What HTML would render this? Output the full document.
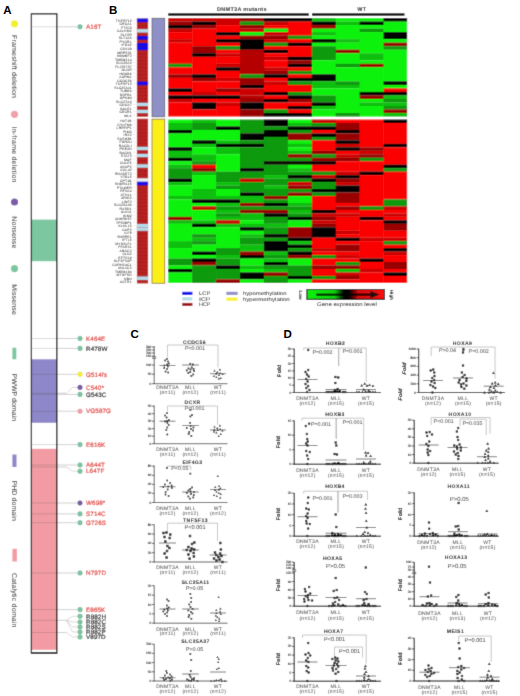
<!DOCTYPE html>
<html lang="en">
<head>
<meta charset="utf-8">
<title>DNMT3A mutations figure</title>
<style>
html,body{margin:0;padding:0;background:#fff;}
body{width:520px;height:696px;overflow:hidden;font-family:"Liberation Sans",sans-serif;}
svg{display:block;}
</style>
</head>
<body>
<svg width="520" height="696" viewBox="0 0 520 696" text-rendering="geometricPrecision">
<defs><filter id="soft" x="0" y="0" width="520" height="696" filterUnits="userSpaceOnUse"><feConvolveMatrix order="3" kernelMatrix="1 6 1 6 36 6 1 6 1" divisor="64" edgeMode="duplicate" preserveAlpha="true"/></filter></defs>
<rect x="0" y="0" width="520" height="696" fill="#ffffff"/>
<g filter="url(#soft)">
<rect x="0" y="0" width="520" height="696" fill="#ffffff"/>
<rect x="31.4" y="219.6" width="25.4" height="41.6" fill="#7cc6a0"/>
<rect x="31.4" y="359.3" width="25.4" height="63.5" fill="#8e87c9"/>
<rect x="31.4" y="448.8" width="25.4" height="201" fill="#f29ba3"/>
<circle cx="14.5" cy="23.8" r="3.6" fill="#f5ee2e"/>
<text transform="translate(11.9,35) rotate(90)" font-family="'Liberation Sans', sans-serif" font-size="7" fill="#222" textLength="63" lengthAdjust="spacing">Frameshift deletion</text>
<circle cx="14.5" cy="114.3" r="3.6" fill="#f0a0a8"/>
<text transform="translate(11.9,126.5) rotate(90)" font-family="'Liberation Sans', sans-serif" font-size="7" fill="#222" textLength="56" lengthAdjust="spacing">In-frame deletion</text>
<circle cx="14.5" cy="202" r="3.6" fill="#7b5aa6"/>
<text transform="translate(11.9,216.3) rotate(90)" font-family="'Liberation Sans', sans-serif" font-size="7" fill="#222" textLength="32" lengthAdjust="spacing">Nonsense</text>
<circle cx="14.5" cy="268.6" r="3.6" fill="#7cc6a0"/>
<text transform="translate(11.9,284.3) rotate(90)" font-family="'Liberation Sans', sans-serif" font-size="7" fill="#222" textLength="30.5" lengthAdjust="spacing">Missense</text>
<rect x="12.4" y="347.7" width="3.9" height="11.6" fill="#7cc6a0"/>
<text transform="translate(11.9,373.6) rotate(90)" font-family="'Liberation Sans', sans-serif" font-size="7" fill="#222" textLength="47.5" lengthAdjust="spacing">PWWP domain</text>
<rect x="12.4" y="454.5" width="4.1" height="12.5" fill="#8e87c9"/>
<text transform="translate(11.9,480.4) rotate(90)" font-family="'Liberation Sans', sans-serif" font-size="7" fill="#222" textLength="40.5" lengthAdjust="spacing">PHD domain</text>
<rect x="12.4" y="548.8" width="4.5" height="12.7" fill="#f29ba3"/>
<text transform="translate(11.9,573) rotate(90)" font-family="'Liberation Sans', sans-serif" font-size="7" fill="#222" textLength="54.5" lengthAdjust="spacing">Catalytic domain</text>
<line x1="31.4" y1="26.8" x2="56.8" y2="26.8" stroke="#444" stroke-opacity="0.32" stroke-width="0.6"/>
<line x1="56.8" y1="26.8" x2="77" y2="26.8" stroke="#aaa" stroke-width="0.55"/>
<circle cx="80" cy="26.8" r="2.3" fill="#7cc6a0" stroke="#58a884" stroke-width="0.5"/>
<text x="86" y="29.0" font-family="'Liberation Sans', sans-serif" font-size="6.3" fill="#e03a34" stroke="#e03a34" stroke-width="0.18" letter-spacing="0.1">A16T</text>
<line x1="31.4" y1="338.5" x2="56.8" y2="338.5" stroke="#444" stroke-opacity="0.32" stroke-width="0.6"/>
<line x1="56.8" y1="338.5" x2="77" y2="338.5" stroke="#aaa" stroke-width="0.55"/>
<circle cx="80" cy="338.5" r="2.3" fill="#7cc6a0" stroke="#58a884" stroke-width="0.5"/>
<text x="86" y="340.7" font-family="'Liberation Sans', sans-serif" font-size="6.3" fill="#e03a34" stroke="#e03a34" stroke-width="0.18" letter-spacing="0.1">K464E</text>
<line x1="31.4" y1="348.4" x2="56.8" y2="348.4" stroke="#444" stroke-opacity="0.32" stroke-width="0.6"/>
<line x1="56.8" y1="348.4" x2="77" y2="348.4" stroke="#aaa" stroke-width="0.55"/>
<circle cx="80" cy="348.4" r="2.3" fill="#7cc6a0" stroke="#58a884" stroke-width="0.5"/>
<text x="86" y="350.59999999999997" font-family="'Liberation Sans', sans-serif" font-size="6.3" fill="#1a1a1a" stroke="#1a1a1a" stroke-width="0.18" letter-spacing="0.1">R478W</text>
<line x1="31.4" y1="374.3" x2="56.8" y2="374.3" stroke="#444" stroke-opacity="0.32" stroke-width="0.6"/>
<line x1="56.8" y1="374.3" x2="77" y2="374.3" stroke="#aaa" stroke-width="0.55"/>
<circle cx="80" cy="374.3" r="2.3" fill="#f5ee2e" stroke="#d8d020" stroke-width="0.5"/>
<text x="86" y="376.5" font-family="'Liberation Sans', sans-serif" font-size="6.3" fill="#e03a34" stroke="#e03a34" stroke-width="0.18" letter-spacing="0.1">G514fs</text>
<line x1="31.4" y1="393.2" x2="56.8" y2="393.2" stroke="#444" stroke-opacity="0.32" stroke-width="0.6"/>
<line x1="56.8" y1="393.2" x2="66.5" y2="393.2" stroke="#aaa" stroke-width="0.55"/>
<polyline points="66.5,393.2 72.5,387.4 77,387.4" fill="none" stroke="#b4b4b4" stroke-width="0.5"/>
<circle cx="80" cy="387.4" r="2.3" fill="#7b5aa6" stroke="#5a3f85" stroke-width="0.5"/>
<text x="86" y="389.59999999999997" font-family="'Liberation Sans', sans-serif" font-size="6.3" fill="#e03a34" stroke="#e03a34" stroke-width="0.18" letter-spacing="0.1">C540*</text>
<line x1="31.4" y1="394.4" x2="56.8" y2="394.4" stroke="#444" stroke-opacity="0.32" stroke-width="0.6"/>
<line x1="56.8" y1="394.4" x2="77" y2="394.4" stroke="#aaa" stroke-width="0.55"/>
<circle cx="80" cy="394.4" r="2.3" fill="#7cc6a0" stroke="#58a884" stroke-width="0.5"/>
<text x="86" y="396.59999999999997" font-family="'Liberation Sans', sans-serif" font-size="6.3" fill="#1a1a1a" stroke="#1a1a1a" stroke-width="0.18" letter-spacing="0.1">G543C</text>
<line x1="31.4" y1="411.2" x2="56.8" y2="411.2" stroke="#444" stroke-opacity="0.32" stroke-width="0.6"/>
<line x1="56.8" y1="411.2" x2="77" y2="411.2" stroke="#aaa" stroke-width="0.55"/>
<circle cx="80" cy="411.2" r="2.3" fill="#f0a0a8" stroke="#d88890" stroke-width="0.5"/>
<text x="86" y="413.4" font-family="'Liberation Sans', sans-serif" font-size="6.3" fill="#e03a34" stroke="#e03a34" stroke-width="0.18" letter-spacing="0.1">VG587G</text>
<line x1="31.4" y1="444.6" x2="56.8" y2="444.6" stroke="#444" stroke-opacity="0.32" stroke-width="0.6"/>
<line x1="56.8" y1="444.6" x2="77" y2="444.6" stroke="#aaa" stroke-width="0.55"/>
<circle cx="80" cy="444.6" r="2.3" fill="#7cc6a0" stroke="#58a884" stroke-width="0.5"/>
<text x="86" y="446.8" font-family="'Liberation Sans', sans-serif" font-size="6.3" fill="#e03a34" stroke="#e03a34" stroke-width="0.18" letter-spacing="0.1">E616K</text>
<line x1="31.4" y1="465.0" x2="56.8" y2="465.0" stroke="#444" stroke-opacity="0.32" stroke-width="0.6"/>
<line x1="56.8" y1="465.0" x2="77" y2="465.0" stroke="#aaa" stroke-width="0.55"/>
<circle cx="80" cy="465.0" r="2.3" fill="#7cc6a0" stroke="#58a884" stroke-width="0.5"/>
<text x="86" y="467.2" font-family="'Liberation Sans', sans-serif" font-size="6.3" fill="#e03a34" stroke="#e03a34" stroke-width="0.18" letter-spacing="0.1">A644T</text>
<line x1="31.4" y1="467.0" x2="56.8" y2="467.0" stroke="#444" stroke-opacity="0.32" stroke-width="0.6"/>
<line x1="56.8" y1="467.0" x2="66.5" y2="467.0" stroke="#aaa" stroke-width="0.55"/>
<polyline points="66.5,467.0 72.5,471.2 77,471.2" fill="none" stroke="#b4b4b4" stroke-width="0.5"/>
<circle cx="80" cy="471.2" r="2.3" fill="#7cc6a0" stroke="#58a884" stroke-width="0.5"/>
<text x="86" y="473.4" font-family="'Liberation Sans', sans-serif" font-size="6.3" fill="#e03a34" stroke="#e03a34" stroke-width="0.18" letter-spacing="0.1">L647F</text>
<line x1="31.4" y1="503.0" x2="56.8" y2="503.0" stroke="#444" stroke-opacity="0.32" stroke-width="0.6"/>
<line x1="56.8" y1="503.0" x2="77" y2="503.0" stroke="#aaa" stroke-width="0.55"/>
<circle cx="80" cy="503.0" r="2.3" fill="#7b5aa6" stroke="#5a3f85" stroke-width="0.5"/>
<text x="86" y="505.2" font-family="'Liberation Sans', sans-serif" font-size="6.3" fill="#e03a34" stroke="#e03a34" stroke-width="0.18" letter-spacing="0.1">W698*</text>
<line x1="31.4" y1="513.9" x2="56.8" y2="513.9" stroke="#444" stroke-opacity="0.32" stroke-width="0.6"/>
<line x1="56.8" y1="513.9" x2="77" y2="513.9" stroke="#aaa" stroke-width="0.55"/>
<circle cx="80" cy="513.9" r="2.3" fill="#7cc6a0" stroke="#58a884" stroke-width="0.5"/>
<text x="86" y="516.1" font-family="'Liberation Sans', sans-serif" font-size="6.3" fill="#e03a34" stroke="#e03a34" stroke-width="0.18" letter-spacing="0.1">S714C</text>
<line x1="31.4" y1="522.7" x2="56.8" y2="522.7" stroke="#444" stroke-opacity="0.32" stroke-width="0.6"/>
<line x1="56.8" y1="522.7" x2="77" y2="522.7" stroke="#aaa" stroke-width="0.55"/>
<circle cx="80" cy="522.7" r="2.3" fill="#7cc6a0" stroke="#58a884" stroke-width="0.5"/>
<text x="86" y="524.9000000000001" font-family="'Liberation Sans', sans-serif" font-size="6.3" fill="#e03a34" stroke="#e03a34" stroke-width="0.18" letter-spacing="0.1">G726S</text>
<line x1="31.4" y1="573.0" x2="56.8" y2="573.0" stroke="#444" stroke-opacity="0.32" stroke-width="0.6"/>
<line x1="56.8" y1="573.0" x2="77" y2="573.0" stroke="#aaa" stroke-width="0.55"/>
<circle cx="80" cy="573.0" r="2.3" fill="#7cc6a0" stroke="#58a884" stroke-width="0.5"/>
<text x="86" y="575.2" font-family="'Liberation Sans', sans-serif" font-size="6.3" fill="#e03a34" stroke="#e03a34" stroke-width="0.18" letter-spacing="0.1">N797D</text>
<line x1="31.4" y1="609.6" x2="56.8" y2="609.6" stroke="#444" stroke-opacity="0.32" stroke-width="0.6"/>
<line x1="56.8" y1="609.6" x2="77" y2="609.6" stroke="#aaa" stroke-width="0.55"/>
<circle cx="80" cy="609.6" r="2.3" fill="#7cc6a0" stroke="#58a884" stroke-width="0.5"/>
<text x="86" y="611.8000000000001" font-family="'Liberation Sans', sans-serif" font-size="6.3" fill="#e03a34" stroke="#e03a34" stroke-width="0.18" letter-spacing="0.1">E865K</text>
<line x1="31.4" y1="620.3" x2="56.8" y2="620.3" stroke="#444" stroke-opacity="0.32" stroke-width="0.6"/>
<line x1="56.8" y1="620.3" x2="66.5" y2="620.3" stroke="#aaa" stroke-width="0.55"/>
<polyline points="66.5,620.3 72.5,616.3 77,616.3" fill="none" stroke="#b4b4b4" stroke-width="0.5"/>
<circle cx="80" cy="616.3" r="2.3" fill="#7cc6a0" stroke="#58a884" stroke-width="0.5"/>
<text x="86" y="618.5" font-family="'Liberation Sans', sans-serif" font-size="6.3" fill="#1a1a1a" stroke="#1a1a1a" stroke-width="0.18" letter-spacing="0.1">R882H</text>
<polyline points="66.5,620.3 72.5,622.0 77,622.0" fill="none" stroke="#b4b4b4" stroke-width="0.5"/>
<circle cx="80" cy="622.0" r="2.3" fill="#7cc6a0" stroke="#58a884" stroke-width="0.5"/>
<text x="86" y="624.2" font-family="'Liberation Sans', sans-serif" font-size="6.3" fill="#1a1a1a" stroke="#1a1a1a" stroke-width="0.18" letter-spacing="0.1">R882C</text>
<polyline points="66.5,620.3 72.5,627.0 77,627.0" fill="none" stroke="#b4b4b4" stroke-width="0.5"/>
<circle cx="80" cy="627.0" r="2.3" fill="#7cc6a0" stroke="#58a884" stroke-width="0.5"/>
<text x="86" y="629.2" font-family="'Liberation Sans', sans-serif" font-size="6.3" fill="#1a1a1a" stroke="#1a1a1a" stroke-width="0.18" letter-spacing="0.1">R882S</text>
<polyline points="66.5,620.3 72.5,632.0 77,632.0" fill="none" stroke="#b4b4b4" stroke-width="0.5"/>
<circle cx="80" cy="632.0" r="2.3" fill="#7cc6a0" stroke="#58a884" stroke-width="0.5"/>
<text x="86" y="634.2" font-family="'Liberation Sans', sans-serif" font-size="6.3" fill="#1a1a1a" stroke="#1a1a1a" stroke-width="0.18" letter-spacing="0.1">R882P</text>
<line x1="31.4" y1="632.5" x2="56.8" y2="632.5" stroke="#444" stroke-opacity="0.32" stroke-width="0.6"/>
<line x1="56.8" y1="632.5" x2="66.5" y2="632.5" stroke="#aaa" stroke-width="0.55"/>
<polyline points="66.5,632.5 72.5,637.0 77,637.0" fill="none" stroke="#b4b4b4" stroke-width="0.5"/>
<circle cx="80" cy="637.0" r="2.3" fill="#7cc6a0" stroke="#58a884" stroke-width="0.5"/>
<text x="86" y="639.2" font-family="'Liberation Sans', sans-serif" font-size="6.3" fill="#1a1a1a" stroke="#1a1a1a" stroke-width="0.18" letter-spacing="0.1">V897D</text>
<rect x="31.4" y="13.8" width="25.4" height="639.4000000000001" fill="none" stroke="#000" stroke-width="1.25"/>
<line x1="31.4" y1="652.9000000000001" x2="56.8" y2="652.9000000000001" stroke="#111" stroke-width="1.4"/>
<text x="241.9" y="10.9" text-anchor="middle" font-family="'Liberation Sans', sans-serif" font-size="5.5" font-weight="bold" fill="#111" letter-spacing="0.3">DNMT3A mutants</text>
<text x="361.8" y="10.9" text-anchor="middle" font-family="'Liberation Sans', sans-serif" font-size="5.5" font-weight="bold" fill="#111" letter-spacing="0.3">WT</text>
<rect x="168.2" y="13.3" width="140.6" height="2.4" fill="#000"/>
<rect x="312" y="13.3" width="92.5" height="2.4" fill="#000"/>
<rect x="168.20" y="18.05" width="24.23" height="3.64" fill="#cc0404"/>
<rect x="168.20" y="21.57" width="24.23" height="3.64" fill="#980303"/>
<rect x="168.20" y="25.08" width="24.23" height="3.64" fill="#050000"/>
<rect x="168.20" y="28.60" width="24.23" height="3.64" fill="#cc0404"/>
<rect x="168.20" y="32.11" width="24.23" height="7.15" fill="#fb0505"/>
<rect x="168.20" y="39.15" width="24.23" height="3.64" fill="#cc0404"/>
<rect x="168.20" y="42.66" width="24.23" height="21.22" fill="#fb0505"/>
<rect x="168.20" y="63.76" width="24.23" height="3.64" fill="#109a10"/>
<rect x="168.20" y="67.27" width="24.23" height="7.15" fill="#fb0505"/>
<rect x="168.20" y="74.31" width="24.23" height="3.64" fill="#980303"/>
<rect x="168.20" y="77.82" width="24.23" height="10.67" fill="#fb0505"/>
<rect x="168.20" y="88.37" width="24.23" height="3.64" fill="#050000"/>
<rect x="168.20" y="91.89" width="24.23" height="3.64" fill="#fb0505"/>
<rect x="168.20" y="95.40" width="24.23" height="3.64" fill="#050000"/>
<rect x="168.20" y="98.92" width="24.23" height="3.64" fill="#cc0404"/>
<rect x="168.20" y="102.43" width="24.23" height="14.18" fill="#fb0505"/>
<rect x="192.13" y="18.05" width="24.23" height="3.64" fill="#cc0404"/>
<rect x="192.13" y="21.57" width="24.23" height="3.64" fill="#050000"/>
<rect x="192.13" y="25.08" width="24.23" height="3.64" fill="#980303"/>
<rect x="192.13" y="28.60" width="24.23" height="17.70" fill="#fb0505"/>
<rect x="192.13" y="46.18" width="24.23" height="7.15" fill="#980303"/>
<rect x="192.13" y="53.21" width="24.23" height="3.64" fill="#050000"/>
<rect x="192.13" y="56.73" width="24.23" height="17.70" fill="#fb0505"/>
<rect x="192.13" y="74.31" width="24.23" height="3.64" fill="#050000"/>
<rect x="192.13" y="77.82" width="24.23" height="3.64" fill="#980303"/>
<rect x="192.13" y="81.34" width="24.23" height="10.67" fill="#fb0505"/>
<rect x="192.13" y="91.89" width="24.23" height="3.64" fill="#cc0404"/>
<rect x="192.13" y="95.40" width="24.23" height="3.64" fill="#050000"/>
<rect x="192.13" y="98.92" width="24.23" height="3.64" fill="#fb0505"/>
<rect x="192.13" y="102.43" width="24.23" height="7.15" fill="#050000"/>
<rect x="192.13" y="109.47" width="24.23" height="7.15" fill="#fb0505"/>
<rect x="216.06" y="18.05" width="24.23" height="7.15" fill="#cc0404"/>
<rect x="216.06" y="25.08" width="24.23" height="7.15" fill="#fb0505"/>
<rect x="216.06" y="32.11" width="24.23" height="3.64" fill="#050000"/>
<rect x="216.06" y="35.63" width="24.23" height="3.64" fill="#fb0505"/>
<rect x="216.06" y="39.15" width="24.23" height="3.64" fill="#050000"/>
<rect x="216.06" y="42.66" width="24.23" height="3.64" fill="#fb0505"/>
<rect x="216.06" y="46.18" width="24.23" height="3.64" fill="#109a10"/>
<rect x="216.06" y="49.69" width="24.23" height="3.64" fill="#fb0505"/>
<rect x="216.06" y="53.21" width="24.23" height="3.64" fill="#cc0404"/>
<rect x="216.06" y="56.73" width="24.23" height="7.15" fill="#fb0505"/>
<rect x="216.06" y="63.76" width="24.23" height="3.64" fill="#cc0404"/>
<rect x="216.06" y="67.27" width="24.23" height="3.64" fill="#050000"/>
<rect x="216.06" y="70.79" width="24.23" height="7.15" fill="#fb0505"/>
<rect x="216.06" y="77.82" width="24.23" height="3.64" fill="#cc0404"/>
<rect x="216.06" y="81.34" width="24.23" height="7.15" fill="#fb0505"/>
<rect x="216.06" y="88.37" width="24.23" height="3.64" fill="#980303"/>
<rect x="216.06" y="91.89" width="24.23" height="3.64" fill="#fb0505"/>
<rect x="216.06" y="95.40" width="24.23" height="3.64" fill="#050000"/>
<rect x="216.06" y="98.92" width="24.23" height="3.64" fill="#fb0505"/>
<rect x="216.06" y="102.43" width="24.23" height="3.64" fill="#cc0404"/>
<rect x="216.06" y="105.95" width="24.23" height="10.67" fill="#fb0505"/>
<rect x="239.99" y="18.05" width="24.23" height="3.64" fill="#980303"/>
<rect x="239.99" y="21.57" width="24.23" height="3.64" fill="#109a10"/>
<rect x="239.99" y="25.08" width="24.23" height="3.64" fill="#980303"/>
<rect x="239.99" y="28.60" width="24.23" height="3.64" fill="#cc0404"/>
<rect x="239.99" y="32.11" width="24.23" height="3.64" fill="#08f208"/>
<rect x="239.99" y="35.63" width="24.23" height="3.64" fill="#980303"/>
<rect x="239.99" y="39.15" width="24.23" height="10.67" fill="#050000"/>
<rect x="239.99" y="49.69" width="24.23" height="24.73" fill="#b40404"/>
<rect x="239.99" y="74.31" width="24.23" height="3.64" fill="#109a10"/>
<rect x="239.99" y="77.82" width="24.23" height="7.15" fill="#980303"/>
<rect x="239.99" y="84.85" width="24.23" height="3.64" fill="#050000"/>
<rect x="239.99" y="88.37" width="24.23" height="7.15" fill="#cc0404"/>
<rect x="239.99" y="95.40" width="24.23" height="3.64" fill="#b40404"/>
<rect x="239.99" y="98.92" width="24.23" height="3.64" fill="#980303"/>
<rect x="239.99" y="102.43" width="24.23" height="7.15" fill="#050000"/>
<rect x="239.99" y="109.47" width="24.23" height="7.15" fill="#980303"/>
<rect x="263.92" y="18.05" width="24.23" height="3.64" fill="#050000"/>
<rect x="263.92" y="21.57" width="24.23" height="3.64" fill="#cc0404"/>
<rect x="263.92" y="25.08" width="24.23" height="3.64" fill="#fb0505"/>
<rect x="263.92" y="28.60" width="24.23" height="3.64" fill="#08f208"/>
<rect x="263.92" y="32.11" width="24.23" height="3.64" fill="#cc0404"/>
<rect x="263.92" y="35.63" width="24.23" height="3.64" fill="#980303"/>
<rect x="263.92" y="39.15" width="24.23" height="3.64" fill="#cc0404"/>
<rect x="263.92" y="42.66" width="24.23" height="3.64" fill="#109a10"/>
<rect x="263.92" y="46.18" width="24.23" height="3.64" fill="#fb0505"/>
<rect x="263.92" y="49.69" width="24.23" height="3.64" fill="#050000"/>
<rect x="263.92" y="53.21" width="24.23" height="3.64" fill="#fb0505"/>
<rect x="263.92" y="56.73" width="24.23" height="3.64" fill="#cc0404"/>
<rect x="263.92" y="60.24" width="24.23" height="7.15" fill="#fb0505"/>
<rect x="263.92" y="67.27" width="24.23" height="3.64" fill="#cc0404"/>
<rect x="263.92" y="70.79" width="24.23" height="3.64" fill="#980303"/>
<rect x="263.92" y="74.31" width="24.23" height="3.64" fill="#050000"/>
<rect x="263.92" y="77.82" width="24.23" height="3.64" fill="#fb0505"/>
<rect x="263.92" y="81.34" width="24.23" height="3.64" fill="#cc0404"/>
<rect x="263.92" y="84.85" width="24.23" height="7.15" fill="#fb0505"/>
<rect x="263.92" y="91.89" width="24.23" height="3.64" fill="#050000"/>
<rect x="263.92" y="95.40" width="24.23" height="3.64" fill="#fb0505"/>
<rect x="263.92" y="98.92" width="24.23" height="3.64" fill="#050000"/>
<rect x="263.92" y="102.43" width="24.23" height="7.15" fill="#fb0505"/>
<rect x="263.92" y="109.47" width="24.23" height="3.64" fill="#109a10"/>
<rect x="263.92" y="112.98" width="24.23" height="3.64" fill="#050000"/>
<rect x="287.85" y="18.05" width="24.23" height="3.64" fill="#050000"/>
<rect x="287.85" y="21.57" width="24.23" height="14.18" fill="#fb0505"/>
<rect x="287.85" y="35.63" width="24.23" height="3.64" fill="#109a10"/>
<rect x="287.85" y="39.15" width="24.23" height="3.64" fill="#fb0505"/>
<rect x="287.85" y="42.66" width="24.23" height="3.64" fill="#050000"/>
<rect x="287.85" y="46.18" width="24.23" height="10.67" fill="#fb0505"/>
<rect x="287.85" y="56.73" width="24.23" height="3.64" fill="#050000"/>
<rect x="287.85" y="60.24" width="24.23" height="3.64" fill="#980303"/>
<rect x="287.85" y="63.76" width="24.23" height="3.64" fill="#050000"/>
<rect x="287.85" y="67.27" width="24.23" height="3.64" fill="#fb0505"/>
<rect x="287.85" y="70.79" width="24.23" height="3.64" fill="#109a10"/>
<rect x="287.85" y="74.31" width="24.23" height="3.64" fill="#fb0505"/>
<rect x="287.85" y="77.82" width="24.23" height="3.64" fill="#050000"/>
<rect x="287.85" y="81.34" width="24.23" height="3.64" fill="#109a10"/>
<rect x="287.85" y="84.85" width="24.23" height="7.15" fill="#fb0505"/>
<rect x="287.85" y="91.89" width="24.23" height="3.64" fill="#109a10"/>
<rect x="287.85" y="95.40" width="24.23" height="3.64" fill="#050000"/>
<rect x="287.85" y="98.92" width="24.23" height="3.64" fill="#980303"/>
<rect x="287.85" y="102.43" width="24.23" height="3.64" fill="#fb0505"/>
<rect x="287.85" y="105.95" width="24.23" height="3.64" fill="#050000"/>
<rect x="287.85" y="109.47" width="24.23" height="3.64" fill="#fb0505"/>
<rect x="287.85" y="112.98" width="24.23" height="3.64" fill="#050000"/>
<rect x="311.78" y="18.05" width="24.23" height="3.64" fill="#0cc00c"/>
<rect x="311.78" y="21.57" width="24.23" height="3.64" fill="#050000"/>
<rect x="311.78" y="25.08" width="24.23" height="3.64" fill="#980303"/>
<rect x="311.78" y="28.60" width="24.23" height="3.64" fill="#08f208"/>
<rect x="311.78" y="32.11" width="24.23" height="3.64" fill="#0cc00c"/>
<rect x="311.78" y="35.63" width="24.23" height="3.64" fill="#08f208"/>
<rect x="311.78" y="39.15" width="24.23" height="3.64" fill="#050000"/>
<rect x="311.78" y="42.66" width="24.23" height="3.64" fill="#08f208"/>
<rect x="311.78" y="46.18" width="24.23" height="14.18" fill="#109a10"/>
<rect x="311.78" y="60.24" width="24.23" height="14.18" fill="#08f208"/>
<rect x="311.78" y="74.31" width="24.23" height="7.15" fill="#050000"/>
<rect x="311.78" y="81.34" width="24.23" height="7.15" fill="#0cc00c"/>
<rect x="311.78" y="88.37" width="24.23" height="7.15" fill="#08f208"/>
<rect x="311.78" y="95.40" width="24.23" height="7.15" fill="#109a10"/>
<rect x="311.78" y="102.43" width="24.23" height="3.64" fill="#050000"/>
<rect x="311.78" y="105.95" width="24.23" height="3.64" fill="#0cc00c"/>
<rect x="311.78" y="109.47" width="24.23" height="7.15" fill="#08f208"/>
<rect x="335.71" y="18.05" width="24.23" height="3.64" fill="#08f208"/>
<rect x="335.71" y="21.57" width="24.23" height="3.64" fill="#0cc00c"/>
<rect x="335.71" y="25.08" width="24.23" height="14.18" fill="#08f208"/>
<rect x="335.71" y="39.15" width="24.23" height="3.64" fill="#0cc00c"/>
<rect x="335.71" y="42.66" width="24.23" height="7.15" fill="#08f208"/>
<rect x="335.71" y="49.69" width="24.23" height="3.64" fill="#980303"/>
<rect x="335.71" y="53.21" width="24.23" height="10.67" fill="#08f208"/>
<rect x="335.71" y="63.76" width="24.23" height="3.64" fill="#109a10"/>
<rect x="335.71" y="67.27" width="24.23" height="14.18" fill="#08f208"/>
<rect x="335.71" y="81.34" width="24.23" height="3.64" fill="#109a10"/>
<rect x="335.71" y="84.85" width="24.23" height="3.64" fill="#0cc00c"/>
<rect x="335.71" y="88.37" width="24.23" height="24.73" fill="#08f208"/>
<rect x="335.71" y="112.98" width="24.23" height="3.64" fill="#109a10"/>
<rect x="359.64" y="18.05" width="24.23" height="3.64" fill="#08f208"/>
<rect x="359.64" y="21.57" width="24.23" height="3.64" fill="#050000"/>
<rect x="359.64" y="25.08" width="24.23" height="3.64" fill="#08f208"/>
<rect x="359.64" y="28.60" width="24.23" height="3.64" fill="#109a10"/>
<rect x="359.64" y="32.11" width="24.23" height="21.22" fill="#08f208"/>
<rect x="359.64" y="53.21" width="24.23" height="7.15" fill="#0cc00c"/>
<rect x="359.64" y="60.24" width="24.23" height="3.64" fill="#08f208"/>
<rect x="359.64" y="63.76" width="24.23" height="3.64" fill="#980303"/>
<rect x="359.64" y="67.27" width="24.23" height="24.73" fill="#08f208"/>
<rect x="359.64" y="91.89" width="24.23" height="3.64" fill="#050000"/>
<rect x="359.64" y="95.40" width="24.23" height="3.64" fill="#980303"/>
<rect x="359.64" y="98.92" width="24.23" height="3.64" fill="#08f208"/>
<rect x="359.64" y="102.43" width="24.23" height="3.64" fill="#0cc00c"/>
<rect x="359.64" y="105.95" width="24.23" height="10.67" fill="#08f208"/>
<rect x="383.57" y="18.05" width="23.60" height="3.64" fill="#050000"/>
<rect x="383.57" y="21.57" width="23.60" height="10.67" fill="#08f208"/>
<rect x="383.57" y="32.11" width="23.60" height="7.15" fill="#050000"/>
<rect x="383.57" y="39.15" width="23.60" height="3.64" fill="#08f208"/>
<rect x="383.57" y="42.66" width="23.60" height="3.64" fill="#980303"/>
<rect x="383.57" y="46.18" width="23.60" height="3.64" fill="#109a10"/>
<rect x="383.57" y="49.69" width="23.60" height="31.76" fill="#08f208"/>
<rect x="383.57" y="81.34" width="23.60" height="3.64" fill="#050000"/>
<rect x="383.57" y="84.85" width="23.60" height="3.64" fill="#08f208"/>
<rect x="383.57" y="88.37" width="23.60" height="3.64" fill="#fb0505"/>
<rect x="383.57" y="91.89" width="23.60" height="3.64" fill="#050000"/>
<rect x="383.57" y="95.40" width="23.60" height="3.64" fill="#0cc00c"/>
<rect x="383.57" y="98.92" width="23.60" height="3.64" fill="#109a10"/>
<rect x="383.57" y="102.43" width="23.60" height="3.64" fill="#0cc00c"/>
<rect x="383.57" y="105.95" width="23.60" height="3.64" fill="#109a10"/>
<rect x="383.57" y="109.47" width="23.60" height="3.64" fill="#980303"/>
<rect x="383.57" y="112.98" width="23.60" height="3.64" fill="#0cc00c"/>
<rect x="168.20" y="119.50" width="24.23" height="3.60" fill="#08f208"/>
<rect x="168.20" y="122.97" width="24.23" height="7.07" fill="#0cc00c"/>
<rect x="168.20" y="129.93" width="24.23" height="3.60" fill="#050000"/>
<rect x="168.20" y="133.40" width="24.23" height="14.02" fill="#08f208"/>
<rect x="168.20" y="147.30" width="24.23" height="3.60" fill="#050000"/>
<rect x="168.20" y="150.78" width="24.23" height="7.07" fill="#0cc00c"/>
<rect x="168.20" y="157.72" width="24.23" height="3.60" fill="#050000"/>
<rect x="168.20" y="161.20" width="24.23" height="3.60" fill="#08f208"/>
<rect x="168.20" y="164.68" width="24.23" height="3.60" fill="#0cc00c"/>
<rect x="168.20" y="168.15" width="24.23" height="10.54" fill="#109a10"/>
<rect x="168.20" y="178.57" width="24.23" height="3.60" fill="#050000"/>
<rect x="168.20" y="182.05" width="24.23" height="3.60" fill="#0cc00c"/>
<rect x="168.20" y="185.53" width="24.23" height="10.54" fill="#08f208"/>
<rect x="168.20" y="195.95" width="24.23" height="3.60" fill="#0cc00c"/>
<rect x="168.20" y="199.43" width="24.23" height="17.50" fill="#08f208"/>
<rect x="168.20" y="216.80" width="24.23" height="3.60" fill="#980303"/>
<rect x="168.20" y="220.28" width="24.23" height="3.60" fill="#0cc00c"/>
<rect x="168.20" y="223.75" width="24.23" height="17.50" fill="#08f208"/>
<rect x="168.20" y="241.12" width="24.23" height="7.07" fill="#0cc00c"/>
<rect x="168.20" y="248.08" width="24.23" height="10.54" fill="#08f208"/>
<rect x="168.20" y="258.50" width="24.23" height="7.07" fill="#109a10"/>
<rect x="168.20" y="265.45" width="24.23" height="3.60" fill="#08f208"/>
<rect x="168.20" y="268.93" width="24.23" height="3.60" fill="#050000"/>
<rect x="168.20" y="272.40" width="24.23" height="10.54" fill="#08f208"/>
<rect x="192.13" y="119.50" width="24.23" height="3.60" fill="#0cc00c"/>
<rect x="192.13" y="122.97" width="24.23" height="7.07" fill="#109a10"/>
<rect x="192.13" y="129.93" width="24.23" height="10.54" fill="#08f208"/>
<rect x="192.13" y="140.35" width="24.23" height="3.60" fill="#050000"/>
<rect x="192.13" y="143.82" width="24.23" height="3.60" fill="#0cc00c"/>
<rect x="192.13" y="147.30" width="24.23" height="7.07" fill="#08f208"/>
<rect x="192.13" y="154.25" width="24.23" height="7.07" fill="#0cc00c"/>
<rect x="192.13" y="161.20" width="24.23" height="3.60" fill="#109a10"/>
<rect x="192.13" y="164.68" width="24.23" height="3.60" fill="#fb0505"/>
<rect x="192.13" y="168.15" width="24.23" height="3.60" fill="#980303"/>
<rect x="192.13" y="171.62" width="24.23" height="3.60" fill="#0cc00c"/>
<rect x="192.13" y="175.10" width="24.23" height="14.02" fill="#08f208"/>
<rect x="192.13" y="189.00" width="24.23" height="10.54" fill="#0cc00c"/>
<rect x="192.13" y="199.43" width="24.23" height="3.60" fill="#050000"/>
<rect x="192.13" y="202.90" width="24.23" height="3.60" fill="#08f208"/>
<rect x="192.13" y="206.38" width="24.23" height="3.60" fill="#cc0404"/>
<rect x="192.13" y="209.85" width="24.23" height="10.54" fill="#08f208"/>
<rect x="192.13" y="220.28" width="24.23" height="3.60" fill="#0cc00c"/>
<rect x="192.13" y="223.75" width="24.23" height="3.60" fill="#050000"/>
<rect x="192.13" y="227.23" width="24.23" height="7.07" fill="#08f208"/>
<rect x="192.13" y="234.18" width="24.23" height="3.60" fill="#109a10"/>
<rect x="192.13" y="237.65" width="24.23" height="3.60" fill="#0cc00c"/>
<rect x="192.13" y="241.12" width="24.23" height="3.60" fill="#109a10"/>
<rect x="192.13" y="244.60" width="24.23" height="7.07" fill="#08f208"/>
<rect x="192.13" y="251.55" width="24.23" height="3.60" fill="#050000"/>
<rect x="192.13" y="255.03" width="24.23" height="3.60" fill="#08f208"/>
<rect x="192.13" y="258.50" width="24.23" height="3.60" fill="#050000"/>
<rect x="192.13" y="261.98" width="24.23" height="3.60" fill="#980303"/>
<rect x="192.13" y="265.45" width="24.23" height="17.50" fill="#109a10"/>
<rect x="216.06" y="119.50" width="24.23" height="7.07" fill="#08f208"/>
<rect x="216.06" y="126.45" width="24.23" height="3.60" fill="#050000"/>
<rect x="216.06" y="129.93" width="24.23" height="10.54" fill="#08f208"/>
<rect x="216.06" y="140.35" width="24.23" height="3.60" fill="#0cc00c"/>
<rect x="216.06" y="143.82" width="24.23" height="3.60" fill="#050000"/>
<rect x="216.06" y="147.30" width="24.23" height="7.07" fill="#0cc00c"/>
<rect x="216.06" y="154.25" width="24.23" height="17.50" fill="#08f208"/>
<rect x="216.06" y="171.62" width="24.23" height="10.54" fill="#109a10"/>
<rect x="216.06" y="182.05" width="24.23" height="3.60" fill="#0cc00c"/>
<rect x="216.06" y="185.53" width="24.23" height="3.60" fill="#109a10"/>
<rect x="216.06" y="189.00" width="24.23" height="7.07" fill="#08f208"/>
<rect x="216.06" y="195.95" width="24.23" height="3.60" fill="#0cc00c"/>
<rect x="216.06" y="199.43" width="24.23" height="3.60" fill="#050000"/>
<rect x="216.06" y="202.90" width="24.23" height="3.60" fill="#0cc00c"/>
<rect x="216.06" y="206.38" width="24.23" height="3.60" fill="#109a10"/>
<rect x="216.06" y="209.85" width="24.23" height="3.60" fill="#0cc00c"/>
<rect x="216.06" y="213.32" width="24.23" height="3.60" fill="#109a10"/>
<rect x="216.06" y="216.80" width="24.23" height="3.60" fill="#0cc00c"/>
<rect x="216.06" y="220.28" width="24.23" height="3.60" fill="#cc0404"/>
<rect x="216.06" y="223.75" width="24.23" height="3.60" fill="#0cc00c"/>
<rect x="216.06" y="227.23" width="24.23" height="20.97" fill="#08f208"/>
<rect x="216.06" y="248.08" width="24.23" height="7.07" fill="#109a10"/>
<rect x="216.06" y="255.03" width="24.23" height="3.60" fill="#0cc00c"/>
<rect x="216.06" y="258.50" width="24.23" height="7.07" fill="#109a10"/>
<rect x="216.06" y="265.45" width="24.23" height="3.60" fill="#050000"/>
<rect x="216.06" y="268.93" width="24.23" height="10.54" fill="#109a10"/>
<rect x="216.06" y="279.35" width="24.23" height="3.60" fill="#980303"/>
<rect x="239.99" y="119.50" width="24.23" height="14.02" fill="#109a10"/>
<rect x="239.99" y="133.40" width="24.23" height="7.07" fill="#050000"/>
<rect x="239.99" y="140.35" width="24.23" height="3.60" fill="#109a10"/>
<rect x="239.99" y="143.82" width="24.23" height="3.60" fill="#050000"/>
<rect x="239.99" y="147.30" width="24.23" height="20.97" fill="#109a10"/>
<rect x="239.99" y="168.15" width="24.23" height="3.60" fill="#050000"/>
<rect x="239.99" y="171.62" width="24.23" height="7.07" fill="#109a10"/>
<rect x="239.99" y="178.57" width="24.23" height="3.60" fill="#cc0404"/>
<rect x="239.99" y="182.05" width="24.23" height="10.54" fill="#109a10"/>
<rect x="239.99" y="192.48" width="24.23" height="3.60" fill="#050000"/>
<rect x="239.99" y="195.95" width="24.23" height="7.07" fill="#0cc00c"/>
<rect x="239.99" y="202.90" width="24.23" height="3.60" fill="#980303"/>
<rect x="239.99" y="206.38" width="24.23" height="3.60" fill="#109a10"/>
<rect x="239.99" y="209.85" width="24.23" height="3.60" fill="#980303"/>
<rect x="239.99" y="213.32" width="24.23" height="7.07" fill="#0cc00c"/>
<rect x="239.99" y="220.28" width="24.23" height="3.60" fill="#08f208"/>
<rect x="239.99" y="223.75" width="24.23" height="3.60" fill="#0cc00c"/>
<rect x="239.99" y="227.23" width="24.23" height="3.60" fill="#050000"/>
<rect x="239.99" y="230.70" width="24.23" height="3.60" fill="#08f208"/>
<rect x="239.99" y="234.18" width="24.23" height="3.60" fill="#0cc00c"/>
<rect x="239.99" y="237.65" width="24.23" height="7.07" fill="#109a10"/>
<rect x="239.99" y="244.60" width="24.23" height="7.07" fill="#0cc00c"/>
<rect x="239.99" y="251.55" width="24.23" height="3.60" fill="#980303"/>
<rect x="239.99" y="255.03" width="24.23" height="3.60" fill="#050000"/>
<rect x="239.99" y="258.50" width="24.23" height="7.07" fill="#08f208"/>
<rect x="239.99" y="265.45" width="24.23" height="3.60" fill="#0cc00c"/>
<rect x="239.99" y="268.93" width="24.23" height="3.60" fill="#08f208"/>
<rect x="239.99" y="272.40" width="24.23" height="7.07" fill="#050000"/>
<rect x="239.99" y="279.35" width="24.23" height="3.60" fill="#08f208"/>
<rect x="263.92" y="119.50" width="24.23" height="7.07" fill="#050000"/>
<rect x="263.92" y="126.45" width="24.23" height="3.60" fill="#109a10"/>
<rect x="263.92" y="129.93" width="24.23" height="7.07" fill="#050000"/>
<rect x="263.92" y="136.88" width="24.23" height="24.45" fill="#109a10"/>
<rect x="263.92" y="161.20" width="24.23" height="3.60" fill="#050000"/>
<rect x="263.92" y="164.68" width="24.23" height="10.54" fill="#109a10"/>
<rect x="263.92" y="175.10" width="24.23" height="3.60" fill="#0cc00c"/>
<rect x="263.92" y="178.57" width="24.23" height="7.07" fill="#109a10"/>
<rect x="263.92" y="185.53" width="24.23" height="3.60" fill="#0cc00c"/>
<rect x="263.92" y="189.00" width="24.23" height="7.07" fill="#109a10"/>
<rect x="263.92" y="195.95" width="24.23" height="3.60" fill="#980303"/>
<rect x="263.92" y="199.43" width="24.23" height="3.60" fill="#109a10"/>
<rect x="263.92" y="202.90" width="24.23" height="3.60" fill="#050000"/>
<rect x="263.92" y="206.38" width="24.23" height="3.60" fill="#109a10"/>
<rect x="263.92" y="209.85" width="24.23" height="3.60" fill="#980303"/>
<rect x="263.92" y="213.32" width="24.23" height="3.60" fill="#050000"/>
<rect x="263.92" y="216.80" width="24.23" height="7.07" fill="#109a10"/>
<rect x="263.92" y="223.75" width="24.23" height="3.60" fill="#0cc00c"/>
<rect x="263.92" y="227.23" width="24.23" height="7.07" fill="#109a10"/>
<rect x="263.92" y="234.18" width="24.23" height="3.60" fill="#050000"/>
<rect x="263.92" y="237.65" width="24.23" height="3.60" fill="#109a10"/>
<rect x="263.92" y="241.12" width="24.23" height="10.54" fill="#050000"/>
<rect x="263.92" y="251.55" width="24.23" height="3.60" fill="#0cc00c"/>
<rect x="263.92" y="255.03" width="24.23" height="3.60" fill="#109a10"/>
<rect x="263.92" y="258.50" width="24.23" height="3.60" fill="#0cc00c"/>
<rect x="263.92" y="261.98" width="24.23" height="3.60" fill="#050000"/>
<rect x="263.92" y="265.45" width="24.23" height="3.60" fill="#109a10"/>
<rect x="263.92" y="268.93" width="24.23" height="3.60" fill="#0cc00c"/>
<rect x="263.92" y="272.40" width="24.23" height="3.60" fill="#980303"/>
<rect x="263.92" y="275.88" width="24.23" height="7.07" fill="#109a10"/>
<rect x="287.85" y="119.50" width="24.23" height="3.60" fill="#08f208"/>
<rect x="287.85" y="122.97" width="24.23" height="3.60" fill="#0cc00c"/>
<rect x="287.85" y="126.45" width="24.23" height="3.60" fill="#050000"/>
<rect x="287.85" y="129.93" width="24.23" height="3.60" fill="#109a10"/>
<rect x="287.85" y="133.40" width="24.23" height="7.07" fill="#980303"/>
<rect x="287.85" y="140.35" width="24.23" height="3.60" fill="#08f208"/>
<rect x="287.85" y="143.82" width="24.23" height="3.60" fill="#0cc00c"/>
<rect x="287.85" y="147.30" width="24.23" height="3.60" fill="#08f208"/>
<rect x="287.85" y="150.78" width="24.23" height="3.60" fill="#0cc00c"/>
<rect x="287.85" y="154.25" width="24.23" height="3.60" fill="#980303"/>
<rect x="287.85" y="157.72" width="24.23" height="3.60" fill="#109a10"/>
<rect x="287.85" y="161.20" width="24.23" height="3.60" fill="#050000"/>
<rect x="287.85" y="164.68" width="24.23" height="3.60" fill="#08f208"/>
<rect x="287.85" y="168.15" width="24.23" height="3.60" fill="#0cc00c"/>
<rect x="287.85" y="171.62" width="24.23" height="3.60" fill="#109a10"/>
<rect x="287.85" y="175.10" width="24.23" height="3.60" fill="#050000"/>
<rect x="287.85" y="178.57" width="24.23" height="3.60" fill="#109a10"/>
<rect x="287.85" y="182.05" width="24.23" height="3.60" fill="#cc0404"/>
<rect x="287.85" y="185.53" width="24.23" height="3.60" fill="#980303"/>
<rect x="287.85" y="189.00" width="24.23" height="3.60" fill="#109a10"/>
<rect x="287.85" y="192.48" width="24.23" height="3.60" fill="#980303"/>
<rect x="287.85" y="195.95" width="24.23" height="7.07" fill="#08f208"/>
<rect x="287.85" y="202.90" width="24.23" height="3.60" fill="#0cc00c"/>
<rect x="287.85" y="206.38" width="24.23" height="3.60" fill="#109a10"/>
<rect x="287.85" y="209.85" width="24.23" height="3.60" fill="#0cc00c"/>
<rect x="287.85" y="213.32" width="24.23" height="3.60" fill="#109a10"/>
<rect x="287.85" y="216.80" width="24.23" height="3.60" fill="#050000"/>
<rect x="287.85" y="220.28" width="24.23" height="7.07" fill="#08f208"/>
<rect x="287.85" y="227.23" width="24.23" height="10.54" fill="#980303"/>
<rect x="287.85" y="237.65" width="24.23" height="3.60" fill="#050000"/>
<rect x="287.85" y="241.12" width="24.23" height="3.60" fill="#0cc00c"/>
<rect x="287.85" y="244.60" width="24.23" height="3.60" fill="#050000"/>
<rect x="287.85" y="248.08" width="24.23" height="3.60" fill="#109a10"/>
<rect x="287.85" y="251.55" width="24.23" height="3.60" fill="#050000"/>
<rect x="287.85" y="255.03" width="24.23" height="3.60" fill="#980303"/>
<rect x="287.85" y="258.50" width="24.23" height="7.07" fill="#08f208"/>
<rect x="287.85" y="265.45" width="24.23" height="10.54" fill="#109a10"/>
<rect x="287.85" y="275.88" width="24.23" height="3.60" fill="#050000"/>
<rect x="287.85" y="279.35" width="24.23" height="3.60" fill="#08f208"/>
<rect x="311.78" y="119.50" width="24.23" height="3.60" fill="#cc0404"/>
<rect x="311.78" y="122.97" width="24.23" height="3.60" fill="#109a10"/>
<rect x="311.78" y="126.45" width="24.23" height="3.60" fill="#050000"/>
<rect x="311.78" y="129.93" width="24.23" height="3.60" fill="#fb0505"/>
<rect x="311.78" y="133.40" width="24.23" height="3.60" fill="#050000"/>
<rect x="311.78" y="136.88" width="24.23" height="3.60" fill="#109a10"/>
<rect x="311.78" y="140.35" width="24.23" height="10.54" fill="#fb0505"/>
<rect x="311.78" y="150.78" width="24.23" height="3.60" fill="#980303"/>
<rect x="311.78" y="154.25" width="24.23" height="3.60" fill="#109a10"/>
<rect x="311.78" y="157.72" width="24.23" height="3.60" fill="#980303"/>
<rect x="311.78" y="161.20" width="24.23" height="3.60" fill="#050000"/>
<rect x="311.78" y="164.68" width="24.23" height="7.07" fill="#fb0505"/>
<rect x="311.78" y="171.62" width="24.23" height="3.60" fill="#109a10"/>
<rect x="311.78" y="175.10" width="24.23" height="3.60" fill="#cc0404"/>
<rect x="311.78" y="178.57" width="24.23" height="3.60" fill="#050000"/>
<rect x="311.78" y="182.05" width="24.23" height="7.07" fill="#109a10"/>
<rect x="311.78" y="189.00" width="24.23" height="3.60" fill="#050000"/>
<rect x="311.78" y="192.48" width="24.23" height="3.60" fill="#109a10"/>
<rect x="311.78" y="195.95" width="24.23" height="14.02" fill="#fb0505"/>
<rect x="311.78" y="209.85" width="24.23" height="3.60" fill="#050000"/>
<rect x="311.78" y="213.32" width="24.23" height="3.60" fill="#cc0404"/>
<rect x="311.78" y="216.80" width="24.23" height="3.60" fill="#980303"/>
<rect x="311.78" y="220.28" width="24.23" height="3.60" fill="#cc0404"/>
<rect x="311.78" y="223.75" width="24.23" height="3.60" fill="#980303"/>
<rect x="311.78" y="227.23" width="24.23" height="10.54" fill="#050000"/>
<rect x="311.78" y="237.65" width="24.23" height="10.54" fill="#fb0505"/>
<rect x="311.78" y="248.08" width="24.23" height="3.60" fill="#cc0404"/>
<rect x="311.78" y="251.55" width="24.23" height="3.60" fill="#fb0505"/>
<rect x="311.78" y="255.03" width="24.23" height="3.60" fill="#109a10"/>
<rect x="311.78" y="258.50" width="24.23" height="7.07" fill="#fb0505"/>
<rect x="311.78" y="265.45" width="24.23" height="3.60" fill="#980303"/>
<rect x="311.78" y="268.93" width="24.23" height="7.07" fill="#fb0505"/>
<rect x="311.78" y="275.88" width="24.23" height="3.60" fill="#109a10"/>
<rect x="311.78" y="279.35" width="24.23" height="3.60" fill="#fb0505"/>
<rect x="335.71" y="119.50" width="24.23" height="3.60" fill="#fb0505"/>
<rect x="335.71" y="122.97" width="24.23" height="7.07" fill="#980303"/>
<rect x="335.71" y="129.93" width="24.23" height="3.60" fill="#050000"/>
<rect x="335.71" y="133.40" width="24.23" height="7.07" fill="#980303"/>
<rect x="335.71" y="140.35" width="24.23" height="3.60" fill="#050000"/>
<rect x="335.71" y="143.82" width="24.23" height="3.60" fill="#cc0404"/>
<rect x="335.71" y="147.30" width="24.23" height="3.60" fill="#050000"/>
<rect x="335.71" y="150.78" width="24.23" height="3.60" fill="#fb0505"/>
<rect x="335.71" y="154.25" width="24.23" height="3.60" fill="#cc0404"/>
<rect x="335.71" y="157.72" width="24.23" height="3.60" fill="#980303"/>
<rect x="335.71" y="161.20" width="24.23" height="10.54" fill="#fb0505"/>
<rect x="335.71" y="171.62" width="24.23" height="3.60" fill="#cc0404"/>
<rect x="335.71" y="175.10" width="24.23" height="3.60" fill="#050000"/>
<rect x="335.71" y="178.57" width="24.23" height="3.60" fill="#980303"/>
<rect x="335.71" y="182.05" width="24.23" height="3.60" fill="#cc0404"/>
<rect x="335.71" y="185.53" width="24.23" height="7.07" fill="#050000"/>
<rect x="335.71" y="192.48" width="24.23" height="10.54" fill="#980303"/>
<rect x="335.71" y="202.90" width="24.23" height="3.60" fill="#fb0505"/>
<rect x="335.71" y="206.38" width="24.23" height="3.60" fill="#980303"/>
<rect x="335.71" y="209.85" width="24.23" height="3.60" fill="#fb0505"/>
<rect x="335.71" y="213.32" width="24.23" height="3.60" fill="#cc0404"/>
<rect x="335.71" y="216.80" width="24.23" height="14.02" fill="#fb0505"/>
<rect x="335.71" y="230.70" width="24.23" height="3.60" fill="#cc0404"/>
<rect x="335.71" y="234.18" width="24.23" height="3.60" fill="#fb0505"/>
<rect x="335.71" y="237.65" width="24.23" height="3.60" fill="#050000"/>
<rect x="335.71" y="241.12" width="24.23" height="3.60" fill="#fb0505"/>
<rect x="335.71" y="244.60" width="24.23" height="7.07" fill="#980303"/>
<rect x="335.71" y="251.55" width="24.23" height="3.60" fill="#fb0505"/>
<rect x="335.71" y="255.03" width="24.23" height="3.60" fill="#cc0404"/>
<rect x="335.71" y="258.50" width="24.23" height="3.60" fill="#fb0505"/>
<rect x="335.71" y="261.98" width="24.23" height="3.60" fill="#109a10"/>
<rect x="335.71" y="265.45" width="24.23" height="3.60" fill="#980303"/>
<rect x="335.71" y="268.93" width="24.23" height="3.60" fill="#0cc00c"/>
<rect x="335.71" y="272.40" width="24.23" height="3.60" fill="#cc0404"/>
<rect x="335.71" y="275.88" width="24.23" height="3.60" fill="#980303"/>
<rect x="335.71" y="279.35" width="24.23" height="3.60" fill="#fb0505"/>
<rect x="359.64" y="119.50" width="24.23" height="27.92" fill="#fb0505"/>
<rect x="359.64" y="147.30" width="24.23" height="3.60" fill="#980303"/>
<rect x="359.64" y="150.78" width="24.23" height="3.60" fill="#cc0404"/>
<rect x="359.64" y="154.25" width="24.23" height="3.60" fill="#980303"/>
<rect x="359.64" y="157.72" width="24.23" height="3.60" fill="#109a10"/>
<rect x="359.64" y="161.20" width="24.23" height="10.54" fill="#fb0505"/>
<rect x="359.64" y="171.62" width="24.23" height="3.60" fill="#050000"/>
<rect x="359.64" y="175.10" width="24.23" height="31.40" fill="#fb0505"/>
<rect x="359.64" y="206.38" width="24.23" height="3.60" fill="#109a10"/>
<rect x="359.64" y="209.85" width="24.23" height="7.07" fill="#fb0505"/>
<rect x="359.64" y="216.80" width="24.23" height="3.60" fill="#050000"/>
<rect x="359.64" y="220.28" width="24.23" height="17.50" fill="#fb0505"/>
<rect x="359.64" y="237.65" width="24.23" height="3.60" fill="#cc0404"/>
<rect x="359.64" y="241.12" width="24.23" height="17.50" fill="#fb0505"/>
<rect x="359.64" y="258.50" width="24.23" height="3.60" fill="#050000"/>
<rect x="359.64" y="261.98" width="24.23" height="7.07" fill="#fb0505"/>
<rect x="359.64" y="268.93" width="24.23" height="3.60" fill="#cc0404"/>
<rect x="359.64" y="272.40" width="24.23" height="10.54" fill="#fb0505"/>
<rect x="383.57" y="119.50" width="23.60" height="3.60" fill="#050000"/>
<rect x="383.57" y="122.97" width="23.60" height="20.97" fill="#fb0505"/>
<rect x="383.57" y="143.82" width="23.60" height="3.60" fill="#050000"/>
<rect x="383.57" y="147.30" width="23.60" height="17.50" fill="#fb0505"/>
<rect x="383.57" y="164.68" width="23.60" height="3.60" fill="#050000"/>
<rect x="383.57" y="168.15" width="23.60" height="3.60" fill="#109a10"/>
<rect x="383.57" y="171.62" width="23.60" height="27.92" fill="#fb0505"/>
<rect x="383.57" y="199.43" width="23.60" height="7.07" fill="#109a10"/>
<rect x="383.57" y="206.38" width="23.60" height="3.60" fill="#cc0404"/>
<rect x="383.57" y="209.85" width="23.60" height="3.60" fill="#fb0505"/>
<rect x="383.57" y="213.32" width="23.60" height="3.60" fill="#cc0404"/>
<rect x="383.57" y="216.80" width="23.60" height="3.60" fill="#fb0505"/>
<rect x="383.57" y="220.28" width="23.60" height="3.60" fill="#050000"/>
<rect x="383.57" y="223.75" width="23.60" height="7.07" fill="#980303"/>
<rect x="383.57" y="230.70" width="23.60" height="7.07" fill="#fb0505"/>
<rect x="383.57" y="237.65" width="23.60" height="3.60" fill="#cc0404"/>
<rect x="383.57" y="241.12" width="23.60" height="3.60" fill="#109a10"/>
<rect x="383.57" y="244.60" width="23.60" height="3.60" fill="#fb0505"/>
<rect x="383.57" y="248.08" width="23.60" height="3.60" fill="#050000"/>
<rect x="383.57" y="251.55" width="23.60" height="3.60" fill="#cc0404"/>
<rect x="383.57" y="255.03" width="23.60" height="7.07" fill="#fb0505"/>
<rect x="383.57" y="261.98" width="23.60" height="7.07" fill="#980303"/>
<rect x="383.57" y="268.93" width="23.60" height="3.60" fill="#fb0505"/>
<rect x="383.57" y="272.40" width="23.60" height="3.60" fill="#050000"/>
<rect x="383.57" y="275.88" width="23.60" height="7.07" fill="#fb0505"/>
<rect x="136.9" y="18.6" width="11.2" height="98.14" fill="#bb2424"/>
<line x1="136.9" y1="22.11" x2="148.1" y2="22.11" stroke="#7a1010" stroke-width="0.35" stroke-opacity="0.6"/>
<line x1="136.9" y1="25.61" x2="148.1" y2="25.61" stroke="#7a1010" stroke-width="0.35" stroke-opacity="0.6"/>
<line x1="136.9" y1="29.12" x2="148.1" y2="29.12" stroke="#7a1010" stroke-width="0.35" stroke-opacity="0.6"/>
<line x1="136.9" y1="32.62" x2="148.1" y2="32.62" stroke="#7a1010" stroke-width="0.35" stroke-opacity="0.6"/>
<line x1="136.9" y1="36.12" x2="148.1" y2="36.12" stroke="#7a1010" stroke-width="0.35" stroke-opacity="0.6"/>
<line x1="136.9" y1="39.63" x2="148.1" y2="39.63" stroke="#7a1010" stroke-width="0.35" stroke-opacity="0.6"/>
<line x1="136.9" y1="43.14" x2="148.1" y2="43.14" stroke="#7a1010" stroke-width="0.35" stroke-opacity="0.6"/>
<line x1="136.9" y1="46.64" x2="148.1" y2="46.64" stroke="#7a1010" stroke-width="0.35" stroke-opacity="0.6"/>
<line x1="136.9" y1="50.14" x2="148.1" y2="50.14" stroke="#7a1010" stroke-width="0.35" stroke-opacity="0.6"/>
<line x1="136.9" y1="53.65" x2="148.1" y2="53.65" stroke="#7a1010" stroke-width="0.35" stroke-opacity="0.6"/>
<line x1="136.9" y1="57.16" x2="148.1" y2="57.16" stroke="#7a1010" stroke-width="0.35" stroke-opacity="0.6"/>
<line x1="136.9" y1="60.66" x2="148.1" y2="60.66" stroke="#7a1010" stroke-width="0.35" stroke-opacity="0.6"/>
<line x1="136.9" y1="64.16" x2="148.1" y2="64.16" stroke="#7a1010" stroke-width="0.35" stroke-opacity="0.6"/>
<line x1="136.9" y1="67.67" x2="148.1" y2="67.67" stroke="#7a1010" stroke-width="0.35" stroke-opacity="0.6"/>
<line x1="136.9" y1="71.17" x2="148.1" y2="71.17" stroke="#7a1010" stroke-width="0.35" stroke-opacity="0.6"/>
<line x1="136.9" y1="74.68" x2="148.1" y2="74.68" stroke="#7a1010" stroke-width="0.35" stroke-opacity="0.6"/>
<line x1="136.9" y1="78.19" x2="148.1" y2="78.19" stroke="#7a1010" stroke-width="0.35" stroke-opacity="0.6"/>
<line x1="136.9" y1="81.69" x2="148.1" y2="81.69" stroke="#7a1010" stroke-width="0.35" stroke-opacity="0.6"/>
<line x1="136.9" y1="85.19" x2="148.1" y2="85.19" stroke="#7a1010" stroke-width="0.35" stroke-opacity="0.6"/>
<line x1="136.9" y1="88.70" x2="148.1" y2="88.70" stroke="#7a1010" stroke-width="0.35" stroke-opacity="0.6"/>
<line x1="136.9" y1="92.21" x2="148.1" y2="92.21" stroke="#7a1010" stroke-width="0.35" stroke-opacity="0.6"/>
<line x1="136.9" y1="95.71" x2="148.1" y2="95.71" stroke="#7a1010" stroke-width="0.35" stroke-opacity="0.6"/>
<line x1="136.9" y1="99.22" x2="148.1" y2="99.22" stroke="#7a1010" stroke-width="0.35" stroke-opacity="0.6"/>
<line x1="136.9" y1="102.72" x2="148.1" y2="102.72" stroke="#7a1010" stroke-width="0.35" stroke-opacity="0.6"/>
<line x1="136.9" y1="106.22" x2="148.1" y2="106.22" stroke="#7a1010" stroke-width="0.35" stroke-opacity="0.6"/>
<line x1="136.9" y1="109.73" x2="148.1" y2="109.73" stroke="#7a1010" stroke-width="0.35" stroke-opacity="0.6"/>
<line x1="136.9" y1="113.23" x2="148.1" y2="113.23" stroke="#7a1010" stroke-width="0.35" stroke-opacity="0.6"/>
<line x1="139.70" y1="18.6" x2="139.70" y2="116.74" stroke="#7a1010" stroke-width="0.3" stroke-opacity="0.5"/>
<line x1="142.50" y1="18.6" x2="142.50" y2="116.74" stroke="#7a1010" stroke-width="0.3" stroke-opacity="0.5"/>
<line x1="145.30" y1="18.6" x2="145.30" y2="116.74" stroke="#7a1010" stroke-width="0.3" stroke-opacity="0.5"/>
<rect x="136.9" y="18.60" width="11.2" height="3.50" fill="#0a0aee"/>
<rect x="136.9" y="29.12" width="11.2" height="3.50" fill="#b4dcea"/>
<rect x="136.9" y="36.12" width="11.2" height="3.50" fill="#0a0aee"/>
<rect x="136.9" y="43.14" width="11.2" height="3.50" fill="#0a0aee"/>
<rect x="136.9" y="46.64" width="11.2" height="3.50" fill="#0a0aee"/>
<rect x="136.9" y="81.69" width="11.2" height="3.50" fill="#0a0aee"/>
<rect x="136.9" y="102.72" width="11.2" height="3.50" fill="#b4dcea"/>
<rect x="136.9" y="109.73" width="11.2" height="3.50" fill="#b4dcea"/>
<rect x="136.9" y="118.7" width="11.2" height="164.73" fill="#bb2424"/>
<line x1="136.9" y1="122.20" x2="148.1" y2="122.20" stroke="#7a1010" stroke-width="0.35" stroke-opacity="0.6"/>
<line x1="136.9" y1="125.71" x2="148.1" y2="125.71" stroke="#7a1010" stroke-width="0.35" stroke-opacity="0.6"/>
<line x1="136.9" y1="129.22" x2="148.1" y2="129.22" stroke="#7a1010" stroke-width="0.35" stroke-opacity="0.6"/>
<line x1="136.9" y1="132.72" x2="148.1" y2="132.72" stroke="#7a1010" stroke-width="0.35" stroke-opacity="0.6"/>
<line x1="136.9" y1="136.22" x2="148.1" y2="136.22" stroke="#7a1010" stroke-width="0.35" stroke-opacity="0.6"/>
<line x1="136.9" y1="139.73" x2="148.1" y2="139.73" stroke="#7a1010" stroke-width="0.35" stroke-opacity="0.6"/>
<line x1="136.9" y1="143.24" x2="148.1" y2="143.24" stroke="#7a1010" stroke-width="0.35" stroke-opacity="0.6"/>
<line x1="136.9" y1="146.74" x2="148.1" y2="146.74" stroke="#7a1010" stroke-width="0.35" stroke-opacity="0.6"/>
<line x1="136.9" y1="150.25" x2="148.1" y2="150.25" stroke="#7a1010" stroke-width="0.35" stroke-opacity="0.6"/>
<line x1="136.9" y1="153.75" x2="148.1" y2="153.75" stroke="#7a1010" stroke-width="0.35" stroke-opacity="0.6"/>
<line x1="136.9" y1="157.25" x2="148.1" y2="157.25" stroke="#7a1010" stroke-width="0.35" stroke-opacity="0.6"/>
<line x1="136.9" y1="160.76" x2="148.1" y2="160.76" stroke="#7a1010" stroke-width="0.35" stroke-opacity="0.6"/>
<line x1="136.9" y1="164.26" x2="148.1" y2="164.26" stroke="#7a1010" stroke-width="0.35" stroke-opacity="0.6"/>
<line x1="136.9" y1="167.77" x2="148.1" y2="167.77" stroke="#7a1010" stroke-width="0.35" stroke-opacity="0.6"/>
<line x1="136.9" y1="171.28" x2="148.1" y2="171.28" stroke="#7a1010" stroke-width="0.35" stroke-opacity="0.6"/>
<line x1="136.9" y1="174.78" x2="148.1" y2="174.78" stroke="#7a1010" stroke-width="0.35" stroke-opacity="0.6"/>
<line x1="136.9" y1="178.28" x2="148.1" y2="178.28" stroke="#7a1010" stroke-width="0.35" stroke-opacity="0.6"/>
<line x1="136.9" y1="181.79" x2="148.1" y2="181.79" stroke="#7a1010" stroke-width="0.35" stroke-opacity="0.6"/>
<line x1="136.9" y1="185.30" x2="148.1" y2="185.30" stroke="#7a1010" stroke-width="0.35" stroke-opacity="0.6"/>
<line x1="136.9" y1="188.80" x2="148.1" y2="188.80" stroke="#7a1010" stroke-width="0.35" stroke-opacity="0.6"/>
<line x1="136.9" y1="192.31" x2="148.1" y2="192.31" stroke="#7a1010" stroke-width="0.35" stroke-opacity="0.6"/>
<line x1="136.9" y1="195.81" x2="148.1" y2="195.81" stroke="#7a1010" stroke-width="0.35" stroke-opacity="0.6"/>
<line x1="136.9" y1="199.31" x2="148.1" y2="199.31" stroke="#7a1010" stroke-width="0.35" stroke-opacity="0.6"/>
<line x1="136.9" y1="202.82" x2="148.1" y2="202.82" stroke="#7a1010" stroke-width="0.35" stroke-opacity="0.6"/>
<line x1="136.9" y1="206.32" x2="148.1" y2="206.32" stroke="#7a1010" stroke-width="0.35" stroke-opacity="0.6"/>
<line x1="136.9" y1="209.83" x2="148.1" y2="209.83" stroke="#7a1010" stroke-width="0.35" stroke-opacity="0.6"/>
<line x1="136.9" y1="213.33" x2="148.1" y2="213.33" stroke="#7a1010" stroke-width="0.35" stroke-opacity="0.6"/>
<line x1="136.9" y1="216.84" x2="148.1" y2="216.84" stroke="#7a1010" stroke-width="0.35" stroke-opacity="0.6"/>
<line x1="136.9" y1="220.34" x2="148.1" y2="220.34" stroke="#7a1010" stroke-width="0.35" stroke-opacity="0.6"/>
<line x1="136.9" y1="223.85" x2="148.1" y2="223.85" stroke="#7a1010" stroke-width="0.35" stroke-opacity="0.6"/>
<line x1="136.9" y1="227.36" x2="148.1" y2="227.36" stroke="#7a1010" stroke-width="0.35" stroke-opacity="0.6"/>
<line x1="136.9" y1="230.86" x2="148.1" y2="230.86" stroke="#7a1010" stroke-width="0.35" stroke-opacity="0.6"/>
<line x1="136.9" y1="234.37" x2="148.1" y2="234.37" stroke="#7a1010" stroke-width="0.35" stroke-opacity="0.6"/>
<line x1="136.9" y1="237.87" x2="148.1" y2="237.87" stroke="#7a1010" stroke-width="0.35" stroke-opacity="0.6"/>
<line x1="136.9" y1="241.38" x2="148.1" y2="241.38" stroke="#7a1010" stroke-width="0.35" stroke-opacity="0.6"/>
<line x1="136.9" y1="244.88" x2="148.1" y2="244.88" stroke="#7a1010" stroke-width="0.35" stroke-opacity="0.6"/>
<line x1="136.9" y1="248.38" x2="148.1" y2="248.38" stroke="#7a1010" stroke-width="0.35" stroke-opacity="0.6"/>
<line x1="136.9" y1="251.89" x2="148.1" y2="251.89" stroke="#7a1010" stroke-width="0.35" stroke-opacity="0.6"/>
<line x1="136.9" y1="255.39" x2="148.1" y2="255.39" stroke="#7a1010" stroke-width="0.35" stroke-opacity="0.6"/>
<line x1="136.9" y1="258.90" x2="148.1" y2="258.90" stroke="#7a1010" stroke-width="0.35" stroke-opacity="0.6"/>
<line x1="136.9" y1="262.40" x2="148.1" y2="262.40" stroke="#7a1010" stroke-width="0.35" stroke-opacity="0.6"/>
<line x1="136.9" y1="265.91" x2="148.1" y2="265.91" stroke="#7a1010" stroke-width="0.35" stroke-opacity="0.6"/>
<line x1="136.9" y1="269.42" x2="148.1" y2="269.42" stroke="#7a1010" stroke-width="0.35" stroke-opacity="0.6"/>
<line x1="136.9" y1="272.92" x2="148.1" y2="272.92" stroke="#7a1010" stroke-width="0.35" stroke-opacity="0.6"/>
<line x1="136.9" y1="276.43" x2="148.1" y2="276.43" stroke="#7a1010" stroke-width="0.35" stroke-opacity="0.6"/>
<line x1="136.9" y1="279.93" x2="148.1" y2="279.93" stroke="#7a1010" stroke-width="0.35" stroke-opacity="0.6"/>
<line x1="139.70" y1="118.7" x2="139.70" y2="283.44" stroke="#7a1010" stroke-width="0.3" stroke-opacity="0.5"/>
<line x1="142.50" y1="118.7" x2="142.50" y2="283.44" stroke="#7a1010" stroke-width="0.3" stroke-opacity="0.5"/>
<line x1="145.30" y1="118.7" x2="145.30" y2="283.44" stroke="#7a1010" stroke-width="0.3" stroke-opacity="0.5"/>
<rect x="136.9" y="146.74" width="11.2" height="3.50" fill="#b4dcea"/>
<rect x="136.9" y="153.75" width="11.2" height="3.50" fill="#b4dcea"/>
<rect x="136.9" y="164.26" width="11.2" height="3.50" fill="#b4dcea"/>
<rect x="136.9" y="178.28" width="11.2" height="3.50" fill="#e8f2f6"/>
<rect x="136.9" y="181.79" width="11.2" height="3.50" fill="#0a0aee"/>
<rect x="136.9" y="223.85" width="11.2" height="3.50" fill="#b4dcea"/>
<rect x="136.9" y="227.36" width="11.2" height="3.50" fill="#b4dcea"/>
<rect x="136.9" y="276.43" width="11.2" height="3.50" fill="#b4dcea"/>
<rect x="152.0" y="18.2" width="12.8" height="98.6" fill="#9090c8" stroke="#444" stroke-width="0.6"/>
<rect x="152.0" y="119.1" width="12.8" height="164.1" fill="#fbf014" stroke="#6b4a10" stroke-width="0.6"/>
<g transform="translate(0 0)">
<text x="131.8" y="21.95" text-anchor="end" font-family="'Liberation Sans', sans-serif" font-size="3.4" fill="#000" letter-spacing="0.18">TNFSF13</text>
<line x1="133.6" y1="20.35" x2="135.2" y2="20.35" stroke="#f0a0a0" stroke-width="0.4"/>
<text x="131.8" y="25.46" text-anchor="end" font-family="'Liberation Sans', sans-serif" font-size="3.4" fill="#000" letter-spacing="0.18">CRCA1</text>
<line x1="133.6" y1="23.86" x2="135.2" y2="23.86" stroke="#f0a0a0" stroke-width="0.4"/>
<text x="131.8" y="28.96" text-anchor="end" font-family="'Liberation Sans', sans-serif" font-size="3.4" fill="#000" letter-spacing="0.18">FTSJ3</text>
<line x1="133.6" y1="27.36" x2="135.2" y2="27.36" stroke="#f0a0a0" stroke-width="0.4"/>
<text x="131.8" y="32.47" text-anchor="end" font-family="'Liberation Sans', sans-serif" font-size="3.4" fill="#000" letter-spacing="0.18">CALHM2</text>
<line x1="133.6" y1="30.87" x2="135.2" y2="30.87" stroke="#f0a0a0" stroke-width="0.4"/>
<text x="131.8" y="35.97" text-anchor="end" font-family="'Liberation Sans', sans-serif" font-size="3.4" fill="#000" letter-spacing="0.18">SLY2R</text>
<line x1="133.6" y1="34.37" x2="135.2" y2="34.37" stroke="#f0a0a0" stroke-width="0.4"/>
<text x="131.8" y="39.48" text-anchor="end" font-family="'Liberation Sans', sans-serif" font-size="3.4" fill="#000" letter-spacing="0.18">SLT1A5</text>
<line x1="133.6" y1="37.88" x2="135.2" y2="37.88" stroke="#f0a0a0" stroke-width="0.4"/>
<text x="131.8" y="42.98" text-anchor="end" font-family="'Liberation Sans', sans-serif" font-size="3.4" fill="#000" letter-spacing="0.18">PYCRL</text>
<line x1="133.6" y1="41.38" x2="135.2" y2="41.38" stroke="#f0a0a0" stroke-width="0.4"/>
<text x="131.8" y="46.49" text-anchor="end" font-family="'Liberation Sans', sans-serif" font-size="3.4" fill="#000" letter-spacing="0.18">IFG02</text>
<line x1="133.6" y1="44.89" x2="135.2" y2="44.89" stroke="#f0a0a0" stroke-width="0.4"/>
<text x="131.8" y="49.99" text-anchor="end" font-family="'Liberation Sans', sans-serif" font-size="3.4" fill="#000" letter-spacing="0.18">CD109</text>
<line x1="133.6" y1="48.39" x2="135.2" y2="48.39" stroke="#f0a0a0" stroke-width="0.4"/>
<text x="131.8" y="53.50" text-anchor="end" font-family="'Liberation Sans', sans-serif" font-size="3.4" fill="#000" letter-spacing="0.18">MRPS31</text>
<line x1="133.6" y1="51.90" x2="135.2" y2="51.90" stroke="#f0a0a0" stroke-width="0.4"/>
<text x="131.8" y="57.00" text-anchor="end" font-family="'Liberation Sans', sans-serif" font-size="3.4" fill="#000" letter-spacing="0.18">KBMBF2</text>
<line x1="133.6" y1="55.40" x2="135.2" y2="55.40" stroke="#f0a0a0" stroke-width="0.4"/>
<text x="131.8" y="60.51" text-anchor="end" font-family="'Liberation Sans', sans-serif" font-size="3.4" fill="#000" letter-spacing="0.18">TMEM214</text>
<line x1="133.6" y1="58.91" x2="135.2" y2="58.91" stroke="#f0a0a0" stroke-width="0.4"/>
<text x="131.8" y="64.01" text-anchor="end" font-family="'Liberation Sans', sans-serif" font-size="3.4" fill="#000" letter-spacing="0.18">SLC25A3</text>
<line x1="133.6" y1="62.41" x2="135.2" y2="62.41" stroke="#f0a0a0" stroke-width="0.4"/>
<text x="131.8" y="67.52" text-anchor="end" font-family="'Liberation Sans', sans-serif" font-size="3.4" fill="#000" letter-spacing="0.18">FLJ35757</text>
<line x1="133.6" y1="65.92" x2="135.2" y2="65.92" stroke="#f0a0a0" stroke-width="0.4"/>
<text x="131.8" y="71.02" text-anchor="end" font-family="'Liberation Sans', sans-serif" font-size="3.4" fill="#000" letter-spacing="0.18">GLGR</text>
<line x1="133.6" y1="69.42" x2="135.2" y2="69.42" stroke="#f0a0a0" stroke-width="0.4"/>
<text x="131.8" y="74.53" text-anchor="end" font-family="'Liberation Sans', sans-serif" font-size="3.4" fill="#000" letter-spacing="0.18">HOXB6</text>
<line x1="133.6" y1="72.93" x2="135.2" y2="72.93" stroke="#f0a0a0" stroke-width="0.4"/>
<text x="131.8" y="78.03" text-anchor="end" font-family="'Liberation Sans', sans-serif" font-size="3.4" fill="#000" letter-spacing="0.18">AURKA</text>
<line x1="133.6" y1="76.43" x2="135.2" y2="76.43" stroke="#f0a0a0" stroke-width="0.4"/>
<text x="131.8" y="81.54" text-anchor="end" font-family="'Liberation Sans', sans-serif" font-size="3.4" fill="#000" letter-spacing="0.18">CCDC56</text>
<line x1="133.6" y1="79.94" x2="135.2" y2="79.94" stroke="#f0a0a0" stroke-width="0.4"/>
<text x="131.8" y="85.04" text-anchor="end" font-family="'Liberation Sans', sans-serif" font-size="3.4" fill="#000" letter-spacing="0.18">TNFSF13</text>
<line x1="133.6" y1="83.44" x2="135.2" y2="83.44" stroke="#f0a0a0" stroke-width="0.4"/>
<text x="131.8" y="88.55" text-anchor="end" font-family="'Liberation Sans', sans-serif" font-size="3.4" fill="#000" letter-spacing="0.18">SLC25A11</text>
<line x1="133.6" y1="86.95" x2="135.2" y2="86.95" stroke="#f0a0a0" stroke-width="0.4"/>
<text x="131.8" y="92.05" text-anchor="end" font-family="'Liberation Sans', sans-serif" font-size="3.4" fill="#000" letter-spacing="0.18">TUBB6</text>
<line x1="133.6" y1="90.45" x2="135.2" y2="90.45" stroke="#f0a0a0" stroke-width="0.4"/>
<text x="131.8" y="95.56" text-anchor="end" font-family="'Liberation Sans', sans-serif" font-size="3.4" fill="#000" letter-spacing="0.18">DDFB1</text>
<line x1="133.6" y1="93.96" x2="135.2" y2="93.96" stroke="#f0a0a0" stroke-width="0.4"/>
<text x="131.8" y="99.06" text-anchor="end" font-family="'Liberation Sans', sans-serif" font-size="3.4" fill="#000" letter-spacing="0.18">GPNMI</text>
<line x1="133.6" y1="97.46" x2="135.2" y2="97.46" stroke="#f0a0a0" stroke-width="0.4"/>
<text x="131.8" y="102.57" text-anchor="end" font-family="'Liberation Sans', sans-serif" font-size="3.4" fill="#000" letter-spacing="0.18">SLC37A3</text>
<line x1="133.6" y1="100.97" x2="135.2" y2="100.97" stroke="#f0a0a0" stroke-width="0.4"/>
<text x="131.8" y="106.07" text-anchor="end" font-family="'Liberation Sans', sans-serif" font-size="3.4" fill="#000" letter-spacing="0.18">CDCA7</text>
<line x1="133.6" y1="104.47" x2="135.2" y2="104.47" stroke="#f0a0a0" stroke-width="0.4"/>
<text x="131.8" y="109.58" text-anchor="end" font-family="'Liberation Sans', sans-serif" font-size="3.4" fill="#000" letter-spacing="0.18">GALE1</text>
<line x1="133.6" y1="107.98" x2="135.2" y2="107.98" stroke="#f0a0a0" stroke-width="0.4"/>
<text x="131.8" y="113.08" text-anchor="end" font-family="'Liberation Sans', sans-serif" font-size="3.4" fill="#000" letter-spacing="0.18">CECR1</text>
<line x1="133.6" y1="111.48" x2="135.2" y2="111.48" stroke="#f0a0a0" stroke-width="0.4"/>
<text x="131.8" y="116.59" text-anchor="end" font-family="'Liberation Sans', sans-serif" font-size="3.4" fill="#000" letter-spacing="0.18">MLX</text>
<line x1="133.6" y1="114.99" x2="135.2" y2="114.99" stroke="#f0a0a0" stroke-width="0.4"/>
<text x="131.8" y="122.25" text-anchor="end" font-family="'Liberation Sans', sans-serif" font-size="3.4" fill="#000" letter-spacing="0.18">HAT1B</text>
<line x1="133.6" y1="120.65" x2="135.2" y2="120.65" stroke="#f0a0a0" stroke-width="0.4"/>
<text x="131.8" y="125.76" text-anchor="end" font-family="'Liberation Sans', sans-serif" font-size="3.4" fill="#000" letter-spacing="0.18">CYLFM6</text>
<line x1="133.6" y1="124.16" x2="135.2" y2="124.16" stroke="#f0a0a0" stroke-width="0.4"/>
<text x="131.8" y="129.26" text-anchor="end" font-family="'Liberation Sans', sans-serif" font-size="3.4" fill="#000" letter-spacing="0.18">LRRFIP1</text>
<line x1="133.6" y1="127.66" x2="135.2" y2="127.66" stroke="#f0a0a0" stroke-width="0.4"/>
<text x="131.8" y="132.77" text-anchor="end" font-family="'Liberation Sans', sans-serif" font-size="3.4" fill="#000" letter-spacing="0.18">PIM2</text>
<line x1="133.6" y1="131.17" x2="135.2" y2="131.17" stroke="#f0a0a0" stroke-width="0.4"/>
<text x="131.8" y="136.27" text-anchor="end" font-family="'Liberation Sans', sans-serif" font-size="3.4" fill="#000" letter-spacing="0.18">IRX2</text>
<line x1="133.6" y1="134.67" x2="135.2" y2="134.67" stroke="#f0a0a0" stroke-width="0.4"/>
<text x="131.8" y="139.78" text-anchor="end" font-family="'Liberation Sans', sans-serif" font-size="3.4" fill="#000" letter-spacing="0.18">SASH3B</text>
<line x1="133.6" y1="138.18" x2="135.2" y2="138.18" stroke="#f0a0a0" stroke-width="0.4"/>
<text x="131.8" y="143.28" text-anchor="end" font-family="'Liberation Sans', sans-serif" font-size="3.4" fill="#000" letter-spacing="0.18">FGR2U</text>
<line x1="133.6" y1="141.68" x2="135.2" y2="141.68" stroke="#f0a0a0" stroke-width="0.4"/>
<text x="131.8" y="146.79" text-anchor="end" font-family="'Liberation Sans', sans-serif" font-size="3.4" fill="#000" letter-spacing="0.18">RAC2LI</text>
<line x1="133.6" y1="145.19" x2="135.2" y2="145.19" stroke="#f0a0a0" stroke-width="0.4"/>
<text x="131.8" y="150.29" text-anchor="end" font-family="'Liberation Sans', sans-serif" font-size="3.4" fill="#000" letter-spacing="0.18">PDE4D</text>
<line x1="133.6" y1="148.69" x2="135.2" y2="148.69" stroke="#f0a0a0" stroke-width="0.4"/>
<text x="131.8" y="153.80" text-anchor="end" font-family="'Liberation Sans', sans-serif" font-size="3.4" fill="#000" letter-spacing="0.18">BACH1</text>
<line x1="133.6" y1="152.20" x2="135.2" y2="152.20" stroke="#f0a0a0" stroke-width="0.4"/>
<text x="131.8" y="157.30" text-anchor="end" font-family="'Liberation Sans', sans-serif" font-size="3.4" fill="#000" letter-spacing="0.18">STAT3</text>
<line x1="133.6" y1="155.70" x2="135.2" y2="155.70" stroke="#f0a0a0" stroke-width="0.4"/>
<text x="131.8" y="160.81" text-anchor="end" font-family="'Liberation Sans', sans-serif" font-size="3.4" fill="#000" letter-spacing="0.18">MAF</text>
<line x1="133.6" y1="159.21" x2="135.2" y2="159.21" stroke="#f0a0a0" stroke-width="0.4"/>
<text x="131.8" y="164.31" text-anchor="end" font-family="'Liberation Sans', sans-serif" font-size="3.4" fill="#000" letter-spacing="0.18">CULE5</text>
<line x1="133.6" y1="162.71" x2="135.2" y2="162.71" stroke="#f0a0a0" stroke-width="0.4"/>
<text x="131.8" y="167.82" text-anchor="end" font-family="'Liberation Sans', sans-serif" font-size="3.4" fill="#000" letter-spacing="0.18">AKAP2</text>
<line x1="133.6" y1="166.22" x2="135.2" y2="166.22" stroke="#f0a0a0" stroke-width="0.4"/>
<text x="131.8" y="171.32" text-anchor="end" font-family="'Liberation Sans', sans-serif" font-size="3.4" fill="#000" letter-spacing="0.18">CCL42</text>
<line x1="133.6" y1="169.72" x2="135.2" y2="169.72" stroke="#f0a0a0" stroke-width="0.4"/>
<text x="131.8" y="174.83" text-anchor="end" font-family="'Liberation Sans', sans-serif" font-size="3.4" fill="#000" letter-spacing="0.18">RNASET2</text>
<line x1="133.6" y1="173.23" x2="135.2" y2="173.23" stroke="#f0a0a0" stroke-width="0.4"/>
<text x="131.8" y="178.33" text-anchor="end" font-family="'Liberation Sans', sans-serif" font-size="3.4" fill="#000" letter-spacing="0.18">VTBL5</text>
<line x1="133.6" y1="176.73" x2="135.2" y2="176.73" stroke="#f0a0a0" stroke-width="0.4"/>
<text x="131.8" y="181.84" text-anchor="end" font-family="'Liberation Sans', sans-serif" font-size="3.4" fill="#000" letter-spacing="0.18">CPT1B</text>
<line x1="133.6" y1="180.24" x2="135.2" y2="180.24" stroke="#f0a0a0" stroke-width="0.4"/>
<text x="131.8" y="185.34" text-anchor="end" font-family="'Liberation Sans', sans-serif" font-size="3.4" fill="#000" letter-spacing="0.18">SNORA15</text>
<line x1="133.6" y1="183.74" x2="135.2" y2="183.74" stroke="#f0a0a0" stroke-width="0.4"/>
<text x="131.8" y="188.85" text-anchor="end" font-family="'Liberation Sans', sans-serif" font-size="3.4" fill="#000" letter-spacing="0.18">PTAMER</text>
<line x1="133.6" y1="187.25" x2="135.2" y2="187.25" stroke="#f0a0a0" stroke-width="0.4"/>
<text x="131.8" y="192.35" text-anchor="end" font-family="'Liberation Sans', sans-serif" font-size="3.4" fill="#000" letter-spacing="0.18">RFVA4</text>
<line x1="133.6" y1="190.75" x2="135.2" y2="190.75" stroke="#f0a0a0" stroke-width="0.4"/>
<text x="131.8" y="195.86" text-anchor="end" font-family="'Liberation Sans', sans-serif" font-size="3.4" fill="#000" letter-spacing="0.18">ATHL1</text>
<line x1="133.6" y1="194.26" x2="135.2" y2="194.26" stroke="#f0a0a0" stroke-width="0.4"/>
<text x="131.8" y="199.36" text-anchor="end" font-family="'Liberation Sans', sans-serif" font-size="3.4" fill="#000" letter-spacing="0.18">ARID2</text>
<line x1="133.6" y1="197.76" x2="135.2" y2="197.76" stroke="#f0a0a0" stroke-width="0.4"/>
<text x="131.8" y="202.87" text-anchor="end" font-family="'Liberation Sans', sans-serif" font-size="3.4" fill="#000" letter-spacing="0.18">LINF2</text>
<line x1="133.6" y1="201.27" x2="135.2" y2="201.27" stroke="#f0a0a0" stroke-width="0.4"/>
<text x="131.8" y="206.37" text-anchor="end" font-family="'Liberation Sans', sans-serif" font-size="3.4" fill="#000" letter-spacing="0.18">SLC25A36</text>
<line x1="133.6" y1="204.77" x2="135.2" y2="204.77" stroke="#f0a0a0" stroke-width="0.4"/>
<text x="131.8" y="209.88" text-anchor="end" font-family="'Liberation Sans', sans-serif" font-size="3.4" fill="#000" letter-spacing="0.18">RASD1</text>
<line x1="133.6" y1="208.28" x2="135.2" y2="208.28" stroke="#f0a0a0" stroke-width="0.4"/>
<text x="131.8" y="213.38" text-anchor="end" font-family="'Liberation Sans', sans-serif" font-size="3.4" fill="#000" letter-spacing="0.18">ULK11</text>
<line x1="133.6" y1="211.78" x2="135.2" y2="211.78" stroke="#f0a0a0" stroke-width="0.4"/>
<text x="131.8" y="216.89" text-anchor="end" font-family="'Liberation Sans', sans-serif" font-size="3.4" fill="#000" letter-spacing="0.18">KIM2</text>
<line x1="133.6" y1="215.29" x2="135.2" y2="215.29" stroke="#f0a0a0" stroke-width="0.4"/>
<text x="131.8" y="220.39" text-anchor="end" font-family="'Liberation Sans', sans-serif" font-size="3.4" fill="#000" letter-spacing="0.18">ANKRD57</text>
<line x1="133.6" y1="218.79" x2="135.2" y2="218.79" stroke="#f0a0a0" stroke-width="0.4"/>
<text x="131.8" y="223.90" text-anchor="end" font-family="'Liberation Sans', sans-serif" font-size="3.4" fill="#000" letter-spacing="0.18">TP53BP1</text>
<line x1="133.6" y1="222.30" x2="135.2" y2="222.30" stroke="#f0a0a0" stroke-width="0.4"/>
<text x="131.8" y="227.40" text-anchor="end" font-family="'Liberation Sans', sans-serif" font-size="3.4" fill="#000" letter-spacing="0.18">KLHL15</text>
<line x1="133.6" y1="225.80" x2="135.2" y2="225.80" stroke="#f0a0a0" stroke-width="0.4"/>
<text x="131.8" y="230.91" text-anchor="end" font-family="'Liberation Sans', sans-serif" font-size="3.4" fill="#000" letter-spacing="0.18">CAP2</text>
<line x1="133.6" y1="229.31" x2="135.2" y2="229.31" stroke="#f0a0a0" stroke-width="0.4"/>
<text x="131.8" y="234.41" text-anchor="end" font-family="'Liberation Sans', sans-serif" font-size="3.4" fill="#000" letter-spacing="0.18">ILF8</text>
<line x1="133.6" y1="232.81" x2="135.2" y2="232.81" stroke="#f0a0a0" stroke-width="0.4"/>
<text x="131.8" y="237.92" text-anchor="end" font-family="'Liberation Sans', sans-serif" font-size="3.4" fill="#000" letter-spacing="0.18">SNRPE1</text>
<line x1="133.6" y1="236.32" x2="135.2" y2="236.32" stroke="#f0a0a0" stroke-width="0.4"/>
<text x="131.8" y="241.42" text-anchor="end" font-family="'Liberation Sans', sans-serif" font-size="3.4" fill="#000" letter-spacing="0.18">IFTL5</text>
<line x1="133.6" y1="239.82" x2="135.2" y2="239.82" stroke="#f0a0a0" stroke-width="0.4"/>
<text x="131.8" y="244.93" text-anchor="end" font-family="'Liberation Sans', sans-serif" font-size="3.4" fill="#000" letter-spacing="0.18">MYH3LF1</text>
<line x1="133.6" y1="243.33" x2="135.2" y2="243.33" stroke="#f0a0a0" stroke-width="0.4"/>
<text x="131.8" y="248.43" text-anchor="end" font-family="'Liberation Sans', sans-serif" font-size="3.4" fill="#000" letter-spacing="0.18">FFAR2L</text>
<line x1="133.6" y1="246.83" x2="135.2" y2="246.83" stroke="#f0a0a0" stroke-width="0.4"/>
<text x="131.8" y="251.94" text-anchor="end" font-family="'Liberation Sans', sans-serif" font-size="3.4" fill="#000" letter-spacing="0.18">ABCC2</text>
<line x1="133.6" y1="250.34" x2="135.2" y2="250.34" stroke="#f0a0a0" stroke-width="0.4"/>
<text x="131.8" y="255.44" text-anchor="end" font-family="'Liberation Sans', sans-serif" font-size="3.4" fill="#000" letter-spacing="0.18">CLN2</text>
<line x1="133.6" y1="253.84" x2="135.2" y2="253.84" stroke="#f0a0a0" stroke-width="0.4"/>
<text x="131.8" y="258.95" text-anchor="end" font-family="'Liberation Sans', sans-serif" font-size="3.4" fill="#000" letter-spacing="0.18">EFTS18</text>
<line x1="133.6" y1="257.35" x2="135.2" y2="257.35" stroke="#f0a0a0" stroke-width="0.4"/>
<text x="131.8" y="262.45" text-anchor="end" font-family="'Liberation Sans', sans-serif" font-size="3.4" fill="#000" letter-spacing="0.18">KLF2F3AP</text>
<line x1="133.6" y1="260.85" x2="135.2" y2="260.85" stroke="#f0a0a0" stroke-width="0.4"/>
<text x="131.8" y="265.96" text-anchor="end" font-family="'Liberation Sans', sans-serif" font-size="3.4" fill="#000" letter-spacing="0.18">CARH3AC1</text>
<line x1="133.6" y1="264.36" x2="135.2" y2="264.36" stroke="#f0a0a0" stroke-width="0.4"/>
<text x="131.8" y="269.46" text-anchor="end" font-family="'Liberation Sans', sans-serif" font-size="3.4" fill="#000" letter-spacing="0.18">ANL1C2</text>
<line x1="133.6" y1="267.86" x2="135.2" y2="267.86" stroke="#f0a0a0" stroke-width="0.4"/>
<text x="131.8" y="272.97" text-anchor="end" font-family="'Liberation Sans', sans-serif" font-size="3.4" fill="#000" letter-spacing="0.18">TMEM194</text>
<line x1="133.6" y1="271.37" x2="135.2" y2="271.37" stroke="#f0a0a0" stroke-width="0.4"/>
<text x="131.8" y="276.47" text-anchor="end" font-family="'Liberation Sans', sans-serif" font-size="3.4" fill="#000" letter-spacing="0.18">MTHFSD</text>
<line x1="133.6" y1="274.87" x2="135.2" y2="274.87" stroke="#f0a0a0" stroke-width="0.4"/>
<text x="131.8" y="279.98" text-anchor="end" font-family="'Liberation Sans', sans-serif" font-size="3.4" fill="#000" letter-spacing="0.18">NBN</text>
<line x1="133.6" y1="278.38" x2="135.2" y2="278.38" stroke="#f0a0a0" stroke-width="0.4"/>
<text x="131.8" y="283.48" text-anchor="end" font-family="'Liberation Sans', sans-serif" font-size="3.4" fill="#000" letter-spacing="0.18">ACTR1</text>
<line x1="133.6" y1="281.88" x2="135.2" y2="281.88" stroke="#f0a0a0" stroke-width="0.4"/>
</g>
<rect x="182.2" y="291.8" width="10.2" height="3.1" fill="#0a0aee"/>
<rect x="182.2" y="297.3" width="10.2" height="3.1" fill="#b4dcea"/>
<rect x="182.2" y="302.9" width="10.2" height="3.1" fill="#a01818"/>
<text x="199" y="295.2" font-family="'Liberation Sans', sans-serif" font-size="5.2" fill="#111" textLength="11.4" lengthAdjust="spacingAndGlyphs">LCP</text>
<text x="199" y="300.7" font-family="'Liberation Sans', sans-serif" font-size="5.2" fill="#111" textLength="11.4" lengthAdjust="spacingAndGlyphs">ICP</text>
<text x="199" y="306.3" font-family="'Liberation Sans', sans-serif" font-size="5.2" fill="#111" textLength="11.4" lengthAdjust="spacingAndGlyphs">HCP</text>
<rect x="226.4" y="291.8" width="11.2" height="3.1" fill="#9090c8"/>
<rect x="226.4" y="297.6" width="11.2" height="3.0" fill="#fbf014"/>
<text x="242.8" y="295" font-family="'Liberation Sans', sans-serif" font-size="5" fill="#111" textLength="43.7" lengthAdjust="spacingAndGlyphs">hypomethylation</text>
<text x="242.8" y="300.8" font-family="'Liberation Sans', sans-serif" font-size="5" fill="#111" textLength="47" lengthAdjust="spacingAndGlyphs">hypermethylation</text>
<defs><linearGradient id="gexp" x1="0" y1="0" x2="1" y2="0"><stop offset="0" stop-color="#10f010"/><stop offset="0.36" stop-color="#0cd00c"/><stop offset="0.48" stop-color="#000"/><stop offset="0.54" stop-color="#000"/><stop offset="0.66" stop-color="#d00808"/><stop offset="1" stop-color="#ff0808"/></linearGradient></defs>
<rect x="306.9" y="289.5" width="77.6" height="9.8" fill="url(#gexp)" stroke="#000" stroke-width="1"/>
<rect x="316.3" y="293.6" width="55.5" height="2.1" fill="#000" fill-opacity="0.88"/>
<polygon points="370.5,291 379.5,294.6 370.5,298.2" fill="#111" fill-opacity="0.92"/>
<text transform="translate(299,290.4) rotate(90)" font-family="'Liberation Sans', sans-serif" font-size="4.6" font-weight="bold" fill="#111">Low</text>
<text transform="translate(390,289.8) rotate(90)" font-family="'Liberation Sans', sans-serif" font-size="4.6" font-weight="bold" fill="#111">High</text>
<text x="346.9" y="305.5" text-anchor="middle" font-family="'Liberation Sans', sans-serif" font-size="5.4" fill="#111" textLength="59.7" lengthAdjust="spacingAndGlyphs">Gene expression level</text>
<line x1="154.2" y1="346" x2="154.2" y2="383.7" stroke="#3a3a3a" stroke-width="0.8"/>
<line x1="153.79999999999998" y1="383.7" x2="227.5" y2="383.7" stroke="#3a3a3a" stroke-width="0.8"/>
<line x1="152.2" y1="347.0" x2="154.2" y2="347.0" stroke="#050505" stroke-width="0.7"/>
<text x="151.39999999999998" y="348.0" text-anchor="end" font-family="'Liberation Sans', sans-serif" font-size="3.3" fill="#000" stroke="#000" stroke-width="0.08">300</text>
<line x1="152.2" y1="350.0" x2="154.2" y2="350.0" stroke="#050505" stroke-width="0.7"/>
<text x="151.39999999999998" y="351.0" text-anchor="end" font-family="'Liberation Sans', sans-serif" font-size="3.3" fill="#000" stroke="#000" stroke-width="0.08">250</text>
<line x1="152.2" y1="353.0" x2="154.2" y2="353.0" stroke="#050505" stroke-width="0.7"/>
<text x="151.39999999999998" y="354.0" text-anchor="end" font-family="'Liberation Sans', sans-serif" font-size="3.3" fill="#000" stroke="#000" stroke-width="0.08">200</text>
<line x1="152.2" y1="356.2" x2="154.2" y2="356.2" stroke="#050505" stroke-width="0.7"/>
<text x="151.39999999999998" y="357.2" text-anchor="end" font-family="'Liberation Sans', sans-serif" font-size="3.3" fill="#000" stroke="#000" stroke-width="0.08">150</text>
<line x1="152.2" y1="365.0" x2="154.2" y2="365.0" stroke="#050505" stroke-width="0.7"/>
<text x="151.39999999999998" y="366.0" text-anchor="end" font-family="'Liberation Sans', sans-serif" font-size="3.3" fill="#000" stroke="#000" stroke-width="0.08">100</text>
<line x1="152.2" y1="374.2" x2="154.2" y2="374.2" stroke="#050505" stroke-width="0.7"/>
<text x="151.39999999999998" y="375.2" text-anchor="end" font-family="'Liberation Sans', sans-serif" font-size="3.3" fill="#000" stroke="#000" stroke-width="0.08">50</text>
<line x1="152.2" y1="383.7" x2="154.2" y2="383.7" stroke="#050505" stroke-width="0.7"/>
<text x="151.39999999999998" y="384.7" text-anchor="end" font-family="'Liberation Sans', sans-serif" font-size="3.3" fill="#000" stroke="#000" stroke-width="0.08">0</text>
<rect x="152.0" y="356.90000000000003" width="4.4" height="1.4" fill="#fff"/>
<line x1="152.2" y1="356.90000000000003" x2="156.2" y2="356.90000000000003" stroke="#050505" stroke-width="0.6"/>
<line x1="152.2" y1="358.3" x2="156.2" y2="358.3" stroke="#050505" stroke-width="0.6"/>
<text x="194.5" y="344.4" text-anchor="middle" font-family="'Liberation Sans', sans-serif" font-size="5.1" font-weight="bold" fill="#000" letter-spacing="0.4">CCDC56</text>
<polyline points="167.5,357.5 167.5,345 218,345 218,367.5" fill="none" stroke="#999" stroke-width="0.55"/>
<text x="195" y="350.1" text-anchor="middle" font-family="'Liberation Sans', sans-serif" font-size="5.4" fill="#303030">P&lt;0.001</text>
<line x1="159.5" y1="365.5" x2="175.5" y2="365.5" stroke="#222" stroke-width="0.6"/>
<circle cx="166.9" cy="359.0" r="0.92" fill="#050505"/>
<circle cx="165.1" cy="360.5" r="0.92" fill="#050505"/>
<circle cx="168.0" cy="361.5" r="0.92" fill="#050505"/>
<circle cx="168.9" cy="363.5" r="0.92" fill="#050505"/>
<circle cx="167.1" cy="364.5" r="0.92" fill="#050505"/>
<circle cx="164.4" cy="365.5" r="0.92" fill="#050505"/>
<circle cx="167.9" cy="366.5" r="0.92" fill="#050505"/>
<circle cx="164.2" cy="368.0" r="0.92" fill="#050505"/>
<circle cx="167.1" cy="369.0" r="0.92" fill="#050505"/>
<circle cx="165.6" cy="371.5" r="0.92" fill="#050505"/>
<circle cx="168.2" cy="372.5" r="0.92" fill="#050505"/>
<line x1="182.2" y1="365" x2="198.8" y2="365" stroke="#222" stroke-width="0.6"/>
<rect x="189.4" y="362.9" width="1.70" height="1.70" fill="#050505"/>
<rect x="192.0" y="363.6" width="1.70" height="1.70" fill="#050505"/>
<rect x="190.9" y="366.6" width="1.70" height="1.70" fill="#050505"/>
<rect x="187.6" y="367.6" width="1.70" height="1.70" fill="#050505"/>
<rect x="192.7" y="368.1" width="1.70" height="1.70" fill="#050505"/>
<rect x="189.7" y="368.6" width="1.70" height="1.70" fill="#050505"/>
<rect x="185.9" y="369.6" width="1.70" height="1.70" fill="#050505"/>
<rect x="193.2" y="370.1" width="1.70" height="1.70" fill="#050505"/>
<rect x="189.4" y="371.1" width="1.70" height="1.70" fill="#050505"/>
<rect x="187.5" y="372.1" width="1.70" height="1.70" fill="#050505"/>
<rect x="192.4" y="373.6" width="1.70" height="1.70" fill="#050505"/>
<rect x="190.5" y="375.1" width="1.70" height="1.70" fill="#050505"/>
<line x1="210" y1="373.7" x2="226" y2="373.7" stroke="#222" stroke-width="0.6"/>
<polygon points="219.9,368.4 221.0,370.4 218.8,370.4" fill="#050505"/>
<polygon points="214.5,369.4 215.6,371.4 213.4,371.4" fill="#050505"/>
<polygon points="217.3,370.9 218.4,372.9 216.2,372.9" fill="#050505"/>
<polygon points="220.1,371.9 221.2,373.9 219.0,373.9" fill="#050505"/>
<polygon points="216.2,372.6 217.3,374.6 215.0,374.6" fill="#050505"/>
<polygon points="222.6,373.1 223.7,375.1 221.5,375.1" fill="#050505"/>
<polygon points="219.0,373.9 220.1,375.9 217.9,375.9" fill="#050505"/>
<polygon points="214.0,374.9 215.1,376.9 212.9,376.9" fill="#050505"/>
<polygon points="216.4,375.9 217.5,377.9 215.3,377.9" fill="#050505"/>
<polygon points="220.8,376.9 221.9,378.9 219.7,378.9" fill="#050505"/>
<polygon points="218.9,377.6 220.0,379.6 217.8,379.6" fill="#050505"/>
<text x="167.5" y="389.3" text-anchor="middle" font-family="'Liberation Sans', sans-serif" font-size="5.0" fill="#303030" letter-spacing="0.35">DNMT3A</text>
<text x="167.5" y="394.4" text-anchor="middle" font-family="'Liberation Sans', sans-serif" font-size="5.0" fill="#303030" letter-spacing="0.25">(n=11)</text>
<text x="190.5" y="389.3" text-anchor="middle" font-family="'Liberation Sans', sans-serif" font-size="5.0" fill="#303030" letter-spacing="0.35">MLL</text>
<text x="190.5" y="394.4" text-anchor="middle" font-family="'Liberation Sans', sans-serif" font-size="5.0" fill="#303030" letter-spacing="0.25">(n=12)</text>
<text x="218" y="389.3" text-anchor="middle" font-family="'Liberation Sans', sans-serif" font-size="5.0" fill="#303030" letter-spacing="0.35">WT</text>
<text x="218" y="394.4" text-anchor="middle" font-family="'Liberation Sans', sans-serif" font-size="5.0" fill="#303030" letter-spacing="0.25">(n=11)</text>
<line x1="154.2" y1="405.5" x2="154.2" y2="443.7" stroke="#3a3a3a" stroke-width="0.8"/>
<line x1="153.79999999999998" y1="443.7" x2="227.5" y2="443.7" stroke="#3a3a3a" stroke-width="0.8"/>
<line x1="152.2" y1="406.2" x2="154.2" y2="406.2" stroke="#050505" stroke-width="0.7"/>
<text x="151.39999999999998" y="407.2" text-anchor="end" font-family="'Liberation Sans', sans-serif" font-size="3.3" fill="#000" stroke="#000" stroke-width="0.08">50</text>
<line x1="152.2" y1="413.7" x2="154.2" y2="413.7" stroke="#050505" stroke-width="0.7"/>
<text x="151.39999999999998" y="414.7" text-anchor="end" font-family="'Liberation Sans', sans-serif" font-size="3.3" fill="#000" stroke="#000" stroke-width="0.08">40</text>
<line x1="152.2" y1="421.2" x2="154.2" y2="421.2" stroke="#050505" stroke-width="0.7"/>
<text x="151.39999999999998" y="422.2" text-anchor="end" font-family="'Liberation Sans', sans-serif" font-size="3.3" fill="#000" stroke="#000" stroke-width="0.08">30</text>
<line x1="152.2" y1="428.7" x2="154.2" y2="428.7" stroke="#050505" stroke-width="0.7"/>
<text x="151.39999999999998" y="429.7" text-anchor="end" font-family="'Liberation Sans', sans-serif" font-size="3.3" fill="#000" stroke="#000" stroke-width="0.08">20</text>
<line x1="152.2" y1="436.2" x2="154.2" y2="436.2" stroke="#050505" stroke-width="0.7"/>
<text x="151.39999999999998" y="437.2" text-anchor="end" font-family="'Liberation Sans', sans-serif" font-size="3.3" fill="#000" stroke="#000" stroke-width="0.08">10</text>
<line x1="152.2" y1="443.7" x2="154.2" y2="443.7" stroke="#050505" stroke-width="0.7"/>
<text x="151.39999999999998" y="444.7" text-anchor="end" font-family="'Liberation Sans', sans-serif" font-size="3.3" fill="#000" stroke="#000" stroke-width="0.08">0</text>
<text x="192.5" y="403.6" text-anchor="middle" font-family="'Liberation Sans', sans-serif" font-size="5.1" font-weight="bold" fill="#000" letter-spacing="0.4">DCXR</text>
<polyline points="167.5,411 167.5,406 217.5,406 217.5,425" fill="none" stroke="#999" stroke-width="0.55"/>
<text x="194.5" y="409.8" text-anchor="middle" font-family="'Liberation Sans', sans-serif" font-size="5.4" fill="#303030">P&lt;0.001</text>
<line x1="159.5" y1="421.2" x2="175.5" y2="421.2" stroke="#222" stroke-width="0.6"/>
<circle cx="167.1" cy="413.0" r="0.92" fill="#050505"/>
<circle cx="165.1" cy="415.5" r="0.92" fill="#050505"/>
<circle cx="166.6" cy="417.5" r="0.92" fill="#050505"/>
<circle cx="168.9" cy="420.0" r="0.92" fill="#050505"/>
<circle cx="167.1" cy="421.0" r="0.92" fill="#050505"/>
<circle cx="165.1" cy="421.5" r="0.92" fill="#050505"/>
<circle cx="167.4" cy="423.0" r="0.92" fill="#050505"/>
<circle cx="168.7" cy="425.0" r="0.92" fill="#050505"/>
<circle cx="167.2" cy="427.5" r="0.92" fill="#050505"/>
<circle cx="166.3" cy="430.0" r="0.92" fill="#050505"/>
<circle cx="167.3" cy="434.5" r="0.92" fill="#050505"/>
<line x1="182.2" y1="425.5" x2="198.8" y2="425.5" stroke="#222" stroke-width="0.6"/>
<rect x="189.5" y="409.1" width="1.70" height="1.70" fill="#050505"/>
<rect x="191.2" y="414.1" width="1.70" height="1.70" fill="#050505"/>
<rect x="189.5" y="415.6" width="1.70" height="1.70" fill="#050505"/>
<rect x="189.3" y="422.1" width="1.70" height="1.70" fill="#050505"/>
<rect x="189.7" y="425.1" width="1.70" height="1.70" fill="#050505"/>
<rect x="192.6" y="426.6" width="1.70" height="1.70" fill="#050505"/>
<rect x="185.9" y="427.1" width="1.70" height="1.70" fill="#050505"/>
<rect x="190.1" y="428.1" width="1.70" height="1.70" fill="#050505"/>
<rect x="192.2" y="429.6" width="1.70" height="1.70" fill="#050505"/>
<rect x="188.4" y="431.1" width="1.70" height="1.70" fill="#050505"/>
<rect x="187.8" y="433.1" width="1.70" height="1.70" fill="#050505"/>
<rect x="190.5" y="435.1" width="1.70" height="1.70" fill="#050505"/>
<line x1="210" y1="430" x2="226" y2="430" stroke="#222" stroke-width="0.6"/>
<polygon points="219.9,424.4 221.0,426.4 218.8,426.4" fill="#050505"/>
<polygon points="214.5,425.4 215.6,427.4 213.4,427.4" fill="#050505"/>
<polygon points="217.3,426.9 218.4,428.9 216.2,428.9" fill="#050505"/>
<polygon points="220.1,427.9 221.2,429.9 219.0,429.9" fill="#050505"/>
<polygon points="214.3,428.4 215.5,430.4 213.2,430.4" fill="#050505"/>
<polygon points="217.7,428.9 218.8,430.9 216.6,430.9" fill="#050505"/>
<polygon points="222.4,429.4 223.5,431.4 221.3,431.4" fill="#050505"/>
<polygon points="214.0,430.4 215.1,432.4 212.9,432.4" fill="#050505"/>
<polygon points="216.4,431.4 217.5,433.4 215.3,433.4" fill="#050505"/>
<polygon points="220.8,432.9 221.9,434.9 219.7,434.9" fill="#050505"/>
<polygon points="218.7,434.9 219.8,436.9 217.6,436.9" fill="#050505"/>
<text x="167.5" y="451.0" text-anchor="middle" font-family="'Liberation Sans', sans-serif" font-size="5.0" fill="#303030" letter-spacing="0.35">DNMT3A</text>
<text x="167.5" y="456.1" text-anchor="middle" font-family="'Liberation Sans', sans-serif" font-size="5.0" fill="#303030" letter-spacing="0.25">(n=11)</text>
<text x="190.5" y="451.0" text-anchor="middle" font-family="'Liberation Sans', sans-serif" font-size="5.0" fill="#303030" letter-spacing="0.35">MLL</text>
<text x="190.5" y="456.1" text-anchor="middle" font-family="'Liberation Sans', sans-serif" font-size="5.0" fill="#303030" letter-spacing="0.25">(n=12)</text>
<text x="218" y="451.0" text-anchor="middle" font-family="'Liberation Sans', sans-serif" font-size="5.0" fill="#303030" letter-spacing="0.35">WT</text>
<text x="218" y="456.1" text-anchor="middle" font-family="'Liberation Sans', sans-serif" font-size="5.0" fill="#303030" letter-spacing="0.25">(n=11)</text>
<line x1="154.2" y1="465.5" x2="154.2" y2="502.5" stroke="#3a3a3a" stroke-width="0.8"/>
<line x1="153.79999999999998" y1="502.5" x2="227.5" y2="502.5" stroke="#3a3a3a" stroke-width="0.8"/>
<line x1="152.2" y1="466.2" x2="154.2" y2="466.2" stroke="#050505" stroke-width="0.7"/>
<text x="151.39999999999998" y="467.2" text-anchor="end" font-family="'Liberation Sans', sans-serif" font-size="3.3" fill="#000" stroke="#000" stroke-width="0.08">80</text>
<line x1="152.2" y1="475.3" x2="154.2" y2="475.3" stroke="#050505" stroke-width="0.7"/>
<text x="151.39999999999998" y="476.3" text-anchor="end" font-family="'Liberation Sans', sans-serif" font-size="3.3" fill="#000" stroke="#000" stroke-width="0.08">60</text>
<line x1="152.2" y1="484.4" x2="154.2" y2="484.4" stroke="#050505" stroke-width="0.7"/>
<text x="151.39999999999998" y="485.4" text-anchor="end" font-family="'Liberation Sans', sans-serif" font-size="3.3" fill="#000" stroke="#000" stroke-width="0.08">40</text>
<line x1="152.2" y1="493.4" x2="154.2" y2="493.4" stroke="#050505" stroke-width="0.7"/>
<text x="151.39999999999998" y="494.4" text-anchor="end" font-family="'Liberation Sans', sans-serif" font-size="3.3" fill="#000" stroke="#000" stroke-width="0.08">20</text>
<line x1="152.2" y1="502.5" x2="154.2" y2="502.5" stroke="#050505" stroke-width="0.7"/>
<text x="151.39999999999998" y="503.5" text-anchor="end" font-family="'Liberation Sans', sans-serif" font-size="3.3" fill="#000" stroke="#000" stroke-width="0.08">0</text>
<text x="192.5" y="463.6" text-anchor="middle" font-family="'Liberation Sans', sans-serif" font-size="5.1" font-weight="bold" fill="#000" letter-spacing="0.4">EIF4G3</text>
<polyline points="167.5,468.7 167.5,466 190.7,466 190.7,470" fill="none" stroke="#999" stroke-width="0.55"/>
<text x="179.8" y="469.9" text-anchor="middle" font-family="'Liberation Sans', sans-serif" font-size="5.4" fill="#303030">P&lt;0.05</text>
<line x1="159.5" y1="486.7" x2="175.5" y2="486.7" stroke="#222" stroke-width="0.6"/>
<circle cx="166.9" cy="468.0" r="0.92" fill="#050505"/>
<circle cx="167.2" cy="480.5" r="0.92" fill="#050505"/>
<circle cx="170.1" cy="483.0" r="0.92" fill="#050505"/>
<circle cx="164.9" cy="484.5" r="0.92" fill="#050505"/>
<circle cx="171.6" cy="485.5" r="0.92" fill="#050505"/>
<circle cx="168.2" cy="486.5" r="0.92" fill="#050505"/>
<circle cx="163.3" cy="487.0" r="0.92" fill="#050505"/>
<circle cx="171.9" cy="488.0" r="0.92" fill="#050505"/>
<circle cx="167.7" cy="489.5" r="0.92" fill="#050505"/>
<circle cx="165.6" cy="492.0" r="0.92" fill="#050505"/>
<circle cx="165.5" cy="494.5" r="0.92" fill="#050505"/>
<circle cx="168.6" cy="496.0" r="0.92" fill="#050505"/>
<line x1="182.2" y1="492" x2="198.8" y2="492" stroke="#222" stroke-width="0.6"/>
<rect x="189.5" y="472.8" width="1.70" height="1.70" fill="#050505"/>
<rect x="191.2" y="486.6" width="1.70" height="1.70" fill="#050505"/>
<rect x="189.4" y="488.1" width="1.70" height="1.70" fill="#050505"/>
<rect x="187.6" y="489.6" width="1.70" height="1.70" fill="#050505"/>
<rect x="189.7" y="490.6" width="1.70" height="1.70" fill="#050505"/>
<rect x="193.3" y="491.1" width="1.70" height="1.70" fill="#050505"/>
<rect x="185.9" y="492.1" width="1.70" height="1.70" fill="#050505"/>
<rect x="190.2" y="493.1" width="1.70" height="1.70" fill="#050505"/>
<rect x="192.9" y="494.1" width="1.70" height="1.70" fill="#050505"/>
<rect x="187.5" y="495.6" width="1.70" height="1.70" fill="#050505"/>
<rect x="192.4" y="496.6" width="1.70" height="1.70" fill="#050505"/>
<rect x="189.1" y="497.8" width="1.70" height="1.70" fill="#050505"/>
<line x1="210" y1="489.5" x2="226" y2="489.5" stroke="#222" stroke-width="0.6"/>
<polygon points="217.8,474.9 218.9,476.9 216.7,476.9" fill="#050505"/>
<polygon points="219.0,484.9 220.1,486.9 217.9,486.9" fill="#050505"/>
<polygon points="215.3,485.9 216.4,487.9 214.1,487.9" fill="#050505"/>
<polygon points="220.3,486.9 221.4,488.9 219.2,488.9" fill="#050505"/>
<polygon points="218.8,488.4 219.9,490.4 217.7,490.4" fill="#050505"/>
<polygon points="214.9,488.9 216.0,490.9 213.8,490.9" fill="#050505"/>
<polygon points="216.5,490.4 217.6,492.4 215.4,492.4" fill="#050505"/>
<polygon points="218.9,491.9 220.0,493.9 217.8,493.9" fill="#050505"/>
<polygon points="220.8,492.9 221.9,494.9 219.7,494.9" fill="#050505"/>
<polygon points="214.0,493.9 215.1,495.9 212.9,495.9" fill="#050505"/>
<polygon points="216.8,494.9 218.0,496.9 215.7,496.9" fill="#050505"/>
<polygon points="220.2,496.4 221.3,498.4 219.1,498.4" fill="#050505"/>
<text x="167.5" y="509.8" text-anchor="middle" font-family="'Liberation Sans', sans-serif" font-size="5.0" fill="#303030" letter-spacing="0.35">DNMT3A</text>
<text x="167.5" y="514.9" text-anchor="middle" font-family="'Liberation Sans', sans-serif" font-size="5.0" fill="#303030" letter-spacing="0.25">(n=12)</text>
<text x="190.5" y="509.8" text-anchor="middle" font-family="'Liberation Sans', sans-serif" font-size="5.0" fill="#303030" letter-spacing="0.35">MLL</text>
<text x="190.5" y="514.9" text-anchor="middle" font-family="'Liberation Sans', sans-serif" font-size="5.0" fill="#303030" letter-spacing="0.25">(n=12)</text>
<text x="218" y="509.8" text-anchor="middle" font-family="'Liberation Sans', sans-serif" font-size="5.0" fill="#303030" letter-spacing="0.35">WT</text>
<text x="218" y="514.9" text-anchor="middle" font-family="'Liberation Sans', sans-serif" font-size="5.0" fill="#303030" letter-spacing="0.25">(n=12)</text>
<line x1="154.2" y1="524.5" x2="154.2" y2="562" stroke="#3a3a3a" stroke-width="0.8"/>
<line x1="153.79999999999998" y1="562" x2="227.5" y2="562" stroke="#3a3a3a" stroke-width="0.8"/>
<line x1="152.2" y1="524.7" x2="154.2" y2="524.7" stroke="#050505" stroke-width="0.7"/>
<text x="151.39999999999998" y="525.7" text-anchor="end" font-family="'Liberation Sans', sans-serif" font-size="3.3" fill="#000" stroke="#000" stroke-width="0.08">80</text>
<line x1="152.2" y1="534.0" x2="154.2" y2="534.0" stroke="#050505" stroke-width="0.7"/>
<text x="151.39999999999998" y="535.0" text-anchor="end" font-family="'Liberation Sans', sans-serif" font-size="3.3" fill="#000" stroke="#000" stroke-width="0.08">60</text>
<line x1="152.2" y1="543.4" x2="154.2" y2="543.4" stroke="#050505" stroke-width="0.7"/>
<text x="151.39999999999998" y="544.4" text-anchor="end" font-family="'Liberation Sans', sans-serif" font-size="3.3" fill="#000" stroke="#000" stroke-width="0.08">40</text>
<line x1="152.2" y1="552.7" x2="154.2" y2="552.7" stroke="#050505" stroke-width="0.7"/>
<text x="151.39999999999998" y="553.7" text-anchor="end" font-family="'Liberation Sans', sans-serif" font-size="3.3" fill="#000" stroke="#000" stroke-width="0.08">20</text>
<line x1="152.2" y1="562.0" x2="154.2" y2="562.0" stroke="#050505" stroke-width="0.7"/>
<text x="151.39999999999998" y="563.0" text-anchor="end" font-family="'Liberation Sans', sans-serif" font-size="3.3" fill="#000" stroke="#000" stroke-width="0.08">0</text>
<text x="195.5" y="522.1" text-anchor="middle" font-family="'Liberation Sans', sans-serif" font-size="5.1" font-weight="bold" fill="#000" letter-spacing="0.4">TNFSF13</text>
<polyline points="167.5,531 167.5,523.2 217.5,523.2 217.5,541" fill="none" stroke="#999" stroke-width="0.55"/>
<text x="195" y="529.2" text-anchor="middle" font-family="'Liberation Sans', sans-serif" font-size="5.6" fill="#303030">P&lt;0.001</text>
<line x1="159.0" y1="543" x2="176.0" y2="543" stroke="#222" stroke-width="0.6"/>
<rect x="165.3" y="531.3" width="2.40" height="2.40" fill="#050505"/>
<rect x="162.2" y="531.8" width="2.40" height="2.40" fill="#050505"/>
<rect x="169.0" y="533.3" width="2.40" height="2.40" fill="#050505"/>
<rect x="163.3" y="535.8" width="2.40" height="2.40" fill="#050505"/>
<rect x="168.5" y="536.8" width="2.40" height="2.40" fill="#050505"/>
<rect x="164.1" y="540.3" width="2.40" height="2.40" fill="#050505"/>
<rect x="166.2" y="544.8" width="2.40" height="2.40" fill="#050505"/>
<rect x="168.2" y="546.8" width="2.40" height="2.40" fill="#050505"/>
<rect x="165.8" y="549.8" width="2.40" height="2.40" fill="#050505"/>
<rect x="163.4" y="552.3" width="2.40" height="2.40" fill="#050505"/>
<rect x="165.4" y="556.3" width="2.40" height="2.40" fill="#050505"/>
<line x1="182.0" y1="550" x2="199.0" y2="550" stroke="#222" stroke-width="0.6"/>
<rect x="188.8" y="534.8" width="2.40" height="2.40" fill="#050505"/>
<rect x="193.1" y="541.3" width="2.40" height="2.40" fill="#050505"/>
<rect x="190.8" y="542.8" width="2.40" height="2.40" fill="#050505"/>
<rect x="187.2" y="545.8" width="2.40" height="2.40" fill="#050505"/>
<rect x="190.4" y="547.3" width="2.40" height="2.40" fill="#050505"/>
<rect x="193.0" y="548.3" width="2.40" height="2.40" fill="#050505"/>
<rect x="185.6" y="548.8" width="2.40" height="2.40" fill="#050505"/>
<rect x="189.3" y="549.8" width="2.40" height="2.40" fill="#050505"/>
<rect x="192.5" y="551.8" width="2.40" height="2.40" fill="#050505"/>
<rect x="187.2" y="553.3" width="2.40" height="2.40" fill="#050505"/>
<rect x="192.7" y="555.3" width="2.40" height="2.40" fill="#050505"/>
<rect x="188.4" y="557.5" width="2.40" height="2.40" fill="#050505"/>
<line x1="209.5" y1="555" x2="226.5" y2="555" stroke="#222" stroke-width="0.6"/>
<rect x="219.1" y="541.8" width="2.40" height="2.40" fill="#050505"/>
<rect x="219.7" y="548.3" width="2.40" height="2.40" fill="#050505"/>
<rect x="213.8" y="551.3" width="2.40" height="2.40" fill="#050505"/>
<rect x="218.9" y="552.3" width="2.40" height="2.40" fill="#050505"/>
<rect x="215.0" y="553.8" width="2.40" height="2.40" fill="#050505"/>
<rect x="220.3" y="554.8" width="2.40" height="2.40" fill="#050505"/>
<rect x="217.1" y="555.8" width="2.40" height="2.40" fill="#050505"/>
<rect x="212.8" y="557.3" width="2.40" height="2.40" fill="#050505"/>
<rect x="218.4" y="558.3" width="2.40" height="2.40" fill="#050505"/>
<rect x="215.2" y="559.3" width="2.40" height="2.40" fill="#050505"/>
<rect x="221.2" y="560.8" width="2.40" height="2.40" fill="#050505"/>
<text x="167.5" y="569.3" text-anchor="middle" font-family="'Liberation Sans', sans-serif" font-size="5.0" fill="#303030" letter-spacing="0.35">DNMT3A</text>
<text x="167.5" y="574.1" text-anchor="middle" font-family="'Liberation Sans', sans-serif" font-size="5.0" fill="#303030" letter-spacing="0.25">(n=11)</text>
<text x="190.5" y="569.3" text-anchor="middle" font-family="'Liberation Sans', sans-serif" font-size="5.0" fill="#303030" letter-spacing="0.35">MLL</text>
<text x="190.5" y="574.1" text-anchor="middle" font-family="'Liberation Sans', sans-serif" font-size="5.0" fill="#303030" letter-spacing="0.25">(n=12)</text>
<text x="218" y="569.3" text-anchor="middle" font-family="'Liberation Sans', sans-serif" font-size="5.0" fill="#303030" letter-spacing="0.35">WT</text>
<text x="218" y="574.1" text-anchor="middle" font-family="'Liberation Sans', sans-serif" font-size="5.0" fill="#303030" letter-spacing="0.25">(n=11)</text>
<line x1="154.2" y1="585.5" x2="154.2" y2="623.2" stroke="#3a3a3a" stroke-width="0.8"/>
<line x1="153.79999999999998" y1="623.2" x2="227.5" y2="623.2" stroke="#3a3a3a" stroke-width="0.8"/>
<line x1="152.2" y1="585.7" x2="154.2" y2="585.7" stroke="#050505" stroke-width="0.7"/>
<text x="151.39999999999998" y="586.7" text-anchor="end" font-family="'Liberation Sans', sans-serif" font-size="3.3" fill="#000" stroke="#000" stroke-width="0.08">20</text>
<line x1="152.2" y1="595.1" x2="154.2" y2="595.1" stroke="#050505" stroke-width="0.7"/>
<text x="151.39999999999998" y="596.1" text-anchor="end" font-family="'Liberation Sans', sans-serif" font-size="3.3" fill="#000" stroke="#000" stroke-width="0.08">15</text>
<line x1="152.2" y1="604.5" x2="154.2" y2="604.5" stroke="#050505" stroke-width="0.7"/>
<text x="151.39999999999998" y="605.5" text-anchor="end" font-family="'Liberation Sans', sans-serif" font-size="3.3" fill="#000" stroke="#000" stroke-width="0.08">10</text>
<line x1="152.2" y1="613.8" x2="154.2" y2="613.8" stroke="#050505" stroke-width="0.7"/>
<text x="151.39999999999998" y="614.8" text-anchor="end" font-family="'Liberation Sans', sans-serif" font-size="3.3" fill="#000" stroke="#000" stroke-width="0.08">5</text>
<line x1="152.2" y1="623.2" x2="154.2" y2="623.2" stroke="#050505" stroke-width="0.7"/>
<text x="151.39999999999998" y="624.2" text-anchor="end" font-family="'Liberation Sans', sans-serif" font-size="3.3" fill="#000" stroke="#000" stroke-width="0.08">0</text>
<text x="195.5" y="583.9" text-anchor="middle" font-family="'Liberation Sans', sans-serif" font-size="5.1" font-weight="bold" fill="#000" letter-spacing="0.4">SLC25A11</text>
<text x="194.5" y="590.4" text-anchor="middle" font-family="'Liberation Sans', sans-serif" font-size="5.5" fill="#303030">P&gt;0.05</text>
<line x1="159.5" y1="609" x2="175.5" y2="609" stroke="#222" stroke-width="0.6"/>
<circle cx="167.1" cy="599.5" r="0.92" fill="#050505"/>
<circle cx="168.6" cy="601.0" r="0.92" fill="#050505"/>
<circle cx="166.9" cy="605.5" r="0.92" fill="#050505"/>
<circle cx="168.9" cy="607.5" r="0.92" fill="#050505"/>
<circle cx="167.1" cy="608.5" r="0.92" fill="#050505"/>
<circle cx="164.4" cy="609.5" r="0.92" fill="#050505"/>
<circle cx="167.9" cy="610.5" r="0.92" fill="#050505"/>
<circle cx="163.3" cy="611.5" r="0.92" fill="#050505"/>
<circle cx="167.1" cy="612.5" r="0.92" fill="#050505"/>
<circle cx="165.0" cy="614.0" r="0.92" fill="#050505"/>
<circle cx="167.0" cy="616.0" r="0.92" fill="#050505"/>
<line x1="182.2" y1="609" x2="198.8" y2="609" stroke="#222" stroke-width="0.6"/>
<rect x="189.5" y="593.1" width="1.70" height="1.70" fill="#050505"/>
<rect x="190.4" y="597.1" width="1.70" height="1.70" fill="#050505"/>
<rect x="190.3" y="601.1" width="1.70" height="1.70" fill="#050505"/>
<rect x="188.4" y="603.6" width="1.70" height="1.70" fill="#050505"/>
<rect x="189.7" y="606.1" width="1.70" height="1.70" fill="#050505"/>
<rect x="191.8" y="608.1" width="1.70" height="1.70" fill="#050505"/>
<rect x="187.5" y="609.6" width="1.70" height="1.70" fill="#050505"/>
<rect x="190.0" y="611.1" width="1.70" height="1.70" fill="#050505"/>
<rect x="191.6" y="612.6" width="1.70" height="1.70" fill="#050505"/>
<rect x="188.4" y="614.1" width="1.70" height="1.70" fill="#050505"/>
<rect x="187.8" y="616.1" width="1.70" height="1.70" fill="#050505"/>
<rect x="190.5" y="617.9" width="1.70" height="1.70" fill="#050505"/>
<line x1="210" y1="613" x2="226" y2="613" stroke="#222" stroke-width="0.6"/>
<polygon points="218.6,595.9 219.7,597.9 217.5,597.9" fill="#050505"/>
<polygon points="220.4,607.6 221.5,609.6 219.2,609.6" fill="#050505"/>
<polygon points="216.3,608.9 217.4,610.9 215.2,610.9" fill="#050505"/>
<polygon points="220.1,610.4 221.2,612.4 219.0,612.4" fill="#050505"/>
<polygon points="216.5,611.9 217.6,613.9 215.4,613.9" fill="#050505"/>
<polygon points="220.8,612.9 221.9,614.9 219.7,614.9" fill="#050505"/>
<polygon points="215.8,614.4 216.9,616.4 214.7,616.4" fill="#050505"/>
<polygon points="217.4,615.9 218.5,617.9 216.3,617.9" fill="#050505"/>
<polygon points="219.3,617.4 220.4,619.4 218.2,619.4" fill="#050505"/>
<polygon points="215.8,618.9 216.9,620.9 214.7,620.9" fill="#050505"/>
<polygon points="219.1,619.9 220.2,621.9 218.0,621.9" fill="#050505"/>
<text x="167.5" y="630.5" text-anchor="middle" font-family="'Liberation Sans', sans-serif" font-size="5.0" fill="#303030" letter-spacing="0.35">DNMT3A</text>
<text x="167.5" y="635.4" text-anchor="middle" font-family="'Liberation Sans', sans-serif" font-size="5.0" fill="#303030" letter-spacing="0.25">(n=11)</text>
<text x="190.5" y="630.5" text-anchor="middle" font-family="'Liberation Sans', sans-serif" font-size="5.0" fill="#303030" letter-spacing="0.35">MLL</text>
<text x="190.5" y="635.4" text-anchor="middle" font-family="'Liberation Sans', sans-serif" font-size="5.0" fill="#303030" letter-spacing="0.25">(n=12)</text>
<text x="218" y="630.5" text-anchor="middle" font-family="'Liberation Sans', sans-serif" font-size="5.0" fill="#303030" letter-spacing="0.35">WT</text>
<text x="218" y="635.4" text-anchor="middle" font-family="'Liberation Sans', sans-serif" font-size="5.0" fill="#303030" letter-spacing="0.25">(n=11)</text>
<line x1="154.2" y1="644" x2="154.2" y2="681" stroke="#3a3a3a" stroke-width="0.8"/>
<line x1="153.79999999999998" y1="681" x2="227.5" y2="681" stroke="#3a3a3a" stroke-width="0.8"/>
<line x1="152.2" y1="644.2" x2="154.2" y2="644.2" stroke="#050505" stroke-width="0.7"/>
<text x="151.39999999999998" y="645.2" text-anchor="end" font-family="'Liberation Sans', sans-serif" font-size="3.3" fill="#000" stroke="#000" stroke-width="0.08">200</text>
<line x1="152.2" y1="653.4" x2="154.2" y2="653.4" stroke="#050505" stroke-width="0.7"/>
<text x="151.39999999999998" y="654.4" text-anchor="end" font-family="'Liberation Sans', sans-serif" font-size="3.3" fill="#000" stroke="#000" stroke-width="0.08">150</text>
<line x1="152.2" y1="662.6" x2="154.2" y2="662.6" stroke="#050505" stroke-width="0.7"/>
<text x="151.39999999999998" y="663.6" text-anchor="end" font-family="'Liberation Sans', sans-serif" font-size="3.3" fill="#000" stroke="#000" stroke-width="0.08">100</text>
<line x1="152.2" y1="671.8" x2="154.2" y2="671.8" stroke="#050505" stroke-width="0.7"/>
<text x="151.39999999999998" y="672.8" text-anchor="end" font-family="'Liberation Sans', sans-serif" font-size="3.3" fill="#000" stroke="#000" stroke-width="0.08">50</text>
<line x1="152.2" y1="681.0" x2="154.2" y2="681.0" stroke="#050505" stroke-width="0.7"/>
<text x="151.39999999999998" y="682.0" text-anchor="end" font-family="'Liberation Sans', sans-serif" font-size="3.3" fill="#000" stroke="#000" stroke-width="0.08">0</text>
<text x="195.5" y="643.4" text-anchor="middle" font-family="'Liberation Sans', sans-serif" font-size="5.1" font-weight="bold" fill="#000" letter-spacing="0.4">SLC25A37</text>
<text x="194.5" y="650.7" text-anchor="middle" font-family="'Liberation Sans', sans-serif" font-size="5.5" fill="#303030">P&gt;0.05</text>
<line x1="159.5" y1="677.7" x2="175.5" y2="677.7" stroke="#222" stroke-width="0.6"/>
<circle cx="166.3" cy="671.0" r="0.92" fill="#050505"/>
<circle cx="166.9" cy="673.0" r="0.92" fill="#050505"/>
<circle cx="170.1" cy="674.5" r="0.92" fill="#050505"/>
<circle cx="164.9" cy="675.5" r="0.92" fill="#050505"/>
<circle cx="171.6" cy="676.5" r="0.92" fill="#050505"/>
<circle cx="168.2" cy="677.5" r="0.92" fill="#050505"/>
<circle cx="163.3" cy="678.0" r="0.92" fill="#050505"/>
<circle cx="169.9" cy="678.5" r="0.92" fill="#050505"/>
<circle cx="166.0" cy="679.0" r="0.92" fill="#050505"/>
<circle cx="172.1" cy="679.5" r="0.92" fill="#050505"/>
<circle cx="164.1" cy="680.0" r="0.92" fill="#050505"/>
<circle cx="170.4" cy="681.0" r="0.92" fill="#050505"/>
<line x1="182.2" y1="674" x2="198.8" y2="674" stroke="#222" stroke-width="0.6"/>
<rect x="189.5" y="653.1" width="1.70" height="1.70" fill="#050505"/>
<rect x="190.4" y="659.1" width="1.70" height="1.70" fill="#050505"/>
<rect x="189.9" y="670.1" width="1.70" height="1.70" fill="#050505"/>
<rect x="188.8" y="674.1" width="1.70" height="1.70" fill="#050505"/>
<rect x="189.7" y="676.1" width="1.70" height="1.70" fill="#050505"/>
<rect x="193.3" y="677.1" width="1.70" height="1.70" fill="#050505"/>
<rect x="191.0" y="678.1" width="1.70" height="1.70" fill="#050505"/>
<rect x="186.2" y="678.6" width="1.70" height="1.70" fill="#050505"/>
<rect x="192.9" y="679.1" width="1.70" height="1.70" fill="#050505"/>
<rect x="188.0" y="679.6" width="1.70" height="1.70" fill="#050505"/>
<rect x="190.2" y="680.1" width="1.70" height="1.70" fill="#050505"/>
<rect x="196.6" y="680.1" width="1.70" height="1.70" fill="#050505"/>
<line x1="210" y1="672" x2="226" y2="672" stroke="#222" stroke-width="0.6"/>
<polygon points="217.5,655.9 218.6,657.9 216.4,657.9" fill="#050505"/>
<polygon points="218.7,657.9 219.8,659.9 217.6,659.9" fill="#050505"/>
<polygon points="218.2,660.9 219.3,662.9 217.1,662.9" fill="#050505"/>
<polygon points="218.9,666.9 220.0,668.9 217.8,668.9" fill="#050505"/>
<polygon points="217.0,667.9 218.1,669.9 215.9,669.9" fill="#050505"/>
<polygon points="221.1,677.9 222.2,679.9 220.0,679.9" fill="#050505"/>
<polygon points="216.5,678.9 217.6,680.9 215.4,680.9" fill="#050505"/>
<polygon points="219.1,678.9 220.2,680.9 218.0,680.9" fill="#050505"/>
<polygon points="214.4,679.4 215.5,681.4 213.3,681.4" fill="#050505"/>
<polygon points="221.9,679.9 223.0,681.9 220.8,681.9" fill="#050505"/>
<polygon points="224.9,679.9 226.0,681.9 223.8,681.9" fill="#050505"/>
<polygon points="211.1,679.9 212.2,681.9 210.0,681.9" fill="#050505"/>
<text x="167.5" y="688.3" text-anchor="middle" font-family="'Liberation Sans', sans-serif" font-size="5.0" fill="#303030" letter-spacing="0.35">DNMT3A</text>
<text x="167.5" y="692.9" text-anchor="middle" font-family="'Liberation Sans', sans-serif" font-size="5.0" fill="#303030" letter-spacing="0.25">(n=12)</text>
<text x="190.5" y="688.3" text-anchor="middle" font-family="'Liberation Sans', sans-serif" font-size="5.0" fill="#303030" letter-spacing="0.35">MLL</text>
<text x="190.5" y="692.9" text-anchor="middle" font-family="'Liberation Sans', sans-serif" font-size="5.0" fill="#303030" letter-spacing="0.25">(n=12)</text>
<text x="218" y="688.3" text-anchor="middle" font-family="'Liberation Sans', sans-serif" font-size="5.0" fill="#303030" letter-spacing="0.35">WT</text>
<text x="218" y="692.9" text-anchor="middle" font-family="'Liberation Sans', sans-serif" font-size="5.0" fill="#303030" letter-spacing="0.25">(n=12)</text>
<line x1="294.2" y1="348.7" x2="294.2" y2="392.5" stroke="#050505" stroke-width="1.0"/>
<line x1="293.8" y1="392.5" x2="381" y2="392.5" stroke="#050505" stroke-width="1.0"/>
<line x1="292.2" y1="349.0" x2="294.2" y2="349.0" stroke="#050505" stroke-width="0.7"/>
<text x="291.4" y="350.0" text-anchor="end" font-family="'Liberation Sans', sans-serif" font-size="3.3" fill="#000" stroke="#000" stroke-width="0.08">30</text>
<line x1="292.2" y1="356.2" x2="294.2" y2="356.2" stroke="#050505" stroke-width="0.7"/>
<text x="291.4" y="357.2" text-anchor="end" font-family="'Liberation Sans', sans-serif" font-size="3.3" fill="#000" stroke="#000" stroke-width="0.08">25</text>
<line x1="292.2" y1="363.5" x2="294.2" y2="363.5" stroke="#050505" stroke-width="0.7"/>
<text x="291.4" y="364.5" text-anchor="end" font-family="'Liberation Sans', sans-serif" font-size="3.3" fill="#000" stroke="#000" stroke-width="0.08">20</text>
<line x1="292.2" y1="370.8" x2="294.2" y2="370.8" stroke="#050505" stroke-width="0.7"/>
<text x="291.4" y="371.8" text-anchor="end" font-family="'Liberation Sans', sans-serif" font-size="3.3" fill="#000" stroke="#000" stroke-width="0.08">15</text>
<line x1="292.2" y1="378.0" x2="294.2" y2="378.0" stroke="#050505" stroke-width="0.7"/>
<text x="291.4" y="379.0" text-anchor="end" font-family="'Liberation Sans', sans-serif" font-size="3.3" fill="#000" stroke="#000" stroke-width="0.08">10</text>
<line x1="292.2" y1="385.2" x2="294.2" y2="385.2" stroke="#050505" stroke-width="0.7"/>
<text x="291.4" y="386.2" text-anchor="end" font-family="'Liberation Sans', sans-serif" font-size="3.3" fill="#000" stroke="#000" stroke-width="0.08">5</text>
<line x1="292.2" y1="392.5" x2="294.2" y2="392.5" stroke="#050505" stroke-width="0.7"/>
<text x="291.4" y="393.5" text-anchor="end" font-family="'Liberation Sans', sans-serif" font-size="3.3" fill="#000" stroke="#000" stroke-width="0.08">0</text>
<text x="335.5" y="344.9" text-anchor="middle" font-family="'Liberation Sans', sans-serif" font-size="5.1" font-weight="bold" fill="#000" letter-spacing="0.4">HOXB2</text>
<polyline points="303.7,350 303.7,348 338.7,348 338.7,366" fill="none" stroke="#999" stroke-width="0.55"/>
<polyline points="338.7,366 338.7,348 366.2,348 366.2,382" fill="none" stroke="#999" stroke-width="0.55"/>
<text x="322.5" y="353.8" text-anchor="middle" font-family="'Liberation Sans', sans-serif" font-size="5.4" fill="#303030">P=0.002</text>
<text x="352.5" y="352.6" text-anchor="middle" font-family="'Liberation Sans', sans-serif" font-size="5.4" fill="#303030">P=0.001</text>
<line x1="297.5" y1="379.5" x2="317.5" y2="379.5" stroke="#222" stroke-width="0.6"/>
<circle cx="308.2" cy="350.0" r="1.19" fill="#050505"/>
<circle cx="308.2" cy="370.0" r="1.19" fill="#050505"/>
<circle cx="305.5" cy="372.0" r="1.19" fill="#050505"/>
<circle cx="307.0" cy="374.5" r="1.19" fill="#050505"/>
<circle cx="308.8" cy="376.5" r="1.19" fill="#050505"/>
<circle cx="306.1" cy="379.0" r="1.19" fill="#050505"/>
<circle cx="307.7" cy="381.5" r="1.19" fill="#050505"/>
<circle cx="305.5" cy="384.0" r="1.19" fill="#050505"/>
<circle cx="308.1" cy="386.0" r="1.19" fill="#050505"/>
<circle cx="306.3" cy="388.0" r="1.19" fill="#050505"/>
<circle cx="309.4" cy="390.0" r="1.19" fill="#050505"/>
<circle cx="307.0" cy="392.0" r="1.19" fill="#050505"/>
<line x1="325.5" y1="389.5" x2="346.5" y2="389.5" stroke="#222" stroke-width="0.6"/>
<rect x="334.3" y="375.9" width="2.20" height="2.20" fill="#050505"/>
<rect x="337.2" y="376.4" width="2.20" height="2.20" fill="#050505"/>
<rect x="334.2" y="381.9" width="2.20" height="2.20" fill="#050505"/>
<rect x="336.5" y="387.9" width="2.20" height="2.20" fill="#050505"/>
<rect x="333.7" y="388.9" width="2.20" height="2.20" fill="#050505"/>
<rect x="338.7" y="389.9" width="2.20" height="2.20" fill="#050505"/>
<rect x="336.0" y="390.4" width="2.20" height="2.20" fill="#050505"/>
<rect x="331.8" y="390.9" width="2.20" height="2.20" fill="#050505"/>
<rect x="341.8" y="390.9" width="2.20" height="2.20" fill="#050505"/>
<rect x="328.0" y="390.9" width="2.20" height="2.20" fill="#050505"/>
<rect x="344.1" y="390.9" width="2.20" height="2.20" fill="#050505"/>
<rect x="325.7" y="390.9" width="2.20" height="2.20" fill="#050505"/>
<rect x="334.0" y="390.9" width="2.20" height="2.20" fill="#050505"/>
<rect x="330.3" y="390.9" width="2.20" height="2.20" fill="#050505"/>
<rect x="337.6" y="390.9" width="2.20" height="2.20" fill="#050505"/>
<line x1="356" y1="389.5" x2="376" y2="389.5" stroke="#222" stroke-width="0.6"/>
<polygon points="364.7,382.3 366.1,384.8 363.3,384.8" fill="#050505"/>
<polygon points="369.5,383.6 371.0,386.1 368.1,386.1" fill="#050505"/>
<polygon points="361.7,384.1 363.1,386.6 360.3,386.6" fill="#050505"/>
<polygon points="367.0,384.3 368.4,386.8 365.5,386.8" fill="#050505"/>
<polygon points="372.9,384.6 374.3,387.1 371.5,387.1" fill="#050505"/>
<polygon points="363.8,388.1 365.2,390.6 362.3,390.6" fill="#050505"/>
<polygon points="368.6,389.1 370.0,391.6 367.1,391.6" fill="#050505"/>
<polygon points="365.7,390.1 367.1,392.6 364.2,392.6" fill="#050505"/>
<polygon points="362.4,390.6 363.9,393.1 361.0,393.1" fill="#050505"/>
<polygon points="370.6,390.6 372.0,393.1 369.2,393.1" fill="#050505"/>
<polygon points="359.1,390.6 360.5,393.1 357.7,393.1" fill="#050505"/>
<polygon points="375.2,390.6 376.6,393.1 373.8,393.1" fill="#050505"/>
<polygon points="356.8,390.6 358.2,393.1 355.4,393.1" fill="#050505"/>
<polygon points="372.9,390.6 374.3,393.1 371.5,393.1" fill="#050505"/>
<polygon points="369.0,390.6 370.4,393.1 367.5,393.1" fill="#050505"/>
<text x="307.5" y="399.8" text-anchor="middle" font-family="'Liberation Sans', sans-serif" font-size="5.0" fill="#303030" letter-spacing="0.35">DNMT3A</text>
<text x="307.5" y="405.2" text-anchor="middle" font-family="'Liberation Sans', sans-serif" font-size="5.0" fill="#303030" letter-spacing="0.25">(n=12)</text>
<text x="336" y="399.8" text-anchor="middle" font-family="'Liberation Sans', sans-serif" font-size="5.0" fill="#303030" letter-spacing="0.35">MLL</text>
<text x="336" y="405.2" text-anchor="middle" font-family="'Liberation Sans', sans-serif" font-size="5.0" fill="#303030" letter-spacing="0.25">(n=15)</text>
<text x="366" y="399.8" text-anchor="middle" font-family="'Liberation Sans', sans-serif" font-size="5.0" fill="#303030" letter-spacing="0.35">WT</text>
<text x="366" y="405.2" text-anchor="middle" font-family="'Liberation Sans', sans-serif" font-size="5.0" fill="#303030" letter-spacing="0.25">(n=15)</text>
<text transform="translate(280.5,370.7) rotate(-90)" text-anchor="middle" font-family="'Liberation Sans', sans-serif" font-size="5.3" font-weight="bold" font-style="normal" fill="#000" stroke="#000" stroke-width="0.15" letter-spacing="0.3">Fold</text>
<line x1="294.2" y1="420.5" x2="294.2" y2="464.2" stroke="#050505" stroke-width="1.0"/>
<line x1="293.8" y1="464.2" x2="381" y2="464.2" stroke="#050505" stroke-width="1.0"/>
<line x1="292.2" y1="420.7" x2="294.2" y2="420.7" stroke="#050505" stroke-width="0.7"/>
<text x="291.4" y="421.7" text-anchor="end" font-family="'Liberation Sans', sans-serif" font-size="3.3" fill="#000" stroke="#000" stroke-width="0.08">15</text>
<line x1="292.2" y1="435.2" x2="294.2" y2="435.2" stroke="#050505" stroke-width="0.7"/>
<text x="291.4" y="436.2" text-anchor="end" font-family="'Liberation Sans', sans-serif" font-size="3.3" fill="#000" stroke="#000" stroke-width="0.08">10</text>
<line x1="292.2" y1="449.7" x2="294.2" y2="449.7" stroke="#050505" stroke-width="0.7"/>
<text x="291.4" y="450.7" text-anchor="end" font-family="'Liberation Sans', sans-serif" font-size="3.3" fill="#000" stroke="#000" stroke-width="0.08">5</text>
<line x1="292.2" y1="464.2" x2="294.2" y2="464.2" stroke="#050505" stroke-width="0.7"/>
<text x="291.4" y="465.2" text-anchor="end" font-family="'Liberation Sans', sans-serif" font-size="3.3" fill="#000" stroke="#000" stroke-width="0.08">0</text>
<text x="335" y="416.1" text-anchor="middle" font-family="'Liberation Sans', sans-serif" font-size="5.1" font-weight="bold" fill="#000" letter-spacing="0.4">HOXB3</text>
<polyline points="302,420.5 302,418.2 336.2,418.2 336.2,438.7" fill="none" stroke="#999" stroke-width="0.55"/>
<polyline points="336.2,438.7 336.2,418.2 363.7,418.2 363.7,450" fill="none" stroke="#999" stroke-width="0.55"/>
<text x="321" y="425.8" text-anchor="middle" font-family="'Liberation Sans', sans-serif" font-size="5.4" fill="#303030">P=0.001</text>
<text x="352.5" y="424.1" text-anchor="middle" font-family="'Liberation Sans', sans-serif" font-size="5.4" fill="#303030">P=0.001</text>
<line x1="297.5" y1="445.5" x2="317.5" y2="445.5" stroke="#222" stroke-width="0.6"/>
<circle cx="309.1" cy="423.7" r="1.19" fill="#050505"/>
<circle cx="305.8" cy="426.0" r="1.19" fill="#050505"/>
<circle cx="306.9" cy="434.0" r="1.19" fill="#050505"/>
<circle cx="307.2" cy="439.0" r="1.19" fill="#050505"/>
<circle cx="307.8" cy="441.5" r="1.19" fill="#050505"/>
<circle cx="306.1" cy="443.5" r="1.19" fill="#050505"/>
<circle cx="307.6" cy="445.5" r="1.19" fill="#050505"/>
<circle cx="306.2" cy="451.0" r="1.19" fill="#050505"/>
<circle cx="309.8" cy="452.0" r="1.19" fill="#050505"/>
<circle cx="307.1" cy="455.5" r="1.19" fill="#050505"/>
<circle cx="308.1" cy="459.0" r="1.19" fill="#050505"/>
<circle cx="307.3" cy="464.0" r="1.19" fill="#050505"/>
<line x1="325.5" y1="460" x2="346.5" y2="460" stroke="#222" stroke-width="0.6"/>
<rect x="334.6" y="441.4" width="2.20" height="2.20" fill="#050505"/>
<rect x="335.2" y="444.4" width="2.20" height="2.20" fill="#050505"/>
<rect x="333.5" y="452.9" width="2.20" height="2.20" fill="#050505"/>
<rect x="335.9" y="453.4" width="2.20" height="2.20" fill="#050505"/>
<rect x="337.2" y="461.9" width="2.20" height="2.20" fill="#050505"/>
<rect x="333.5" y="462.4" width="2.20" height="2.20" fill="#050505"/>
<rect x="330.8" y="462.9" width="2.20" height="2.20" fill="#050505"/>
<rect x="339.5" y="462.9" width="2.20" height="2.20" fill="#050505"/>
<rect x="328.0" y="462.9" width="2.20" height="2.20" fill="#050505"/>
<rect x="344.1" y="462.9" width="2.20" height="2.20" fill="#050505"/>
<rect x="325.7" y="462.9" width="2.20" height="2.20" fill="#050505"/>
<rect x="341.8" y="462.9" width="2.20" height="2.20" fill="#050505"/>
<rect x="335.1" y="462.9" width="2.20" height="2.20" fill="#050505"/>
<rect x="332.2" y="462.9" width="2.20" height="2.20" fill="#050505"/>
<rect x="337.7" y="462.9" width="2.20" height="2.20" fill="#050505"/>
<line x1="356" y1="459" x2="376" y2="459" stroke="#222" stroke-width="0.6"/>
<polygon points="365.5,451.1 366.9,453.6 364.1,453.6" fill="#050505"/>
<polygon points="368.1,451.6 369.5,454.1 366.7,454.1" fill="#050505"/>
<polygon points="366.1,454.1 367.5,456.6 364.7,456.6" fill="#050505"/>
<polygon points="370.6,454.6 372.0,457.1 369.2,457.1" fill="#050505"/>
<polygon points="370.4,460.1 371.8,462.6 368.9,462.6" fill="#050505"/>
<polygon points="363.8,461.1 365.2,463.6 362.3,463.6" fill="#050505"/>
<polygon points="368.6,462.1 370.0,464.6 367.1,464.6" fill="#050505"/>
<polygon points="366.0,462.6 367.4,465.1 364.6,465.1" fill="#050505"/>
<polygon points="361.4,462.6 362.8,465.1 360.0,465.1" fill="#050505"/>
<polygon points="372.9,462.6 374.3,465.1 371.5,465.1" fill="#050505"/>
<polygon points="356.8,462.6 358.2,465.1 355.4,465.1" fill="#050505"/>
<polygon points="375.2,462.6 376.6,465.1 373.8,465.1" fill="#050505"/>
<polygon points="359.1,462.6 360.5,465.1 357.7,465.1" fill="#050505"/>
<polygon points="370.6,462.6 372.0,465.1 369.2,465.1" fill="#050505"/>
<polygon points="363.7,462.6 365.1,465.1 362.3,465.1" fill="#050505"/>
<text x="307.5" y="471.5" text-anchor="middle" font-family="'Liberation Sans', sans-serif" font-size="5.0" fill="#303030" letter-spacing="0.35">DNMT3A</text>
<text x="307.5" y="476.5" text-anchor="middle" font-family="'Liberation Sans', sans-serif" font-size="5.0" fill="#303030" letter-spacing="0.25">(n=12)</text>
<text x="336" y="471.5" text-anchor="middle" font-family="'Liberation Sans', sans-serif" font-size="5.0" fill="#303030" letter-spacing="0.35">MLL</text>
<text x="336" y="476.5" text-anchor="middle" font-family="'Liberation Sans', sans-serif" font-size="5.0" fill="#303030" letter-spacing="0.25">(n=15)</text>
<text x="366" y="471.5" text-anchor="middle" font-family="'Liberation Sans', sans-serif" font-size="5.0" fill="#303030" letter-spacing="0.35">WT</text>
<text x="366" y="476.5" text-anchor="middle" font-family="'Liberation Sans', sans-serif" font-size="5.0" fill="#303030" letter-spacing="0.25">(n=15)</text>
<text transform="translate(280.0,442) rotate(-90)" text-anchor="middle" font-family="'Liberation Sans', sans-serif" font-size="5.3" font-weight="bold" font-style="normal" fill="#000" stroke="#000" stroke-width="0.15" letter-spacing="0.3">Fold</text>
<line x1="294.2" y1="493" x2="294.2" y2="536.2" stroke="#050505" stroke-width="1.0"/>
<line x1="293.8" y1="536.2" x2="381" y2="536.2" stroke="#050505" stroke-width="1.0"/>
<line x1="292.2" y1="493.2" x2="294.2" y2="493.2" stroke="#050505" stroke-width="0.7"/>
<text x="291.4" y="494.2" text-anchor="end" font-family="'Liberation Sans', sans-serif" font-size="3.3" fill="#000" stroke="#000" stroke-width="0.08">20</text>
<line x1="292.2" y1="503.9" x2="294.2" y2="503.9" stroke="#050505" stroke-width="0.7"/>
<text x="291.4" y="504.9" text-anchor="end" font-family="'Liberation Sans', sans-serif" font-size="3.3" fill="#000" stroke="#000" stroke-width="0.08">15</text>
<line x1="292.2" y1="514.7" x2="294.2" y2="514.7" stroke="#050505" stroke-width="0.7"/>
<text x="291.4" y="515.7" text-anchor="end" font-family="'Liberation Sans', sans-serif" font-size="3.3" fill="#000" stroke="#000" stroke-width="0.08">10</text>
<line x1="292.2" y1="525.5" x2="294.2" y2="525.5" stroke="#050505" stroke-width="0.7"/>
<text x="291.4" y="526.5" text-anchor="end" font-family="'Liberation Sans', sans-serif" font-size="3.3" fill="#000" stroke="#000" stroke-width="0.08">5</text>
<line x1="292.2" y1="536.2" x2="294.2" y2="536.2" stroke="#050505" stroke-width="0.7"/>
<text x="291.4" y="537.2" text-anchor="end" font-family="'Liberation Sans', sans-serif" font-size="3.3" fill="#000" stroke="#000" stroke-width="0.08">0</text>
<text x="335" y="488.1" text-anchor="middle" font-family="'Liberation Sans', sans-serif" font-size="5.1" font-weight="bold" fill="#000" letter-spacing="0.4">HOXB4</text>
<polyline points="303.7,493.7 303.7,491.2 338,491.2 338,512.5" fill="none" stroke="#999" stroke-width="0.55"/>
<polyline points="338,512.5 338,491.2 367.5,491.2 367.5,500" fill="none" stroke="#999" stroke-width="0.55"/>
<text x="322.5" y="499.6" text-anchor="middle" font-family="'Liberation Sans', sans-serif" font-size="5.4" fill="#303030">P=0.001</text>
<text x="352.5" y="497.6" text-anchor="middle" font-family="'Liberation Sans', sans-serif" font-size="5.4" fill="#303030">P=0.003</text>
<line x1="297.5" y1="516.7" x2="317.5" y2="516.7" stroke="#222" stroke-width="0.6"/>
<circle cx="308.2" cy="497.5" r="1.19" fill="#050505"/>
<circle cx="307.8" cy="503.0" r="1.19" fill="#050505"/>
<circle cx="306.2" cy="508.5" r="1.19" fill="#050505"/>
<circle cx="308.8" cy="509.5" r="1.19" fill="#050505"/>
<circle cx="307.7" cy="513.5" r="1.19" fill="#050505"/>
<circle cx="306.1" cy="516.0" r="1.19" fill="#050505"/>
<circle cx="307.6" cy="518.0" r="1.19" fill="#050505"/>
<circle cx="306.2" cy="521.0" r="1.19" fill="#050505"/>
<circle cx="306.7" cy="523.5" r="1.19" fill="#050505"/>
<circle cx="309.8" cy="524.0" r="1.19" fill="#050505"/>
<circle cx="308.1" cy="528.5" r="1.19" fill="#050505"/>
<circle cx="307.3" cy="536.0" r="1.19" fill="#050505"/>
<line x1="325.5" y1="533.2" x2="346.5" y2="533.2" stroke="#222" stroke-width="0.6"/>
<rect x="334.6" y="513.4" width="2.20" height="2.20" fill="#050505"/>
<rect x="335.2" y="525.9" width="2.20" height="2.20" fill="#050505"/>
<rect x="331.2" y="531.9" width="2.20" height="2.20" fill="#050505"/>
<rect x="336.9" y="532.9" width="2.20" height="2.20" fill="#050505"/>
<rect x="333.7" y="533.4" width="2.20" height="2.20" fill="#050505"/>
<rect x="339.5" y="533.9" width="2.20" height="2.20" fill="#050505"/>
<rect x="330.8" y="534.4" width="2.20" height="2.20" fill="#050505"/>
<rect x="341.8" y="534.9" width="2.20" height="2.20" fill="#050505"/>
<rect x="328.0" y="534.9" width="2.20" height="2.20" fill="#050505"/>
<rect x="344.1" y="534.9" width="2.20" height="2.20" fill="#050505"/>
<rect x="335.5" y="534.9" width="2.20" height="2.20" fill="#050505"/>
<rect x="325.7" y="534.9" width="2.20" height="2.20" fill="#050505"/>
<rect x="337.4" y="534.9" width="2.20" height="2.20" fill="#050505"/>
<rect x="332.6" y="534.9" width="2.20" height="2.20" fill="#050505"/>
<rect x="334.0" y="534.9" width="2.20" height="2.20" fill="#050505"/>
<line x1="356" y1="527.5" x2="376" y2="527.5" stroke="#222" stroke-width="0.6"/>
<polygon points="365.8,503.1 367.2,505.6 364.3,505.6" fill="#050505"/>
<polygon points="365.5,507.3 366.9,509.8 364.1,509.8" fill="#050505"/>
<polygon points="366.0,511.6 367.5,514.1 364.6,514.1" fill="#050505"/>
<polygon points="366.2,519.6 367.7,522.1 364.8,522.1" fill="#050505"/>
<polygon points="366.8,526.1 368.2,528.6 365.4,528.6" fill="#050505"/>
<polygon points="364.7,530.6 366.1,533.1 363.3,533.1" fill="#050505"/>
<polygon points="368.0,531.6 369.5,534.1 366.6,534.1" fill="#050505"/>
<polygon points="363.1,532.6 364.5,535.1 361.6,535.1" fill="#050505"/>
<polygon points="370.2,533.6 371.6,536.1 368.8,536.1" fill="#050505"/>
<polygon points="364.9,534.6 366.3,537.1 363.5,537.1" fill="#050505"/>
<polygon points="367.5,534.6 369.0,537.1 366.1,537.1" fill="#050505"/>
<polygon points="361.4,534.6 362.8,537.1 360.0,537.1" fill="#050505"/>
<polygon points="372.9,534.6 374.3,537.1 371.5,537.1" fill="#050505"/>
<polygon points="356.8,534.6 358.2,537.1 355.4,537.1" fill="#050505"/>
<polygon points="375.2,534.6 376.6,537.1 373.8,537.1" fill="#050505"/>
<text x="307.5" y="543.3" text-anchor="middle" font-family="'Liberation Sans', sans-serif" font-size="5.0" fill="#303030" letter-spacing="0.35">DNMT3A</text>
<text x="307.5" y="548.4" text-anchor="middle" font-family="'Liberation Sans', sans-serif" font-size="5.0" fill="#303030" letter-spacing="0.25">(n=12)</text>
<text x="336" y="543.3" text-anchor="middle" font-family="'Liberation Sans', sans-serif" font-size="5.0" fill="#303030" letter-spacing="0.35">MLL</text>
<text x="336" y="548.4" text-anchor="middle" font-family="'Liberation Sans', sans-serif" font-size="5.0" fill="#303030" letter-spacing="0.25">(n=15)</text>
<text x="366" y="543.3" text-anchor="middle" font-family="'Liberation Sans', sans-serif" font-size="5.0" fill="#303030" letter-spacing="0.35">WT</text>
<text x="366" y="548.4" text-anchor="middle" font-family="'Liberation Sans', sans-serif" font-size="5.0" fill="#303030" letter-spacing="0.25">(n=15)</text>
<text transform="translate(280.0,514) rotate(-90)" text-anchor="middle" font-family="'Liberation Sans', sans-serif" font-size="5.3" font-weight="bold" font-style="normal" fill="#000" stroke="#000" stroke-width="0.15" letter-spacing="0.3">Fold</text>
<line x1="294.2" y1="562" x2="294.2" y2="606.2" stroke="#050505" stroke-width="1.0"/>
<line x1="293.8" y1="606.2" x2="381" y2="606.2" stroke="#050505" stroke-width="1.0"/>
<line x1="292.2" y1="562.2" x2="294.2" y2="562.2" stroke="#050505" stroke-width="0.7"/>
<text x="291.4" y="563.2" text-anchor="end" font-family="'Liberation Sans', sans-serif" font-size="3.3" fill="#000" stroke="#000" stroke-width="0.08">200</text>
<line x1="292.2" y1="565.2" x2="294.2" y2="565.2" stroke="#050505" stroke-width="0.7"/>
<text x="291.4" y="566.2" text-anchor="end" font-family="'Liberation Sans', sans-serif" font-size="3.3" fill="#000" stroke="#000" stroke-width="0.08">170</text>
<line x1="292.2" y1="568.2" x2="294.2" y2="568.2" stroke="#050505" stroke-width="0.7"/>
<text x="291.4" y="569.2" text-anchor="end" font-family="'Liberation Sans', sans-serif" font-size="3.3" fill="#000" stroke="#000" stroke-width="0.08">140</text>
<line x1="292.2" y1="573.0" x2="294.2" y2="573.0" stroke="#050505" stroke-width="0.7"/>
<text x="291.4" y="574.0" text-anchor="end" font-family="'Liberation Sans', sans-serif" font-size="3.3" fill="#000" stroke="#000" stroke-width="0.08">120</text>
<line x1="292.2" y1="581.5" x2="294.2" y2="581.5" stroke="#050505" stroke-width="0.7"/>
<text x="291.4" y="582.5" text-anchor="end" font-family="'Liberation Sans', sans-serif" font-size="3.3" fill="#000" stroke="#000" stroke-width="0.08">90</text>
<line x1="292.2" y1="589.8" x2="294.2" y2="589.8" stroke="#050505" stroke-width="0.7"/>
<text x="291.4" y="590.8" text-anchor="end" font-family="'Liberation Sans', sans-serif" font-size="3.3" fill="#000" stroke="#000" stroke-width="0.08">60</text>
<line x1="292.2" y1="598.0" x2="294.2" y2="598.0" stroke="#050505" stroke-width="0.7"/>
<text x="291.4" y="599.0" text-anchor="end" font-family="'Liberation Sans', sans-serif" font-size="3.3" fill="#000" stroke="#000" stroke-width="0.08">30</text>
<line x1="292.2" y1="606.2" x2="294.2" y2="606.2" stroke="#050505" stroke-width="0.7"/>
<text x="291.4" y="607.2" text-anchor="end" font-family="'Liberation Sans', sans-serif" font-size="3.3" fill="#000" stroke="#000" stroke-width="0.08">0</text>
<rect x="292.0" y="569.8" width="4.4" height="1.4" fill="#fff"/>
<line x1="292.2" y1="569.8" x2="296.2" y2="569.8" stroke="#050505" stroke-width="0.6"/>
<line x1="292.2" y1="571.2" x2="296.2" y2="571.2" stroke="#050505" stroke-width="0.6"/>
<text x="332.7" y="559.6" text-anchor="middle" font-family="'Liberation Sans', sans-serif" font-size="5.1" font-weight="bold" fill="#000" letter-spacing="0.4">HOXA5</text>
<text x="335.5" y="567.5" text-anchor="middle" font-family="'Liberation Sans', sans-serif" font-size="6.0" fill="#303030">P&gt;0.05</text>
<line x1="297.5" y1="595.5" x2="317.5" y2="595.5" stroke="#222" stroke-width="0.6"/>
<circle cx="309.1" cy="587.0" r="1.19" fill="#050505"/>
<circle cx="304.9" cy="589.0" r="1.19" fill="#050505"/>
<circle cx="305.5" cy="591.5" r="1.19" fill="#050505"/>
<circle cx="310.2" cy="593.5" r="1.19" fill="#050505"/>
<circle cx="308.0" cy="595.0" r="1.19" fill="#050505"/>
<circle cx="305.7" cy="596.0" r="1.19" fill="#050505"/>
<circle cx="307.8" cy="597.5" r="1.19" fill="#050505"/>
<circle cx="304.1" cy="599.0" r="1.19" fill="#050505"/>
<circle cx="308.5" cy="600.0" r="1.19" fill="#050505"/>
<circle cx="312.1" cy="600.5" r="1.19" fill="#050505"/>
<circle cx="304.5" cy="601.5" r="1.19" fill="#050505"/>
<circle cx="307.3" cy="606.0" r="1.19" fill="#050505"/>
<line x1="325.5" y1="597.5" x2="346.5" y2="597.5" stroke="#222" stroke-width="0.6"/>
<rect x="334.6" y="576.9" width="2.20" height="2.20" fill="#050505"/>
<rect x="335.6" y="588.9" width="2.20" height="2.20" fill="#050505"/>
<rect x="332.6" y="589.9" width="2.20" height="2.20" fill="#050505"/>
<rect x="336.1" y="596.4" width="2.20" height="2.20" fill="#050505"/>
<rect x="333.5" y="596.9" width="2.20" height="2.20" fill="#050505"/>
<rect x="338.0" y="598.9" width="2.20" height="2.20" fill="#050505"/>
<rect x="334.0" y="600.9" width="2.20" height="2.20" fill="#050505"/>
<rect x="331.8" y="602.4" width="2.20" height="2.20" fill="#050505"/>
<rect x="337.1" y="603.4" width="2.20" height="2.20" fill="#050505"/>
<rect x="341.8" y="603.9" width="2.20" height="2.20" fill="#050505"/>
<rect x="333.3" y="604.4" width="2.20" height="2.20" fill="#050505"/>
<rect x="330.8" y="604.9" width="2.20" height="2.20" fill="#050505"/>
<rect x="339.5" y="604.9" width="2.20" height="2.20" fill="#050505"/>
<rect x="328.0" y="604.9" width="2.20" height="2.20" fill="#050505"/>
<rect x="344.1" y="604.9" width="2.20" height="2.20" fill="#050505"/>
<line x1="356" y1="598.7" x2="376" y2="598.7" stroke="#222" stroke-width="0.6"/>
<rect x="364.7" y="566.4" width="2.20" height="2.20" fill="#050505"/>
<rect x="363.9" y="590.9" width="2.20" height="2.20" fill="#050505"/>
<rect x="365.8" y="592.9" width="2.20" height="2.20" fill="#050505"/>
<rect x="365.4" y="597.9" width="2.20" height="2.20" fill="#050505"/>
<rect x="362.6" y="598.9" width="2.20" height="2.20" fill="#050505"/>
<rect x="363.1" y="601.9" width="2.20" height="2.20" fill="#050505"/>
<rect x="367.5" y="602.9" width="2.20" height="2.20" fill="#050505"/>
<rect x="361.4" y="603.9" width="2.20" height="2.20" fill="#050505"/>
<rect x="363.9" y="604.4" width="2.20" height="2.20" fill="#050505"/>
<rect x="369.0" y="604.9" width="2.20" height="2.20" fill="#050505"/>
<rect x="371.8" y="604.9" width="2.20" height="2.20" fill="#050505"/>
<rect x="358.0" y="604.9" width="2.20" height="2.20" fill="#050505"/>
<rect x="366.3" y="604.9" width="2.20" height="2.20" fill="#050505"/>
<rect x="374.1" y="604.9" width="2.20" height="2.20" fill="#050505"/>
<rect x="355.7" y="604.9" width="2.20" height="2.20" fill="#050505"/>
<text x="307.5" y="614.3" text-anchor="middle" font-family="'Liberation Sans', sans-serif" font-size="5.0" fill="#303030" letter-spacing="0.35">DNMT3A</text>
<text x="307.5" y="620.0" text-anchor="middle" font-family="'Liberation Sans', sans-serif" font-size="5.0" fill="#303030" letter-spacing="0.25">(n=12)</text>
<text x="336" y="614.3" text-anchor="middle" font-family="'Liberation Sans', sans-serif" font-size="5.0" fill="#303030" letter-spacing="0.35">MLL</text>
<text x="336" y="620.0" text-anchor="middle" font-family="'Liberation Sans', sans-serif" font-size="5.0" fill="#303030" letter-spacing="0.25">(n=15)</text>
<text x="366" y="614.3" text-anchor="middle" font-family="'Liberation Sans', sans-serif" font-size="5.0" fill="#303030" letter-spacing="0.35">WT</text>
<text x="366" y="620.0" text-anchor="middle" font-family="'Liberation Sans', sans-serif" font-size="5.0" fill="#303030" letter-spacing="0.25">(n=15)</text>
<text transform="translate(280.0,585) rotate(-90)" text-anchor="middle" font-family="'Liberation Sans', sans-serif" font-size="5.3" font-weight="bold" font-style="normal" fill="#000" stroke="#000" stroke-width="0.15" letter-spacing="0.3">Fold</text>
<line x1="294.2" y1="637.5" x2="294.2" y2="681.2" stroke="#050505" stroke-width="1.0"/>
<line x1="293.8" y1="681.2" x2="381" y2="681.2" stroke="#050505" stroke-width="1.0"/>
<line x1="292.2" y1="637.7" x2="294.2" y2="637.7" stroke="#050505" stroke-width="0.7"/>
<text x="291.4" y="638.7" text-anchor="end" font-family="'Liberation Sans', sans-serif" font-size="3.3" fill="#000" stroke="#000" stroke-width="0.08">25</text>
<line x1="292.2" y1="646.4" x2="294.2" y2="646.4" stroke="#050505" stroke-width="0.7"/>
<text x="291.4" y="647.4" text-anchor="end" font-family="'Liberation Sans', sans-serif" font-size="3.3" fill="#000" stroke="#000" stroke-width="0.08">20</text>
<line x1="292.2" y1="655.1" x2="294.2" y2="655.1" stroke="#050505" stroke-width="0.7"/>
<text x="291.4" y="656.1" text-anchor="end" font-family="'Liberation Sans', sans-serif" font-size="3.3" fill="#000" stroke="#000" stroke-width="0.08">15</text>
<line x1="292.2" y1="663.8" x2="294.2" y2="663.8" stroke="#050505" stroke-width="0.7"/>
<text x="291.4" y="664.8" text-anchor="end" font-family="'Liberation Sans', sans-serif" font-size="3.3" fill="#000" stroke="#000" stroke-width="0.08">10</text>
<line x1="292.2" y1="672.5" x2="294.2" y2="672.5" stroke="#050505" stroke-width="0.7"/>
<text x="291.4" y="673.5" text-anchor="end" font-family="'Liberation Sans', sans-serif" font-size="3.3" fill="#000" stroke="#000" stroke-width="0.08">5</text>
<line x1="292.2" y1="681.2" x2="294.2" y2="681.2" stroke="#050505" stroke-width="0.7"/>
<text x="291.4" y="682.2" text-anchor="end" font-family="'Liberation Sans', sans-serif" font-size="3.3" fill="#000" stroke="#000" stroke-width="0.08">0</text>
<text x="333.7" y="633.1" text-anchor="middle" font-family="'Liberation Sans', sans-serif" font-size="5.1" font-weight="bold" fill="#000" letter-spacing="0.4">HOXA7</text>
<polyline points="302.5,638 302.5,635 366.2,635 366.2,663.7" fill="none" stroke="#999" stroke-width="0.55"/>
<polyline points="334.5,656 334.5,647 362.5,647 362.5,657.5" fill="none" stroke="#999" stroke-width="0.55"/>
<text x="334.5" y="641.4" text-anchor="middle" font-family="'Liberation Sans', sans-serif" font-size="5.6" fill="#303030">P&lt;0.001</text>
<text x="349.5" y="653.4" text-anchor="middle" font-family="'Liberation Sans', sans-serif" font-size="5.6" fill="#303030">P=0.001</text>
<line x1="297.5" y1="662" x2="317.5" y2="662" stroke="#222" stroke-width="0.6"/>
<circle cx="308.2" cy="643.0" r="1.19" fill="#050505"/>
<circle cx="308.5" cy="653.0" r="1.19" fill="#050505"/>
<circle cx="305.5" cy="654.5" r="1.19" fill="#050505"/>
<circle cx="310.2" cy="655.5" r="1.19" fill="#050505"/>
<circle cx="307.8" cy="658.0" r="1.19" fill="#050505"/>
<circle cx="306.1" cy="660.5" r="1.19" fill="#050505"/>
<circle cx="308.4" cy="662.0" r="1.19" fill="#050505"/>
<circle cx="306.2" cy="666.0" r="1.19" fill="#050505"/>
<circle cx="308.2" cy="667.5" r="1.19" fill="#050505"/>
<circle cx="306.7" cy="671.0" r="1.19" fill="#050505"/>
<circle cx="308.7" cy="672.5" r="1.19" fill="#050505"/>
<circle cx="307.3" cy="681.0" r="1.19" fill="#050505"/>
<line x1="325.5" y1="665.5" x2="346.5" y2="665.5" stroke="#222" stroke-width="0.6"/>
<rect x="334.0" y="656.4" width="2.20" height="2.20" fill="#050505"/>
<rect x="336.4" y="657.4" width="2.20" height="2.20" fill="#050505"/>
<rect x="331.2" y="657.9" width="2.20" height="2.20" fill="#050505"/>
<rect x="334.5" y="659.4" width="2.20" height="2.20" fill="#050505"/>
<rect x="337.2" y="660.4" width="2.20" height="2.20" fill="#050505"/>
<rect x="333.5" y="661.9" width="2.20" height="2.20" fill="#050505"/>
<rect x="336.0" y="662.9" width="2.20" height="2.20" fill="#050505"/>
<rect x="332.8" y="664.4" width="2.20" height="2.20" fill="#050505"/>
<rect x="337.1" y="665.4" width="2.20" height="2.20" fill="#050505"/>
<rect x="331.4" y="666.9" width="2.20" height="2.20" fill="#050505"/>
<rect x="335.0" y="667.9" width="2.20" height="2.20" fill="#050505"/>
<rect x="331.9" y="669.4" width="2.20" height="2.20" fill="#050505"/>
<rect x="337.1" y="670.9" width="2.20" height="2.20" fill="#050505"/>
<rect x="334.5" y="672.6" width="2.20" height="2.20" fill="#050505"/>
<rect x="335.4" y="679.9" width="2.20" height="2.20" fill="#050505"/>
<line x1="356" y1="676" x2="376" y2="676" stroke="#222" stroke-width="0.6"/>
<polygon points="365.5,664.6 366.9,667.1 364.1,667.1" fill="#050505"/>
<polygon points="365.0,667.1 366.4,669.6 363.5,669.6" fill="#050505"/>
<polygon points="366.1,670.6 367.5,673.1 364.6,673.1" fill="#050505"/>
<polygon points="364.6,672.6 366.0,675.1 363.1,675.1" fill="#050505"/>
<polygon points="368.6,674.6 370.0,677.1 367.1,677.1" fill="#050505"/>
<polygon points="364.2,676.1 365.7,678.6 362.8,678.6" fill="#050505"/>
<polygon points="368.6,677.6 370.0,680.1 367.1,680.1" fill="#050505"/>
<polygon points="364.2,678.6 365.7,681.1 362.8,681.1" fill="#050505"/>
<polygon points="370.6,679.1 372.0,681.6 369.2,681.6" fill="#050505"/>
<polygon points="367.0,679.6 368.4,682.1 365.5,682.1" fill="#050505"/>
<polygon points="361.4,679.6 362.8,682.1 360.0,682.1" fill="#050505"/>
<polygon points="375.2,679.6 376.6,682.1 373.8,682.1" fill="#050505"/>
<polygon points="356.8,679.6 358.2,682.1 355.4,682.1" fill="#050505"/>
<polygon points="372.9,679.6 374.3,682.1 371.5,682.1" fill="#050505"/>
<polygon points="359.1,679.6 360.5,682.1 357.7,682.1" fill="#050505"/>
<text x="307.5" y="688.3" text-anchor="middle" font-family="'Liberation Sans', sans-serif" font-size="5.0" fill="#303030" letter-spacing="0.35">DNMT3A</text>
<text x="307.5" y="692.9" text-anchor="middle" font-family="'Liberation Sans', sans-serif" font-size="5.0" fill="#303030" letter-spacing="0.25">(n=12)</text>
<text x="336" y="688.3" text-anchor="middle" font-family="'Liberation Sans', sans-serif" font-size="5.0" fill="#303030" letter-spacing="0.35">MLL</text>
<text x="336" y="692.9" text-anchor="middle" font-family="'Liberation Sans', sans-serif" font-size="5.0" fill="#303030" letter-spacing="0.25">(n=15)</text>
<text x="366" y="688.3" text-anchor="middle" font-family="'Liberation Sans', sans-serif" font-size="5.0" fill="#303030" letter-spacing="0.35">WT</text>
<text x="366" y="692.9" text-anchor="middle" font-family="'Liberation Sans', sans-serif" font-size="5.0" fill="#303030" letter-spacing="0.25">(n=15)</text>
<text transform="translate(280.0,659) rotate(-90)" text-anchor="middle" font-family="'Liberation Sans', sans-serif" font-size="5.3" font-weight="bold" font-style="normal" fill="#000" stroke="#000" stroke-width="0.15" letter-spacing="0.3">Fold</text>
<line x1="418.7" y1="348.7" x2="418.7" y2="392.5" stroke="#050505" stroke-width="1.0"/>
<line x1="418.3" y1="392.5" x2="505" y2="392.5" stroke="#050505" stroke-width="1.0"/>
<line x1="416.7" y1="349.0" x2="418.7" y2="349.0" stroke="#050505" stroke-width="0.7"/>
<text x="415.9" y="350.0" text-anchor="end" font-family="'Liberation Sans', sans-serif" font-size="3.3" fill="#000" stroke="#000" stroke-width="0.08">1000</text>
<line x1="416.7" y1="357.7" x2="418.7" y2="357.7" stroke="#050505" stroke-width="0.7"/>
<text x="415.9" y="358.7" text-anchor="end" font-family="'Liberation Sans', sans-serif" font-size="3.3" fill="#000" stroke="#000" stroke-width="0.08">800</text>
<line x1="416.7" y1="366.4" x2="418.7" y2="366.4" stroke="#050505" stroke-width="0.7"/>
<text x="415.9" y="367.4" text-anchor="end" font-family="'Liberation Sans', sans-serif" font-size="3.3" fill="#000" stroke="#000" stroke-width="0.08">600</text>
<line x1="416.7" y1="375.1" x2="418.7" y2="375.1" stroke="#050505" stroke-width="0.7"/>
<text x="415.9" y="376.1" text-anchor="end" font-family="'Liberation Sans', sans-serif" font-size="3.3" fill="#000" stroke="#000" stroke-width="0.08">400</text>
<line x1="416.7" y1="383.8" x2="418.7" y2="383.8" stroke="#050505" stroke-width="0.7"/>
<text x="415.9" y="384.8" text-anchor="end" font-family="'Liberation Sans', sans-serif" font-size="3.3" fill="#000" stroke="#000" stroke-width="0.08">200</text>
<line x1="416.7" y1="392.5" x2="418.7" y2="392.5" stroke="#050505" stroke-width="0.7"/>
<text x="415.9" y="393.5" text-anchor="end" font-family="'Liberation Sans', sans-serif" font-size="3.3" fill="#000" stroke="#000" stroke-width="0.08">0</text>
<text x="462.5" y="344.9" text-anchor="middle" font-family="'Liberation Sans', sans-serif" font-size="5.1" font-weight="bold" fill="#000" letter-spacing="0.4">HOXA9</text>
<polyline points="431.2,356 431.2,347 463,347 463,352.5" fill="none" stroke="#999" stroke-width="0.55"/>
<polyline points="463,352.5 463,347 495,347 495,378.7" fill="none" stroke="#999" stroke-width="0.55"/>
<text x="447.5" y="352.1" text-anchor="middle" font-family="'Liberation Sans', sans-serif" font-size="5.4" fill="#303030">P&gt;0.04</text>
<text x="478.7" y="353.3" text-anchor="middle" font-family="'Liberation Sans', sans-serif" font-size="5.4" fill="#303030">P=0.002</text>
<line x1="423" y1="380.5" x2="443" y2="380.5" stroke="#222" stroke-width="0.6"/>
<circle cx="433.2" cy="369.5" r="1.19" fill="#050505"/>
<circle cx="430.7" cy="370.5" r="1.19" fill="#050505"/>
<circle cx="434.2" cy="372.5" r="1.19" fill="#050505"/>
<circle cx="434.5" cy="376.0" r="1.19" fill="#050505"/>
<circle cx="432.2" cy="378.0" r="1.19" fill="#050505"/>
<circle cx="434.2" cy="380.0" r="1.19" fill="#050505"/>
<circle cx="431.5" cy="381.5" r="1.19" fill="#050505"/>
<circle cx="434.6" cy="383.0" r="1.19" fill="#050505"/>
<circle cx="430.4" cy="385.0" r="1.19" fill="#050505"/>
<circle cx="433.0" cy="386.5" r="1.19" fill="#050505"/>
<circle cx="435.3" cy="388.0" r="1.19" fill="#050505"/>
<circle cx="432.4" cy="392.5" r="1.19" fill="#050505"/>
<line x1="453" y1="378" x2="473" y2="378" stroke="#222" stroke-width="0.6"/>
<rect x="462.4" y="348.4" width="2.20" height="2.20" fill="#050505"/>
<rect x="461.9" y="351.4" width="2.20" height="2.20" fill="#050505"/>
<rect x="461.9" y="364.4" width="2.20" height="2.20" fill="#050505"/>
<rect x="460.8" y="371.4" width="2.20" height="2.20" fill="#050505"/>
<rect x="463.5" y="373.9" width="2.20" height="2.20" fill="#050505"/>
<rect x="461.5" y="375.9" width="2.20" height="2.20" fill="#050505"/>
<rect x="465.4" y="377.4" width="2.20" height="2.20" fill="#050505"/>
<rect x="458.5" y="378.9" width="2.20" height="2.20" fill="#050505"/>
<rect x="465.2" y="379.9" width="2.20" height="2.20" fill="#050505"/>
<rect x="457.6" y="381.4" width="2.20" height="2.20" fill="#050505"/>
<rect x="462.4" y="382.4" width="2.20" height="2.20" fill="#050505"/>
<rect x="459.9" y="383.4" width="2.20" height="2.20" fill="#050505"/>
<rect x="465.3" y="384.4" width="2.20" height="2.20" fill="#050505"/>
<rect x="460.3" y="385.9" width="2.20" height="2.20" fill="#050505"/>
<rect x="463.2" y="387.6" width="2.20" height="2.20" fill="#050505"/>
<line x1="483.7" y1="386.2" x2="503.7" y2="386.2" stroke="#222" stroke-width="0.6"/>
<polygon points="493.4,371.6 494.8,374.1 492.0,374.1" fill="#050505"/>
<polygon points="495.2,381.1 496.6,383.6 493.8,383.6" fill="#050505"/>
<polygon points="492.2,382.1 493.6,384.6 490.8,384.6" fill="#050505"/>
<polygon points="498.3,382.6 499.7,385.1 496.9,385.1" fill="#050505"/>
<polygon points="495.5,384.1 497.0,386.6 494.1,386.6" fill="#050505"/>
<polygon points="490.5,385.6 491.9,388.1 489.0,388.1" fill="#050505"/>
<polygon points="493.9,386.6 495.3,389.1 492.5,389.1" fill="#050505"/>
<polygon points="489.5,388.1 490.9,390.6 488.0,390.6" fill="#050505"/>
<polygon points="495.3,389.1 496.7,391.6 493.9,391.6" fill="#050505"/>
<polygon points="491.6,390.1 493.0,392.6 490.1,392.6" fill="#050505"/>
<polygon points="497.4,390.6 498.9,393.1 496.0,393.1" fill="#050505"/>
<polygon points="489.1,391.1 490.5,393.6 487.7,393.6" fill="#050505"/>
<polygon points="500.6,391.1 502.0,393.6 499.2,393.6" fill="#050505"/>
<polygon points="484.5,391.1 485.9,393.6 483.1,393.6" fill="#050505"/>
<polygon points="493.7,391.1 495.1,393.6 492.3,393.6" fill="#050505"/>
<text x="433" y="399.8" text-anchor="middle" font-family="'Liberation Sans', sans-serif" font-size="5.0" fill="#303030" letter-spacing="0.35">DNMT3A</text>
<text x="433" y="405.2" text-anchor="middle" font-family="'Liberation Sans', sans-serif" font-size="5.0" fill="#303030" letter-spacing="0.25">(n=12)</text>
<text x="463" y="399.8" text-anchor="middle" font-family="'Liberation Sans', sans-serif" font-size="5.0" fill="#303030" letter-spacing="0.35">MLL</text>
<text x="463" y="405.2" text-anchor="middle" font-family="'Liberation Sans', sans-serif" font-size="5.0" fill="#303030" letter-spacing="0.25">(n=15)</text>
<text x="493.7" y="399.8" text-anchor="middle" font-family="'Liberation Sans', sans-serif" font-size="5.0" fill="#303030" letter-spacing="0.35">WT</text>
<text x="493.7" y="405.2" text-anchor="middle" font-family="'Liberation Sans', sans-serif" font-size="5.0" fill="#303030" letter-spacing="0.25">(n=15)</text>
<text transform="translate(406.2,368.3) rotate(-90)" text-anchor="middle" font-family="'Liberation Sans', sans-serif" font-size="5.3" font-weight="bold" font-style="italic" fill="#000" stroke="#000" stroke-width="0.15" letter-spacing="0.3">Fold</text>
<text transform="translate(402.3,394.3) rotate(-90)" text-anchor="middle" font-family="'Liberation Sans', sans-serif" font-size="5.3" font-weight="bold" font-style="italic" fill="#000" stroke="#000" stroke-width="0.15" letter-spacing="0.3">Fold</text>
<line x1="414.2" y1="420" x2="414.2" y2="463.2" stroke="#050505" stroke-width="1.0"/>
<line x1="413.8" y1="463.2" x2="498.7" y2="463.2" stroke="#050505" stroke-width="1.0"/>
<line x1="412.2" y1="420.2" x2="414.2" y2="420.2" stroke="#050505" stroke-width="0.7"/>
<text x="411.4" y="421.2" text-anchor="end" font-family="'Liberation Sans', sans-serif" font-size="3.3" fill="#000" stroke="#000" stroke-width="0.08">50</text>
<line x1="412.2" y1="428.8" x2="414.2" y2="428.8" stroke="#050505" stroke-width="0.7"/>
<text x="411.4" y="429.8" text-anchor="end" font-family="'Liberation Sans', sans-serif" font-size="3.3" fill="#000" stroke="#000" stroke-width="0.08">40</text>
<line x1="412.2" y1="437.4" x2="414.2" y2="437.4" stroke="#050505" stroke-width="0.7"/>
<text x="411.4" y="438.4" text-anchor="end" font-family="'Liberation Sans', sans-serif" font-size="3.3" fill="#000" stroke="#000" stroke-width="0.08">30</text>
<line x1="412.2" y1="446.0" x2="414.2" y2="446.0" stroke="#050505" stroke-width="0.7"/>
<text x="411.4" y="447.0" text-anchor="end" font-family="'Liberation Sans', sans-serif" font-size="3.3" fill="#000" stroke="#000" stroke-width="0.08">20</text>
<line x1="412.2" y1="454.6" x2="414.2" y2="454.6" stroke="#050505" stroke-width="0.7"/>
<text x="411.4" y="455.6" text-anchor="end" font-family="'Liberation Sans', sans-serif" font-size="3.3" fill="#000" stroke="#000" stroke-width="0.08">10</text>
<line x1="412.2" y1="463.2" x2="414.2" y2="463.2" stroke="#050505" stroke-width="0.7"/>
<text x="411.4" y="464.2" text-anchor="end" font-family="'Liberation Sans', sans-serif" font-size="3.3" fill="#000" stroke="#000" stroke-width="0.08">0</text>
<text x="460" y="416.1" text-anchor="middle" font-family="'Liberation Sans', sans-serif" font-size="5.1" font-weight="bold" fill="#000" letter-spacing="0.4">HOXA10</text>
<polyline points="431.2,425 431.2,417.5 490,417.5 490,433.7" fill="none" stroke="#999" stroke-width="0.55"/>
<polyline points="460,426 460,419.2 486.2,419.2 486.2,435" fill="none" stroke="#999" stroke-width="0.55"/>
<text x="443.7" y="423.3" text-anchor="middle" font-family="'Liberation Sans', sans-serif" font-size="5.4" fill="#303030">P&lt;0.001</text>
<text x="472.5" y="425.1" text-anchor="middle" font-family="'Liberation Sans', sans-serif" font-size="5.4" fill="#303030">P=0.035</text>
<line x1="418.7" y1="445" x2="438.7" y2="445" stroke="#222" stroke-width="0.6"/>
<circle cx="429.7" cy="432.0" r="1.19" fill="#050505"/>
<circle cx="426.5" cy="432.5" r="1.19" fill="#050505"/>
<circle cx="432.0" cy="434.5" r="1.19" fill="#050505"/>
<circle cx="427.2" cy="436.0" r="1.19" fill="#050505"/>
<circle cx="429.2" cy="441.5" r="1.19" fill="#050505"/>
<circle cx="426.4" cy="444.0" r="1.19" fill="#050505"/>
<circle cx="428.4" cy="446.0" r="1.19" fill="#050505"/>
<circle cx="427.7" cy="449.5" r="1.19" fill="#050505"/>
<circle cx="430.2" cy="451.0" r="1.19" fill="#050505"/>
<circle cx="427.7" cy="452.5" r="1.19" fill="#050505"/>
<circle cx="428.4" cy="455.0" r="1.19" fill="#050505"/>
<circle cx="428.3" cy="463.0" r="1.19" fill="#050505"/>
<line x1="447.5" y1="447.5" x2="467.5" y2="447.5" stroke="#222" stroke-width="0.6"/>
<rect x="457.0" y="426.9" width="2.20" height="2.20" fill="#050505"/>
<rect x="455.8" y="430.4" width="2.20" height="2.20" fill="#050505"/>
<rect x="456.4" y="435.9" width="2.20" height="2.20" fill="#050505"/>
<rect x="457.0" y="438.9" width="2.20" height="2.20" fill="#050505"/>
<rect x="458.5" y="443.4" width="2.20" height="2.20" fill="#050505"/>
<rect x="453.1" y="444.4" width="2.20" height="2.20" fill="#050505"/>
<rect x="455.8" y="445.4" width="2.20" height="2.20" fill="#050505"/>
<rect x="459.8" y="446.4" width="2.20" height="2.20" fill="#050505"/>
<rect x="456.0" y="447.9" width="2.20" height="2.20" fill="#050505"/>
<rect x="459.7" y="449.4" width="2.20" height="2.20" fill="#050505"/>
<rect x="452.9" y="450.4" width="2.20" height="2.20" fill="#050505"/>
<rect x="456.7" y="451.9" width="2.20" height="2.20" fill="#050505"/>
<rect x="454.6" y="453.4" width="2.20" height="2.20" fill="#050505"/>
<rect x="457.4" y="454.9" width="2.20" height="2.20" fill="#050505"/>
<rect x="457.1" y="457.9" width="2.20" height="2.20" fill="#050505"/>
<line x1="477" y1="456.7" x2="497" y2="456.7" stroke="#222" stroke-width="0.6"/>
<polygon points="487.7,442.3 489.1,444.8 486.2,444.8" fill="#050505"/>
<polygon points="488.6,447.1 490.0,449.6 487.1,449.6" fill="#050505"/>
<polygon points="486.2,449.1 487.7,451.6 484.8,451.6" fill="#050505"/>
<polygon points="488.3,450.6 489.7,453.1 486.9,453.1" fill="#050505"/>
<polygon points="485.1,452.6 486.5,455.1 483.7,455.1" fill="#050505"/>
<polygon points="488.3,454.1 489.7,456.6 486.8,456.6" fill="#050505"/>
<polygon points="484.8,455.6 486.2,458.1 483.3,458.1" fill="#050505"/>
<polygon points="488.3,457.1 489.7,459.6 486.9,459.6" fill="#050505"/>
<polygon points="485.5,458.6 486.9,461.1 484.1,461.1" fill="#050505"/>
<polygon points="490.2,460.1 491.6,462.6 488.8,462.6" fill="#050505"/>
<polygon points="485.2,461.6 486.7,464.1 483.8,464.1" fill="#050505"/>
<polygon points="487.9,461.6 489.3,464.1 486.5,464.1" fill="#050505"/>
<polygon points="482.4,461.6 483.8,464.1 481.0,464.1" fill="#050505"/>
<polygon points="493.9,461.6 495.3,464.1 492.5,464.1" fill="#050505"/>
<polygon points="477.8,461.6 479.2,464.1 476.4,464.1" fill="#050505"/>
<text x="428.7" y="471.0" text-anchor="middle" font-family="'Liberation Sans', sans-serif" font-size="5.0" fill="#303030" letter-spacing="0.35">DNMT3A</text>
<text x="428.7" y="476.2" text-anchor="middle" font-family="'Liberation Sans', sans-serif" font-size="5.0" fill="#303030" letter-spacing="0.25">(n=12)</text>
<text x="457.5" y="471.0" text-anchor="middle" font-family="'Liberation Sans', sans-serif" font-size="5.0" fill="#303030" letter-spacing="0.35">MLL</text>
<text x="457.5" y="476.2" text-anchor="middle" font-family="'Liberation Sans', sans-serif" font-size="5.0" fill="#303030" letter-spacing="0.25">(n=15)</text>
<text x="487" y="471.0" text-anchor="middle" font-family="'Liberation Sans', sans-serif" font-size="5.0" fill="#303030" letter-spacing="0.35">WT</text>
<text x="487" y="476.2" text-anchor="middle" font-family="'Liberation Sans', sans-serif" font-size="5.0" fill="#303030" letter-spacing="0.25">(n=15)</text>
<line x1="414.2" y1="492.5" x2="414.2" y2="536.2" stroke="#050505" stroke-width="1.0"/>
<line x1="413.8" y1="536.2" x2="498.7" y2="536.2" stroke="#050505" stroke-width="1.0"/>
<line x1="412.2" y1="492.7" x2="414.2" y2="492.7" stroke="#050505" stroke-width="0.7"/>
<text x="411.4" y="493.7" text-anchor="end" font-family="'Liberation Sans', sans-serif" font-size="3.3" fill="#000" stroke="#000" stroke-width="0.08">20</text>
<line x1="412.2" y1="503.6" x2="414.2" y2="503.6" stroke="#050505" stroke-width="0.7"/>
<text x="411.4" y="504.6" text-anchor="end" font-family="'Liberation Sans', sans-serif" font-size="3.3" fill="#000" stroke="#000" stroke-width="0.08">15</text>
<line x1="412.2" y1="514.5" x2="414.2" y2="514.5" stroke="#050505" stroke-width="0.7"/>
<text x="411.4" y="515.5" text-anchor="end" font-family="'Liberation Sans', sans-serif" font-size="3.3" fill="#000" stroke="#000" stroke-width="0.08">10</text>
<line x1="412.2" y1="525.3" x2="414.2" y2="525.3" stroke="#050505" stroke-width="0.7"/>
<text x="411.4" y="526.3" text-anchor="end" font-family="'Liberation Sans', sans-serif" font-size="3.3" fill="#000" stroke="#000" stroke-width="0.08">5</text>
<line x1="412.2" y1="536.2" x2="414.2" y2="536.2" stroke="#050505" stroke-width="0.7"/>
<text x="411.4" y="537.2" text-anchor="end" font-family="'Liberation Sans', sans-serif" font-size="3.3" fill="#000" stroke="#000" stroke-width="0.08">0</text>
<text x="458.7" y="488.1" text-anchor="middle" font-family="'Liberation Sans', sans-serif" font-size="5.1" font-weight="bold" fill="#000" letter-spacing="0.4">HOXA11</text>
<text x="459.3" y="500.6" text-anchor="middle" font-family="'Liberation Sans', sans-serif" font-size="6.0" fill="#303030">P&gt;0.05</text>
<line x1="418.7" y1="533.7" x2="438.7" y2="533.7" stroke="#222" stroke-width="0.6"/>
<circle cx="429.0" cy="522.5" r="1.19" fill="#050505"/>
<circle cx="429.2" cy="528.7" r="1.19" fill="#050505"/>
<circle cx="432.8" cy="533.0" r="1.19" fill="#050505"/>
<circle cx="424.9" cy="533.5" r="1.19" fill="#050505"/>
<circle cx="430.0" cy="534.0" r="1.19" fill="#050505"/>
<circle cx="435.6" cy="534.5" r="1.19" fill="#050505"/>
<circle cx="421.8" cy="535.0" r="1.19" fill="#050505"/>
<circle cx="433.0" cy="535.5" r="1.19" fill="#050505"/>
<circle cx="426.9" cy="536.0" r="1.19" fill="#050505"/>
<circle cx="424.1" cy="536.0" r="1.19" fill="#050505"/>
<circle cx="437.9" cy="536.0" r="1.19" fill="#050505"/>
<circle cx="419.5" cy="536.0" r="1.19" fill="#050505"/>
<line x1="448" y1="531.7" x2="468" y2="531.7" stroke="#222" stroke-width="0.6"/>
<rect x="457.5" y="501.9" width="2.20" height="2.20" fill="#050505"/>
<rect x="457.1" y="524.9" width="2.20" height="2.20" fill="#050505"/>
<rect x="454.6" y="525.4" width="2.20" height="2.20" fill="#050505"/>
<rect x="457.6" y="528.4" width="2.20" height="2.20" fill="#050505"/>
<rect x="453.3" y="532.6" width="2.20" height="2.20" fill="#050505"/>
<rect x="458.2" y="533.4" width="2.20" height="2.20" fill="#050505"/>
<rect x="455.8" y="533.9" width="2.20" height="2.20" fill="#050505"/>
<rect x="460.8" y="534.4" width="2.20" height="2.20" fill="#050505"/>
<rect x="452.3" y="534.9" width="2.20" height="2.20" fill="#050505"/>
<rect x="463.8" y="534.9" width="2.20" height="2.20" fill="#050505"/>
<rect x="447.7" y="534.9" width="2.20" height="2.20" fill="#050505"/>
<rect x="466.1" y="534.9" width="2.20" height="2.20" fill="#050505"/>
<rect x="450.0" y="534.9" width="2.20" height="2.20" fill="#050505"/>
<rect x="459.0" y="534.9" width="2.20" height="2.20" fill="#050505"/>
<rect x="454.1" y="534.9" width="2.20" height="2.20" fill="#050505"/>
<line x1="477.5" y1="534" x2="497.5" y2="534" stroke="#222" stroke-width="0.6"/>
<polygon points="486.8,509.6 488.3,512.1 485.4,512.1" fill="#050505"/>
<polygon points="487.2,532.6 488.6,535.1 485.8,535.1" fill="#050505"/>
<polygon points="484.5,533.1 485.9,535.6 483.1,535.6" fill="#050505"/>
<polygon points="491.8,533.6 493.3,536.1 490.4,536.1" fill="#050505"/>
<polygon points="494.4,534.1 495.8,536.6 493.0,536.6" fill="#050505"/>
<polygon points="488.9,534.6 490.3,537.1 487.5,537.1" fill="#050505"/>
<polygon points="480.6,534.6 482.0,537.1 479.2,537.1" fill="#050505"/>
<polygon points="496.7,534.6 498.1,537.1 495.3,537.1" fill="#050505"/>
<polygon points="478.3,534.6 479.7,537.1 476.9,537.1" fill="#050505"/>
<polygon points="486.2,534.6 487.6,537.1 484.8,537.1" fill="#050505"/>
<polygon points="482.9,534.6 484.3,537.1 481.5,537.1" fill="#050505"/>
<polygon points="490.6,534.6 492.0,537.1 489.1,537.1" fill="#050505"/>
<text x="428.7" y="544.3" text-anchor="middle" font-family="'Liberation Sans', sans-serif" font-size="5.0" fill="#303030" letter-spacing="0.35">DNMT3A</text>
<text x="428.7" y="549.1" text-anchor="middle" font-family="'Liberation Sans', sans-serif" font-size="5.0" fill="#303030" letter-spacing="0.25">(n=12)</text>
<text x="458" y="544.3" text-anchor="middle" font-family="'Liberation Sans', sans-serif" font-size="5.0" fill="#303030" letter-spacing="0.35">MLL</text>
<text x="458" y="549.1" text-anchor="middle" font-family="'Liberation Sans', sans-serif" font-size="5.0" fill="#303030" letter-spacing="0.25">(n=15)</text>
<text x="487.5" y="544.3" text-anchor="middle" font-family="'Liberation Sans', sans-serif" font-size="5.0" fill="#303030" letter-spacing="0.35">WT</text>
<text x="487.5" y="549.1" text-anchor="middle" font-family="'Liberation Sans', sans-serif" font-size="5.0" fill="#303030" letter-spacing="0.25">(n=15)</text>
<text transform="translate(402.3,513.7) rotate(-90)" text-anchor="middle" font-family="'Liberation Sans', sans-serif" font-size="5.3" font-weight="bold" font-style="normal" fill="#000" stroke="#000" stroke-width="0.15" letter-spacing="0.3">Fold</text>
<line x1="414.2" y1="562" x2="414.2" y2="606.2" stroke="#050505" stroke-width="1.0"/>
<line x1="413.8" y1="606.2" x2="498.7" y2="606.2" stroke="#050505" stroke-width="1.0"/>
<line x1="412.2" y1="562.2" x2="414.2" y2="562.2" stroke="#050505" stroke-width="0.7"/>
<text x="411.4" y="563.2" text-anchor="end" font-family="'Liberation Sans', sans-serif" font-size="3.3" fill="#000" stroke="#000" stroke-width="0.08">100</text>
<line x1="412.2" y1="567.0" x2="414.2" y2="567.0" stroke="#050505" stroke-width="0.7"/>
<text x="411.4" y="568.0" text-anchor="end" font-family="'Liberation Sans', sans-serif" font-size="3.3" fill="#000" stroke="#000" stroke-width="0.08">75</text>
<line x1="412.2" y1="570.0" x2="414.2" y2="570.0" stroke="#050505" stroke-width="0.7"/>
<text x="411.4" y="571.0" text-anchor="end" font-family="'Liberation Sans', sans-serif" font-size="3.3" fill="#000" stroke="#000" stroke-width="0.08">50</text>
<line x1="412.2" y1="577.0" x2="414.2" y2="577.0" stroke="#050505" stroke-width="0.7"/>
<text x="411.4" y="578.0" text-anchor="end" font-family="'Liberation Sans', sans-serif" font-size="3.3" fill="#000" stroke="#000" stroke-width="0.08">40</text>
<line x1="412.2" y1="584.4" x2="414.2" y2="584.4" stroke="#050505" stroke-width="0.7"/>
<text x="411.4" y="585.4" text-anchor="end" font-family="'Liberation Sans', sans-serif" font-size="3.3" fill="#000" stroke="#000" stroke-width="0.08">30</text>
<line x1="412.2" y1="591.7" x2="414.2" y2="591.7" stroke="#050505" stroke-width="0.7"/>
<text x="411.4" y="592.7" text-anchor="end" font-family="'Liberation Sans', sans-serif" font-size="3.3" fill="#000" stroke="#000" stroke-width="0.08">20</text>
<line x1="412.2" y1="599.0" x2="414.2" y2="599.0" stroke="#050505" stroke-width="0.7"/>
<text x="411.4" y="600.0" text-anchor="end" font-family="'Liberation Sans', sans-serif" font-size="3.3" fill="#000" stroke="#000" stroke-width="0.08">10</text>
<line x1="412.2" y1="606.2" x2="414.2" y2="606.2" stroke="#050505" stroke-width="0.7"/>
<text x="411.4" y="607.2" text-anchor="end" font-family="'Liberation Sans', sans-serif" font-size="3.3" fill="#000" stroke="#000" stroke-width="0.08">0</text>
<rect x="412.0" y="572.3" width="4.4" height="1.4" fill="#fff"/>
<line x1="412.2" y1="572.3" x2="416.2" y2="572.3" stroke="#050505" stroke-width="0.6"/>
<line x1="412.2" y1="573.7" x2="416.2" y2="573.7" stroke="#050505" stroke-width="0.6"/>
<text x="456.2" y="559.4" text-anchor="middle" font-family="'Liberation Sans', sans-serif" font-size="5.1" font-weight="bold" fill="#000" letter-spacing="0.4">HOXA13</text>
<text x="457" y="568.1" text-anchor="middle" font-family="'Liberation Sans', sans-serif" font-size="6.0" fill="#303030">P&gt;0.05</text>
<line x1="419.5" y1="596.7" x2="439.5" y2="596.7" stroke="#222" stroke-width="0.6"/>
<rect x="427.9" y="565.6" width="2.20" height="2.20" fill="#050505"/>
<rect x="428.9" y="581.4" width="2.20" height="2.20" fill="#050505"/>
<rect x="430.0" y="594.4" width="2.20" height="2.20" fill="#050505"/>
<rect x="426.8" y="595.4" width="2.20" height="2.20" fill="#050505"/>
<rect x="428.3" y="601.9" width="2.20" height="2.20" fill="#050505"/>
<rect x="425.7" y="602.4" width="2.20" height="2.20" fill="#050505"/>
<rect x="430.6" y="602.9" width="2.20" height="2.20" fill="#050505"/>
<rect x="435.3" y="603.4" width="2.20" height="2.20" fill="#050505"/>
<rect x="421.5" y="603.9" width="2.20" height="2.20" fill="#050505"/>
<rect x="428.6" y="604.4" width="2.20" height="2.20" fill="#050505"/>
<rect x="424.5" y="604.9" width="2.20" height="2.20" fill="#050505"/>
<rect x="433.0" y="604.9" width="2.20" height="2.20" fill="#050505"/>
<line x1="447.5" y1="603" x2="467.5" y2="603" stroke="#222" stroke-width="0.6"/>
<rect x="457.3" y="593.9" width="2.20" height="2.20" fill="#050505"/>
<rect x="455.1" y="595.9" width="2.20" height="2.20" fill="#050505"/>
<rect x="457.1" y="599.4" width="2.20" height="2.20" fill="#050505"/>
<rect x="455.5" y="601.9" width="2.20" height="2.20" fill="#050505"/>
<rect x="457.9" y="602.9" width="2.20" height="2.20" fill="#050505"/>
<rect x="460.8" y="603.9" width="2.20" height="2.20" fill="#050505"/>
<rect x="455.1" y="604.4" width="2.20" height="2.20" fill="#050505"/>
<rect x="451.8" y="604.9" width="2.20" height="2.20" fill="#050505"/>
<rect x="463.3" y="604.9" width="2.20" height="2.20" fill="#050505"/>
<rect x="447.2" y="604.9" width="2.20" height="2.20" fill="#050505"/>
<rect x="465.6" y="604.9" width="2.20" height="2.20" fill="#050505"/>
<rect x="449.5" y="604.9" width="2.20" height="2.20" fill="#050505"/>
<rect x="458.7" y="604.9" width="2.20" height="2.20" fill="#050505"/>
<line x1="478" y1="603.7" x2="498" y2="603.7" stroke="#222" stroke-width="0.6"/>
<rect x="487.5" y="591.9" width="2.20" height="2.20" fill="#050505"/>
<rect x="484.6" y="593.4" width="2.20" height="2.20" fill="#050505"/>
<rect x="487.7" y="596.4" width="2.20" height="2.20" fill="#050505"/>
<rect x="487.4" y="601.9" width="2.20" height="2.20" fill="#050505"/>
<rect x="484.6" y="602.9" width="2.20" height="2.20" fill="#050505"/>
<rect x="491.0" y="603.4" width="2.20" height="2.20" fill="#050505"/>
<rect x="493.8" y="603.9" width="2.20" height="2.20" fill="#050505"/>
<rect x="487.2" y="604.4" width="2.20" height="2.20" fill="#050505"/>
<rect x="482.8" y="604.9" width="2.20" height="2.20" fill="#050505"/>
<rect x="480.0" y="604.9" width="2.20" height="2.20" fill="#050505"/>
<rect x="496.1" y="604.9" width="2.20" height="2.20" fill="#050505"/>
<rect x="477.7" y="604.9" width="2.20" height="2.20" fill="#050505"/>
<text x="429.5" y="614.8" text-anchor="middle" font-family="'Liberation Sans', sans-serif" font-size="5.0" fill="#303030" letter-spacing="0.35">DNMT3A</text>
<text x="429.5" y="619.9" text-anchor="middle" font-family="'Liberation Sans', sans-serif" font-size="5.0" fill="#303030" letter-spacing="0.25">(n=12)</text>
<text x="457.5" y="614.8" text-anchor="middle" font-family="'Liberation Sans', sans-serif" font-size="5.0" fill="#303030" letter-spacing="0.35">MLL</text>
<text x="457.5" y="619.9" text-anchor="middle" font-family="'Liberation Sans', sans-serif" font-size="5.0" fill="#303030" letter-spacing="0.25">(n=13)</text>
<text x="488" y="614.8" text-anchor="middle" font-family="'Liberation Sans', sans-serif" font-size="5.0" fill="#303030" letter-spacing="0.35">WT</text>
<text x="488" y="619.9" text-anchor="middle" font-family="'Liberation Sans', sans-serif" font-size="5.0" fill="#303030" letter-spacing="0.25">(n=12)</text>
<text transform="translate(401.8,585) rotate(-90)" text-anchor="middle" font-family="'Liberation Sans', sans-serif" font-size="5.3" font-weight="bold" font-style="normal" fill="#000" stroke="#000" stroke-width="0.15" letter-spacing="0.3">Fold</text>
<line x1="414.2" y1="638" x2="414.2" y2="681" stroke="#050505" stroke-width="1.0"/>
<line x1="413.8" y1="681" x2="498.7" y2="681" stroke="#050505" stroke-width="1.0"/>
<line x1="412.2" y1="638.2" x2="414.2" y2="638.2" stroke="#050505" stroke-width="0.7"/>
<text x="411.4" y="639.2" text-anchor="end" font-family="'Liberation Sans', sans-serif" font-size="3.3" fill="#000" stroke="#000" stroke-width="0.08">40</text>
<line x1="412.2" y1="648.9" x2="414.2" y2="648.9" stroke="#050505" stroke-width="0.7"/>
<text x="411.4" y="649.9" text-anchor="end" font-family="'Liberation Sans', sans-serif" font-size="3.3" fill="#000" stroke="#000" stroke-width="0.08">30</text>
<line x1="412.2" y1="659.6" x2="414.2" y2="659.6" stroke="#050505" stroke-width="0.7"/>
<text x="411.4" y="660.6" text-anchor="end" font-family="'Liberation Sans', sans-serif" font-size="3.3" fill="#000" stroke="#000" stroke-width="0.08">20</text>
<line x1="412.2" y1="670.3" x2="414.2" y2="670.3" stroke="#050505" stroke-width="0.7"/>
<text x="411.4" y="671.3" text-anchor="end" font-family="'Liberation Sans', sans-serif" font-size="3.3" fill="#000" stroke="#000" stroke-width="0.08">10</text>
<line x1="412.2" y1="681.0" x2="414.2" y2="681.0" stroke="#050505" stroke-width="0.7"/>
<text x="411.4" y="682.0" text-anchor="end" font-family="'Liberation Sans', sans-serif" font-size="3.3" fill="#000" stroke="#000" stroke-width="0.08">0</text>
<text x="455.5" y="632.9" text-anchor="middle" font-family="'Liberation Sans', sans-serif" font-size="5.1" font-weight="bold" fill="#000" letter-spacing="0.4">MEIS1</text>
<polyline points="458.7,641 458.7,636 491.2,636 491.2,662" fill="none" stroke="#999" stroke-width="0.55"/>
<text x="475" y="642.4" text-anchor="middle" font-family="'Liberation Sans', sans-serif" font-size="5.6" fill="#303030">P=0.001</text>
<line x1="419.5" y1="672.2" x2="439.5" y2="672.2" stroke="#222" stroke-width="0.6"/>
<circle cx="428.5" cy="665.5" r="1.19" fill="#050505"/>
<circle cx="431.5" cy="668.0" r="1.19" fill="#050505"/>
<circle cx="428.7" cy="669.0" r="1.19" fill="#050505"/>
<circle cx="425.4" cy="670.0" r="1.19" fill="#050505"/>
<circle cx="430.6" cy="671.0" r="1.19" fill="#050505"/>
<circle cx="427.8" cy="672.0" r="1.19" fill="#050505"/>
<circle cx="434.1" cy="673.0" r="1.19" fill="#050505"/>
<circle cx="431.5" cy="674.0" r="1.19" fill="#050505"/>
<circle cx="425.3" cy="675.0" r="1.19" fill="#050505"/>
<circle cx="429.7" cy="676.0" r="1.19" fill="#050505"/>
<circle cx="427.2" cy="677.0" r="1.19" fill="#050505"/>
<circle cx="429.1" cy="681.0" r="1.19" fill="#050505"/>
<line x1="449.0" y1="667.7" x2="470.0" y2="667.7" stroke="#222" stroke-width="0.6"/>
<rect x="457.7" y="641.9" width="2.20" height="2.20" fill="#050505"/>
<rect x="458.4" y="647.4" width="2.20" height="2.20" fill="#050505"/>
<rect x="458.6" y="657.4" width="2.20" height="2.20" fill="#050505"/>
<rect x="460.2" y="664.9" width="2.20" height="2.20" fill="#050505"/>
<rect x="457.0" y="665.9" width="2.20" height="2.20" fill="#050505"/>
<rect x="463.0" y="666.9" width="2.20" height="2.20" fill="#050505"/>
<rect x="460.2" y="668.4" width="2.20" height="2.20" fill="#050505"/>
<rect x="456.2" y="669.9" width="2.20" height="2.20" fill="#050505"/>
<rect x="458.6" y="671.4" width="2.20" height="2.20" fill="#050505"/>
<rect x="456.3" y="672.9" width="2.20" height="2.20" fill="#050505"/>
<rect x="460.9" y="674.9" width="2.20" height="2.20" fill="#050505"/>
<rect x="456.5" y="676.9" width="2.20" height="2.20" fill="#050505"/>
<rect x="460.7" y="678.4" width="2.20" height="2.20" fill="#050505"/>
<rect x="457.5" y="679.9" width="2.20" height="2.20" fill="#050505"/>
<rect x="463.0" y="679.9" width="2.20" height="2.20" fill="#050505"/>
<line x1="479.5" y1="677.2" x2="499.5" y2="677.2" stroke="#222" stroke-width="0.6"/>
<polygon points="489.3,662.6 490.7,665.1 487.8,665.1" fill="#050505"/>
<polygon points="488.8,669.6 490.2,672.1 487.4,672.1" fill="#050505"/>
<polygon points="487.5,673.3 488.9,675.8 486.0,675.8" fill="#050505"/>
<polygon points="491.0,674.6 492.4,677.1 489.5,677.1" fill="#050505"/>
<polygon points="487.6,676.1 489.1,678.6 486.2,678.6" fill="#050505"/>
<polygon points="492.2,677.6 493.6,680.1 490.8,680.1" fill="#050505"/>
<polygon points="486.7,678.6 488.2,681.1 485.3,681.1" fill="#050505"/>
<polygon points="489.7,679.1 491.1,681.6 488.2,681.6" fill="#050505"/>
<polygon points="493.9,679.6 495.3,682.1 492.5,682.1" fill="#050505"/>
<polygon points="496.4,679.6 497.8,682.1 495.0,682.1" fill="#050505"/>
<polygon points="482.6,679.6 484.0,682.1 481.2,682.1" fill="#050505"/>
<polygon points="498.7,679.6 500.1,682.1 497.3,682.1" fill="#050505"/>
<polygon points="480.3,679.6 481.7,682.1 478.9,682.1" fill="#050505"/>
<polygon points="484.9,679.6 486.3,682.1 483.5,682.1" fill="#050505"/>
<polygon points="491.8,679.6 493.2,682.1 490.4,682.1" fill="#050505"/>
<text x="429.5" y="689.0" text-anchor="middle" font-family="'Liberation Sans', sans-serif" font-size="5.0" fill="#303030" letter-spacing="0.35">DNMT3A</text>
<text x="429.5" y="693.7" text-anchor="middle" font-family="'Liberation Sans', sans-serif" font-size="5.0" fill="#303030" letter-spacing="0.25">(n=12)</text>
<text x="459.5" y="689.0" text-anchor="middle" font-family="'Liberation Sans', sans-serif" font-size="5.0" fill="#303030" letter-spacing="0.35">MLL</text>
<text x="459.5" y="693.7" text-anchor="middle" font-family="'Liberation Sans', sans-serif" font-size="5.0" fill="#303030" letter-spacing="0.25">(n=15)</text>
<text x="489.5" y="689.0" text-anchor="middle" font-family="'Liberation Sans', sans-serif" font-size="5.0" fill="#303030" letter-spacing="0.35">WT</text>
<text x="489.5" y="693.7" text-anchor="middle" font-family="'Liberation Sans', sans-serif" font-size="5.0" fill="#303030" letter-spacing="0.25">(n=15)</text>
<text transform="translate(401.8,658.5) rotate(-90)" text-anchor="middle" font-family="'Liberation Sans', sans-serif" font-size="5.3" font-weight="bold" font-style="normal" fill="#000" stroke="#000" stroke-width="0.15" letter-spacing="0.3">Fold</text>
</g>
<text x="3.2" y="14.2" font-family="'Liberation Sans', sans-serif" font-size="11.5" font-weight="bold" fill="#000">A</text>
<text x="109" y="14.2" font-family="'Liberation Sans', sans-serif" font-size="11.5" font-weight="bold" fill="#000">B</text>
<text x="130.6" y="337.8" font-family="'Liberation Sans', sans-serif" font-size="11.5" font-weight="bold" fill="#000">C</text>
<text x="283.4" y="338" font-family="'Liberation Sans', sans-serif" font-size="11.5" font-weight="bold" fill="#000">D</text>
</svg>
</body>
</html>
